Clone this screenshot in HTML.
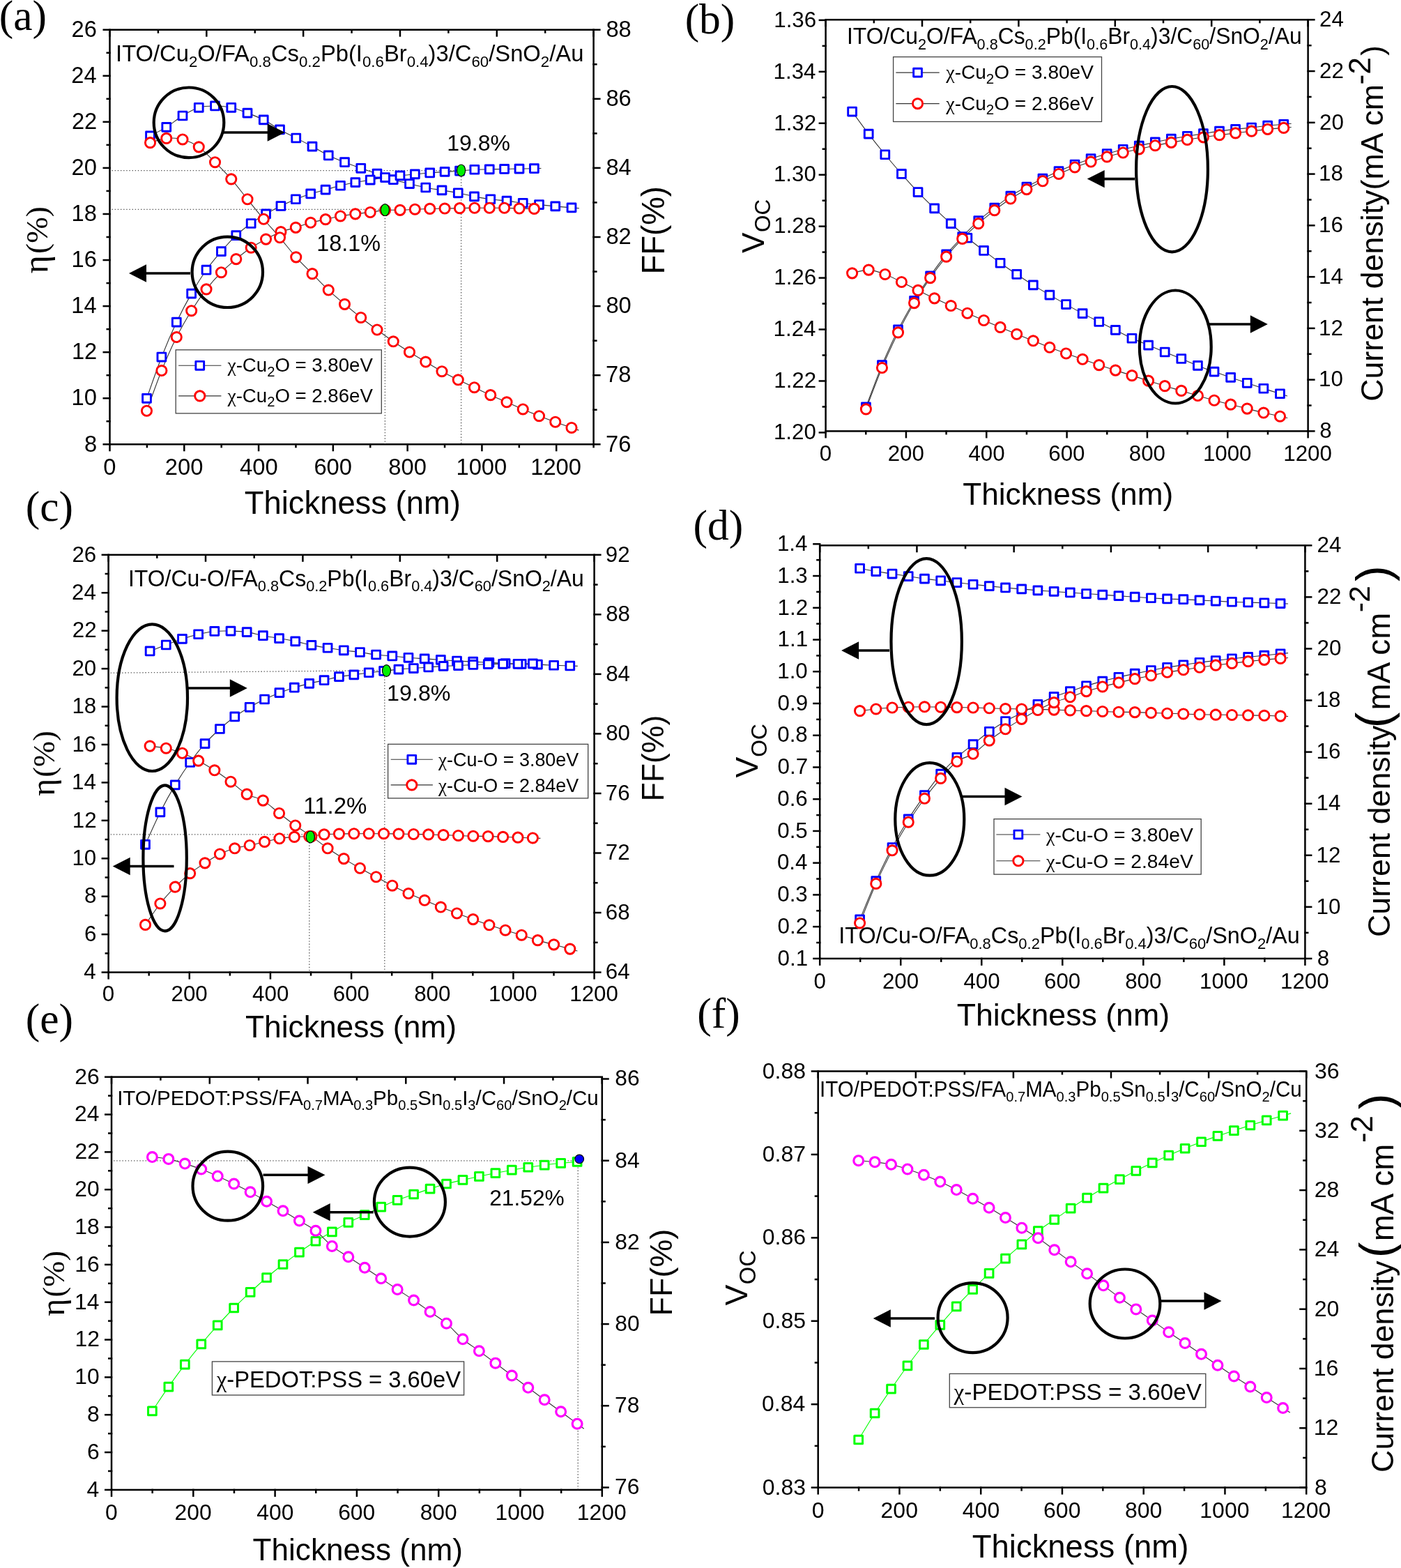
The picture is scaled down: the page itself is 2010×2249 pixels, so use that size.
<!DOCTYPE html>
<html><head><meta charset="utf-8"><title>Figure</title>
<style>html,body{margin:0;padding:0;background:#fff;overflow:hidden;}svg{display:block;}</style>
</head><body>
<svg width="2010" height="2249" viewBox="0 0 2010 2249">
<rect width="2010" height="2249" fill="#fff"/>
<rect x="157.5" y="42.7" width="694.1" height="594.6" fill="none" stroke="#000" stroke-width="2.5"/>
<line x1="157.5" y1="636.05" x2="157.5" y2="647.3" stroke="#000" stroke-width="2.5" />
<g transform="translate(148.34,680.7)"><text x="0" y="0" font-size="32.7" font-family="'Liberation Sans', Arial, sans-serif" >0</text></g>
<line x1="210.89" y1="636.05" x2="210.89" y2="642.3" stroke="#000" stroke-width="2.5" />
<line x1="264.28" y1="636.05" x2="264.28" y2="647.3" stroke="#000" stroke-width="2.5" />
<g transform="translate(236.82,680.7)"><text x="0" y="0" font-size="32.7" font-family="'Liberation Sans', Arial, sans-serif" >200</text></g>
<line x1="317.68" y1="636.05" x2="317.68" y2="642.3" stroke="#000" stroke-width="2.5" />
<line x1="371.07" y1="636.05" x2="371.07" y2="647.3" stroke="#000" stroke-width="2.5" />
<g transform="translate(344.09,680.7)"><text x="0" y="0" font-size="32.7" font-family="'Liberation Sans', Arial, sans-serif" >400</text></g>
<line x1="424.46" y1="636.05" x2="424.46" y2="642.3" stroke="#000" stroke-width="2.5" />
<line x1="477.85" y1="636.05" x2="477.85" y2="647.3" stroke="#000" stroke-width="2.5" />
<g transform="translate(450.39,680.7)"><text x="0" y="0" font-size="32.7" font-family="'Liberation Sans', Arial, sans-serif" >600</text></g>
<line x1="531.25" y1="636.05" x2="531.25" y2="642.3" stroke="#000" stroke-width="2.5" />
<line x1="584.64" y1="636.05" x2="584.64" y2="647.3" stroke="#000" stroke-width="2.5" />
<g transform="translate(557.33,680.7)"><text x="0" y="0" font-size="32.7" font-family="'Liberation Sans', Arial, sans-serif" >800</text></g>
<line x1="638.03" y1="636.05" x2="638.03" y2="642.3" stroke="#000" stroke-width="2.5" />
<line x1="691.42" y1="636.05" x2="691.42" y2="647.3" stroke="#000" stroke-width="2.5" />
<g transform="translate(654.47,680.7)"><text x="0" y="0" font-size="32.7" font-family="'Liberation Sans', Arial, sans-serif" >1000</text></g>
<line x1="744.82" y1="636.05" x2="744.82" y2="642.3" stroke="#000" stroke-width="2.5" />
<line x1="798.21" y1="636.05" x2="798.21" y2="647.3" stroke="#000" stroke-width="2.5" />
<g transform="translate(761.26,680.7)"><text x="0" y="0" font-size="32.7" font-family="'Liberation Sans', Arial, sans-serif" >1200</text></g>
<line x1="851.6" y1="636.05" x2="851.6" y2="642.3" stroke="#000" stroke-width="2.5" />
<line x1="157.5" y1="42.7" x2="157.5" y2="52.7" stroke="#000" stroke-width="2.5" />
<line x1="226.91" y1="42.7" x2="226.91" y2="47.7" stroke="#000" stroke-width="2.5" />
<line x1="296.32" y1="42.7" x2="296.32" y2="52.7" stroke="#000" stroke-width="2.5" />
<line x1="365.73" y1="42.7" x2="365.73" y2="47.7" stroke="#000" stroke-width="2.5" />
<line x1="435.14" y1="42.7" x2="435.14" y2="52.7" stroke="#000" stroke-width="2.5" />
<line x1="504.55" y1="42.7" x2="504.55" y2="47.7" stroke="#000" stroke-width="2.5" />
<line x1="573.96" y1="42.7" x2="573.96" y2="52.7" stroke="#000" stroke-width="2.5" />
<line x1="643.37" y1="42.7" x2="643.37" y2="47.7" stroke="#000" stroke-width="2.5" />
<line x1="712.78" y1="42.7" x2="712.78" y2="52.7" stroke="#000" stroke-width="2.5" />
<line x1="782.19" y1="42.7" x2="782.19" y2="47.7" stroke="#000" stroke-width="2.5" />
<line x1="851.6" y1="42.7" x2="851.6" y2="52.7" stroke="#000" stroke-width="2.5" />
<line x1="147.5" y1="637.3" x2="158.75" y2="637.3" stroke="#000" stroke-width="2.5" />
<g transform="translate(120.92,647.54)"><text x="0" y="0" font-size="32.7" font-family="'Liberation Sans', Arial, sans-serif" >8</text></g>
<line x1="152.5" y1="604.27" x2="158.75" y2="604.27" stroke="#000" stroke-width="2.5" />
<line x1="147.5" y1="571.23" x2="158.75" y2="571.23" stroke="#000" stroke-width="2.5" />
<g transform="translate(102.61,581.48)"><text x="0" y="0" font-size="32.7" font-family="'Liberation Sans', Arial, sans-serif" >10</text></g>
<line x1="152.5" y1="538.2" x2="158.75" y2="538.2" stroke="#000" stroke-width="2.5" />
<line x1="147.5" y1="505.17" x2="158.75" y2="505.17" stroke="#000" stroke-width="2.5" />
<g transform="translate(102.94,515.41)"><text x="0" y="0" font-size="32.7" font-family="'Liberation Sans', Arial, sans-serif" >12</text></g>
<line x1="152.5" y1="472.13" x2="158.75" y2="472.13" stroke="#000" stroke-width="2.5" />
<line x1="147.5" y1="439.1" x2="158.75" y2="439.1" stroke="#000" stroke-width="2.5" />
<g transform="translate(102.28,449.35)"><text x="0" y="0" font-size="32.7" font-family="'Liberation Sans', Arial, sans-serif" >14</text></g>
<line x1="152.5" y1="406.07" x2="158.75" y2="406.07" stroke="#000" stroke-width="2.5" />
<line x1="147.5" y1="373.03" x2="158.75" y2="373.03" stroke="#000" stroke-width="2.5" />
<g transform="translate(102.61,383.28)"><text x="0" y="0" font-size="32.7" font-family="'Liberation Sans', Arial, sans-serif" >16</text></g>
<line x1="152.5" y1="340" x2="158.75" y2="340" stroke="#000" stroke-width="2.5" />
<line x1="147.5" y1="306.97" x2="158.75" y2="306.97" stroke="#000" stroke-width="2.5" />
<g transform="translate(102.61,317.21)"><text x="0" y="0" font-size="32.7" font-family="'Liberation Sans', Arial, sans-serif" >18</text></g>
<line x1="152.5" y1="273.93" x2="158.75" y2="273.93" stroke="#000" stroke-width="2.5" />
<line x1="147.5" y1="240.9" x2="158.75" y2="240.9" stroke="#000" stroke-width="2.5" />
<g transform="translate(102.61,251.15)"><text x="0" y="0" font-size="32.7" font-family="'Liberation Sans', Arial, sans-serif" >20</text></g>
<line x1="152.5" y1="207.87" x2="158.75" y2="207.87" stroke="#000" stroke-width="2.5" />
<line x1="147.5" y1="174.83" x2="158.75" y2="174.83" stroke="#000" stroke-width="2.5" />
<g transform="translate(102.94,185.08)"><text x="0" y="0" font-size="32.7" font-family="'Liberation Sans', Arial, sans-serif" >22</text></g>
<line x1="152.5" y1="141.8" x2="158.75" y2="141.8" stroke="#000" stroke-width="2.5" />
<line x1="147.5" y1="108.77" x2="158.75" y2="108.77" stroke="#000" stroke-width="2.5" />
<g transform="translate(102.28,119.01)"><text x="0" y="0" font-size="32.7" font-family="'Liberation Sans', Arial, sans-serif" >24</text></g>
<line x1="152.5" y1="75.73" x2="158.75" y2="75.73" stroke="#000" stroke-width="2.5" />
<line x1="147.5" y1="42.7" x2="158.75" y2="42.7" stroke="#000" stroke-width="2.5" />
<g transform="translate(102.61,52.95)"><text x="0" y="0" font-size="32.7" font-family="'Liberation Sans', Arial, sans-serif" >26</text></g>
<line x1="850.35" y1="637.3" x2="861.6" y2="637.3" stroke="#000" stroke-width="2.5" />
<g transform="translate(869.07,647.54)"><text x="0" y="0" font-size="32.7" font-family="'Liberation Sans', Arial, sans-serif" >76</text></g>
<line x1="850.35" y1="587.75" x2="856.6" y2="587.75" stroke="#000" stroke-width="2.5" />
<line x1="850.35" y1="538.2" x2="861.6" y2="538.2" stroke="#000" stroke-width="2.5" />
<g transform="translate(869.07,548.44)"><text x="0" y="0" font-size="32.7" font-family="'Liberation Sans', Arial, sans-serif" >78</text></g>
<line x1="850.35" y1="488.65" x2="856.6" y2="488.65" stroke="#000" stroke-width="2.5" />
<line x1="850.35" y1="439.1" x2="861.6" y2="439.1" stroke="#000" stroke-width="2.5" />
<g transform="translate(869.39,449.35)"><text x="0" y="0" font-size="32.7" font-family="'Liberation Sans', Arial, sans-serif" >80</text></g>
<line x1="850.35" y1="389.55" x2="856.6" y2="389.55" stroke="#000" stroke-width="2.5" />
<line x1="850.35" y1="340" x2="861.6" y2="340" stroke="#000" stroke-width="2.5" />
<g transform="translate(869.39,350.25)"><text x="0" y="0" font-size="32.7" font-family="'Liberation Sans', Arial, sans-serif" >82</text></g>
<line x1="850.35" y1="290.45" x2="856.6" y2="290.45" stroke="#000" stroke-width="2.5" />
<line x1="850.35" y1="240.9" x2="861.6" y2="240.9" stroke="#000" stroke-width="2.5" />
<g transform="translate(869.39,251.15)"><text x="0" y="0" font-size="32.7" font-family="'Liberation Sans', Arial, sans-serif" >84</text></g>
<line x1="850.35" y1="191.35" x2="856.6" y2="191.35" stroke="#000" stroke-width="2.5" />
<line x1="850.35" y1="141.8" x2="861.6" y2="141.8" stroke="#000" stroke-width="2.5" />
<g transform="translate(869.39,152.05)"><text x="0" y="0" font-size="32.7" font-family="'Liberation Sans', Arial, sans-serif" >86</text></g>
<line x1="850.35" y1="92.25" x2="856.6" y2="92.25" stroke="#000" stroke-width="2.5" />
<line x1="850.35" y1="42.7" x2="861.6" y2="42.7" stroke="#000" stroke-width="2.5" />
<g transform="translate(869.39,52.95)"><text x="0" y="0" font-size="32.7" font-family="'Liberation Sans', Arial, sans-serif" >88</text></g>
<g transform="translate(-1.16,42.72)"><text x="0" y="0" font-size="61.5" font-family="'Liberation Serif', 'Times New Roman', serif" >(a)</text></g>
<g transform="translate(350.79,737.1)"><text x="0" y="0" font-size="45.36" font-family="'Liberation Sans', Arial, sans-serif" >Thickness (nm)</text></g>
<g transform="translate(67.9,392.2) rotate(-90)"><text x="0" y="0" font-size="49.78" font-family="'Liberation Serif', 'Times New Roman', serif" >η</text></g>
<g transform="translate(67.9,363.91) rotate(-90)"><text x="0" y="0" font-size="45.18" font-family="'Liberation Serif', 'Times New Roman', serif" >(%)</text></g>
<g transform="translate(952.8,393.55) rotate(-90)"><text x="0" y="0" font-size="45.57" font-family="'Liberation Sans', Arial, sans-serif" >FF(%)</text></g>
<g transform="translate(166.05,88.3)"><g transform="scale(1,1.03)"><text x="0" y="0" font-size="32.75" font-family="'Liberation Sans', Arial, sans-serif" >ITO/Cu<tspan font-size="22.27" dy="7.7">2</tspan><tspan dy="-7.7">​</tspan>O/FA<tspan font-size="22.27" dy="7.7">0.8</tspan><tspan dy="-7.7">​</tspan>Cs<tspan font-size="22.27" dy="7.7">0.2</tspan><tspan dy="-7.7">​</tspan>Pb(I<tspan font-size="22.27" dy="7.7">0.6</tspan><tspan dy="-7.7">​</tspan>Br<tspan font-size="22.27" dy="7.7">0.4</tspan><tspan dy="-7.7">​</tspan>)3/C<tspan font-size="22.27" dy="7.7">60</tspan><tspan dy="-7.7">​</tspan>/SnO<tspan font-size="22.27" dy="7.7">2</tspan><tspan dy="-7.7">​</tspan>/Au</text></g></g>
<line x1="160.5" y1="244.7" x2="661.6" y2="244.7" stroke="#555" stroke-width="1.3" stroke-dasharray="1.4 2.75"/>
<line x1="160.5" y1="300.4" x2="552.4" y2="300.4" stroke="#555" stroke-width="1.3" stroke-dasharray="1.4 2.75"/>
<line x1="661.6" y1="244.7" x2="661.6" y2="637.3" stroke="#555" stroke-width="1.3" stroke-dasharray="1.4 2.75"/>
<line x1="552.4" y1="300.4" x2="552.4" y2="637.3" stroke="#555" stroke-width="1.3" stroke-dasharray="1.4 2.75"/>
<path d="M215.5,194.87 C219.38,192.79 231,187.2 238.75,182.39 C246.5,177.58 254.25,170.69 262,166 C269.75,161.32 277.5,156.64 285.25,154.3 C293,151.96 300.75,151.96 308.5,151.96 C316.25,151.96 324,152.61 331.75,154.3 C339.5,155.99 347.25,159.18 355,162.1 C362.75,165.03 370.5,167.89 378.25,171.86 C386,175.82 393.75,181.54 401.5,185.9 C409.25,190.26 417,193.96 424.75,197.99 C432.5,202.02 440.25,205.93 448,210.09 C455.75,214.25 463.5,219.19 471.25,222.96 C479,226.73 486.75,229.66 494.5,232.71 C502.25,235.77 510,238.56 517.75,241.3 C525.5,244.03 533.25,246.37 541,249.1 C548.75,251.83 556.5,255.27 564.25,257.68 C572,260.09 579.75,261.65 587.5,263.53 C595.25,265.42 603,267.43 610.75,268.99 C618.5,270.55 626.25,271.59 634,272.89 C641.75,274.19 649.5,275.3 657.25,276.79 C665,278.29 672.75,280.37 680.5,281.87 C688.25,283.36 696,284.73 703.75,285.77 C711.5,286.81 719.25,287.2 727,288.11 C734.75,289.02 742.5,290.32 750.25,291.23 C758,292.14 765.75,292.79 773.5,293.57 C781.25,294.35 789,295.19 796.75,295.91 C804.5,296.63 814.3,297.38 820,297.86 C825.7,298.34 829.13,298.63 830.96,298.78" fill="none" stroke="#333" stroke-width="1.1" stroke-linejoin="round"/>
<path d="M210.5,571.33 C214.06,561.44 224.75,530.23 231.88,512.03 C239.01,493.82 246.13,477.24 253.26,462.1 C260.39,446.95 267.51,433.62 274.64,421.13 C281.77,408.65 288.89,397.27 296.02,387.2 C303.15,377.12 310.27,368.93 317.4,360.67 C324.53,352.41 331.65,344.35 338.78,337.65 C345.91,330.95 353.03,325.62 360.16,320.49 C367.29,315.35 374.41,310.99 381.54,306.83 C388.67,302.67 395.79,299.03 402.92,295.52 C410.05,292.01 417.17,288.69 424.3,285.77 C431.43,282.84 438.55,280.24 445.68,277.97 C452.81,275.69 459.93,274.06 467.06,272.11 C474.19,270.16 481.31,268.02 488.44,266.26 C495.57,264.51 502.69,262.95 509.82,261.58 C516.95,260.22 524.07,259.24 531.2,258.07 C538.33,256.9 545.45,255.6 552.58,254.56 C559.71,253.52 566.83,252.61 573.96,251.83 C581.09,251.05 588.21,250.53 595.34,249.88 C602.47,249.23 609.59,248.51 616.72,247.93 C623.85,247.34 630.97,246.82 638.1,246.37 C645.23,245.91 652.35,245.72 659.48,245.2 C666.61,244.68 673.73,243.64 680.86,243.25 C687.99,242.86 695.11,242.99 702.24,242.86 C709.37,242.73 716.49,242.6 723.62,242.47 C730.75,242.34 737.87,242.21 745,242.08 C752.13,241.95 761.15,241.78 766.38,241.69 C771.61,241.59 774.71,241.53 776.38,241.5" fill="none" stroke="#333" stroke-width="1.1" stroke-linejoin="round"/>
<path d="M210.5,589.27 C214.06,579.65 224.75,549.15 231.88,531.53 C239.01,513.91 246.13,497.86 253.26,483.55 C260.39,469.25 267.51,457.15 274.64,445.71 C281.77,434.27 288.89,424.06 296.02,414.89 C303.15,405.73 310.27,397.92 317.4,390.71 C324.53,383.49 331.65,377.51 338.78,371.59 C345.91,365.67 353.03,359.95 360.16,355.21 C367.29,350.46 374.41,346.88 381.54,343.11 C388.67,339.34 395.79,335.38 402.92,332.58 C410.05,329.78 417.17,328.55 424.3,326.34 C431.43,324.13 438.55,321.27 445.68,319.32 C452.81,317.37 459.93,316.2 467.06,314.64 C474.19,313.07 481.31,311.25 488.44,309.95 C495.57,308.65 502.69,307.74 509.82,306.83 C516.95,305.92 524.07,305.4 531.2,304.49 C538.33,303.58 545.45,301.89 552.58,301.37 C559.71,300.85 566.83,301.57 573.96,301.37 C581.09,301.18 588.21,300.53 595.34,300.2 C602.47,299.88 609.59,299.62 616.72,299.42 C623.85,299.23 630.97,299.16 638.1,299.03 C645.23,298.9 652.35,298.77 659.48,298.64 C666.61,298.51 673.73,298.32 680.86,298.25 C687.99,298.19 695.11,298.25 702.24,298.25 C709.37,298.25 716.49,298.12 723.62,298.25 C730.75,298.38 737.87,298.84 745,299.03 C752.13,299.23 761.15,299.33 766.38,299.42 C771.61,299.52 774.71,299.57 776.38,299.6" fill="none" stroke="#333" stroke-width="1.1" stroke-linejoin="round"/>
<path d="M215.5,204.63 C219.38,203.58 231,199.16 238.75,198.38 C246.5,197.6 254.25,197.86 262,199.94 C269.75,202.02 277.5,205.41 285.25,210.87 C293,216.33 300.75,225.04 308.5,232.71 C316.25,240.38 324,248.06 331.75,256.9 C339.5,265.74 347.25,276.21 355,285.77 C362.75,295.32 370.5,305.08 378.25,314.25 C386,323.41 393.75,331.67 401.5,340.77 C409.25,349.87 417,360.21 424.75,368.86 C432.5,377.51 440.25,384.79 448,392.66 C455.75,400.52 463.5,408.78 471.25,416.06 C479,423.35 486.75,429.78 494.5,436.35 C502.25,442.92 510,449.35 517.75,455.46 C525.5,461.58 533.25,467.3 541,473.02 C548.75,478.74 556.5,484.46 564.25,489.79 C572,495.12 579.75,500.13 587.5,505.01 C595.25,509.88 603,514.43 610.75,519.05 C618.5,523.67 626.25,528.41 634,532.71 C641.75,537 649.5,540.96 657.25,544.8 C665,548.63 672.75,552.08 680.5,555.72 C688.25,559.36 696,563.13 703.75,566.64 C711.5,570.16 719.25,573.41 727,576.79 C734.75,580.17 742.5,583.61 750.25,586.93 C758,590.25 765.75,593.63 773.5,596.68 C781.25,599.74 789,602.47 796.75,605.26 C804.5,608.06 814.4,611.48 820,613.46 C825.6,615.43 828.65,616.5 830.37,617.11" fill="none" stroke="#333" stroke-width="1.1" stroke-linejoin="round"/>
<rect x="209.6" y="188.97" width="11.8" height="11.8" fill="#fff" stroke="#0000ff" stroke-width="2.9" stroke-linejoin="round"/>
<rect x="232.85" y="176.49" width="11.8" height="11.8" fill="#fff" stroke="#0000ff" stroke-width="2.9" stroke-linejoin="round"/>
<rect x="256.1" y="160.1" width="11.8" height="11.8" fill="#fff" stroke="#0000ff" stroke-width="2.9" stroke-linejoin="round"/>
<rect x="279.35" y="148.4" width="11.8" height="11.8" fill="#fff" stroke="#0000ff" stroke-width="2.9" stroke-linejoin="round"/>
<rect x="302.6" y="146.06" width="11.8" height="11.8" fill="#fff" stroke="#0000ff" stroke-width="2.9" stroke-linejoin="round"/>
<rect x="325.85" y="148.4" width="11.8" height="11.8" fill="#fff" stroke="#0000ff" stroke-width="2.9" stroke-linejoin="round"/>
<rect x="349.1" y="156.2" width="11.8" height="11.8" fill="#fff" stroke="#0000ff" stroke-width="2.9" stroke-linejoin="round"/>
<rect x="372.35" y="165.96" width="11.8" height="11.8" fill="#fff" stroke="#0000ff" stroke-width="2.9" stroke-linejoin="round"/>
<rect x="395.6" y="180" width="11.8" height="11.8" fill="#fff" stroke="#0000ff" stroke-width="2.9" stroke-linejoin="round"/>
<rect x="418.85" y="192.09" width="11.8" height="11.8" fill="#fff" stroke="#0000ff" stroke-width="2.9" stroke-linejoin="round"/>
<rect x="442.1" y="204.19" width="11.8" height="11.8" fill="#fff" stroke="#0000ff" stroke-width="2.9" stroke-linejoin="round"/>
<rect x="465.35" y="217.06" width="11.8" height="11.8" fill="#fff" stroke="#0000ff" stroke-width="2.9" stroke-linejoin="round"/>
<rect x="488.6" y="226.81" width="11.8" height="11.8" fill="#fff" stroke="#0000ff" stroke-width="2.9" stroke-linejoin="round"/>
<rect x="511.85" y="235.4" width="11.8" height="11.8" fill="#fff" stroke="#0000ff" stroke-width="2.9" stroke-linejoin="round"/>
<rect x="535.1" y="243.2" width="11.8" height="11.8" fill="#fff" stroke="#0000ff" stroke-width="2.9" stroke-linejoin="round"/>
<rect x="558.35" y="251.78" width="11.8" height="11.8" fill="#fff" stroke="#0000ff" stroke-width="2.9" stroke-linejoin="round"/>
<rect x="581.6" y="257.63" width="11.8" height="11.8" fill="#fff" stroke="#0000ff" stroke-width="2.9" stroke-linejoin="round"/>
<rect x="604.85" y="263.09" width="11.8" height="11.8" fill="#fff" stroke="#0000ff" stroke-width="2.9" stroke-linejoin="round"/>
<rect x="628.1" y="266.99" width="11.8" height="11.8" fill="#fff" stroke="#0000ff" stroke-width="2.9" stroke-linejoin="round"/>
<rect x="651.35" y="270.89" width="11.8" height="11.8" fill="#fff" stroke="#0000ff" stroke-width="2.9" stroke-linejoin="round"/>
<rect x="674.6" y="275.97" width="11.8" height="11.8" fill="#fff" stroke="#0000ff" stroke-width="2.9" stroke-linejoin="round"/>
<rect x="697.85" y="279.87" width="11.8" height="11.8" fill="#fff" stroke="#0000ff" stroke-width="2.9" stroke-linejoin="round"/>
<rect x="721.1" y="282.21" width="11.8" height="11.8" fill="#fff" stroke="#0000ff" stroke-width="2.9" stroke-linejoin="round"/>
<rect x="744.35" y="285.33" width="11.8" height="11.8" fill="#fff" stroke="#0000ff" stroke-width="2.9" stroke-linejoin="round"/>
<rect x="767.6" y="287.67" width="11.8" height="11.8" fill="#fff" stroke="#0000ff" stroke-width="2.9" stroke-linejoin="round"/>
<rect x="790.85" y="290.01" width="11.8" height="11.8" fill="#fff" stroke="#0000ff" stroke-width="2.9" stroke-linejoin="round"/>
<rect x="814.1" y="291.96" width="11.8" height="11.8" fill="#fff" stroke="#0000ff" stroke-width="2.9" stroke-linejoin="round"/>
<rect x="204.6" y="565.43" width="11.8" height="11.8" fill="#fff" stroke="#0000ff" stroke-width="2.9" stroke-linejoin="round"/>
<rect x="225.98" y="506.13" width="11.8" height="11.8" fill="#fff" stroke="#0000ff" stroke-width="2.9" stroke-linejoin="round"/>
<rect x="247.36" y="456.2" width="11.8" height="11.8" fill="#fff" stroke="#0000ff" stroke-width="2.9" stroke-linejoin="round"/>
<rect x="268.74" y="415.23" width="11.8" height="11.8" fill="#fff" stroke="#0000ff" stroke-width="2.9" stroke-linejoin="round"/>
<rect x="290.12" y="381.3" width="11.8" height="11.8" fill="#fff" stroke="#0000ff" stroke-width="2.9" stroke-linejoin="round"/>
<rect x="311.5" y="354.77" width="11.8" height="11.8" fill="#fff" stroke="#0000ff" stroke-width="2.9" stroke-linejoin="round"/>
<rect x="332.88" y="331.75" width="11.8" height="11.8" fill="#fff" stroke="#0000ff" stroke-width="2.9" stroke-linejoin="round"/>
<rect x="354.26" y="314.59" width="11.8" height="11.8" fill="#fff" stroke="#0000ff" stroke-width="2.9" stroke-linejoin="round"/>
<rect x="375.64" y="300.93" width="11.8" height="11.8" fill="#fff" stroke="#0000ff" stroke-width="2.9" stroke-linejoin="round"/>
<rect x="397.02" y="289.62" width="11.8" height="11.8" fill="#fff" stroke="#0000ff" stroke-width="2.9" stroke-linejoin="round"/>
<rect x="418.4" y="279.87" width="11.8" height="11.8" fill="#fff" stroke="#0000ff" stroke-width="2.9" stroke-linejoin="round"/>
<rect x="439.78" y="272.07" width="11.8" height="11.8" fill="#fff" stroke="#0000ff" stroke-width="2.9" stroke-linejoin="round"/>
<rect x="461.16" y="266.21" width="11.8" height="11.8" fill="#fff" stroke="#0000ff" stroke-width="2.9" stroke-linejoin="round"/>
<rect x="482.54" y="260.36" width="11.8" height="11.8" fill="#fff" stroke="#0000ff" stroke-width="2.9" stroke-linejoin="round"/>
<rect x="503.92" y="255.68" width="11.8" height="11.8" fill="#fff" stroke="#0000ff" stroke-width="2.9" stroke-linejoin="round"/>
<rect x="525.3" y="252.17" width="11.8" height="11.8" fill="#fff" stroke="#0000ff" stroke-width="2.9" stroke-linejoin="round"/>
<rect x="546.68" y="248.66" width="11.8" height="11.8" fill="#fff" stroke="#0000ff" stroke-width="2.9" stroke-linejoin="round"/>
<rect x="568.06" y="245.93" width="11.8" height="11.8" fill="#fff" stroke="#0000ff" stroke-width="2.9" stroke-linejoin="round"/>
<rect x="589.44" y="243.98" width="11.8" height="11.8" fill="#fff" stroke="#0000ff" stroke-width="2.9" stroke-linejoin="round"/>
<rect x="610.82" y="242.03" width="11.8" height="11.8" fill="#fff" stroke="#0000ff" stroke-width="2.9" stroke-linejoin="round"/>
<rect x="632.2" y="240.47" width="11.8" height="11.8" fill="#fff" stroke="#0000ff" stroke-width="2.9" stroke-linejoin="round"/>
<rect x="653.58" y="239.3" width="11.8" height="11.8" fill="#fff" stroke="#0000ff" stroke-width="2.9" stroke-linejoin="round"/>
<rect x="674.96" y="237.35" width="11.8" height="11.8" fill="#fff" stroke="#0000ff" stroke-width="2.9" stroke-linejoin="round"/>
<rect x="696.34" y="236.96" width="11.8" height="11.8" fill="#fff" stroke="#0000ff" stroke-width="2.9" stroke-linejoin="round"/>
<rect x="717.72" y="236.57" width="11.8" height="11.8" fill="#fff" stroke="#0000ff" stroke-width="2.9" stroke-linejoin="round"/>
<rect x="739.1" y="236.18" width="11.8" height="11.8" fill="#fff" stroke="#0000ff" stroke-width="2.9" stroke-linejoin="round"/>
<rect x="760.48" y="235.79" width="11.8" height="11.8" fill="#fff" stroke="#0000ff" stroke-width="2.9" stroke-linejoin="round"/>
<circle cx="210.5" cy="589.27" r="7.1" fill="#fff" stroke="#ff0000" stroke-width="2.9"/>
<circle cx="231.88" cy="531.53" r="7.1" fill="#fff" stroke="#ff0000" stroke-width="2.9"/>
<circle cx="253.26" cy="483.55" r="7.1" fill="#fff" stroke="#ff0000" stroke-width="2.9"/>
<circle cx="274.64" cy="445.71" r="7.1" fill="#fff" stroke="#ff0000" stroke-width="2.9"/>
<circle cx="296.02" cy="414.89" r="7.1" fill="#fff" stroke="#ff0000" stroke-width="2.9"/>
<circle cx="317.4" cy="390.71" r="7.1" fill="#fff" stroke="#ff0000" stroke-width="2.9"/>
<circle cx="338.78" cy="371.59" r="7.1" fill="#fff" stroke="#ff0000" stroke-width="2.9"/>
<circle cx="360.16" cy="355.21" r="7.1" fill="#fff" stroke="#ff0000" stroke-width="2.9"/>
<circle cx="381.54" cy="343.11" r="7.1" fill="#fff" stroke="#ff0000" stroke-width="2.9"/>
<circle cx="402.92" cy="332.58" r="7.1" fill="#fff" stroke="#ff0000" stroke-width="2.9"/>
<circle cx="424.3" cy="326.34" r="7.1" fill="#fff" stroke="#ff0000" stroke-width="2.9"/>
<circle cx="445.68" cy="319.32" r="7.1" fill="#fff" stroke="#ff0000" stroke-width="2.9"/>
<circle cx="467.06" cy="314.64" r="7.1" fill="#fff" stroke="#ff0000" stroke-width="2.9"/>
<circle cx="488.44" cy="309.95" r="7.1" fill="#fff" stroke="#ff0000" stroke-width="2.9"/>
<circle cx="509.82" cy="306.83" r="7.1" fill="#fff" stroke="#ff0000" stroke-width="2.9"/>
<circle cx="531.2" cy="304.49" r="7.1" fill="#fff" stroke="#ff0000" stroke-width="2.9"/>
<circle cx="552.58" cy="301.37" r="7.1" fill="#fff" stroke="#ff0000" stroke-width="2.9"/>
<circle cx="573.96" cy="301.37" r="7.1" fill="#fff" stroke="#ff0000" stroke-width="2.9"/>
<circle cx="595.34" cy="300.2" r="7.1" fill="#fff" stroke="#ff0000" stroke-width="2.9"/>
<circle cx="616.72" cy="299.42" r="7.1" fill="#fff" stroke="#ff0000" stroke-width="2.9"/>
<circle cx="638.1" cy="299.03" r="7.1" fill="#fff" stroke="#ff0000" stroke-width="2.9"/>
<circle cx="659.48" cy="298.64" r="7.1" fill="#fff" stroke="#ff0000" stroke-width="2.9"/>
<circle cx="680.86" cy="298.25" r="7.1" fill="#fff" stroke="#ff0000" stroke-width="2.9"/>
<circle cx="702.24" cy="298.25" r="7.1" fill="#fff" stroke="#ff0000" stroke-width="2.9"/>
<circle cx="723.62" cy="298.25" r="7.1" fill="#fff" stroke="#ff0000" stroke-width="2.9"/>
<circle cx="745" cy="299.03" r="7.1" fill="#fff" stroke="#ff0000" stroke-width="2.9"/>
<circle cx="766.38" cy="299.42" r="7.1" fill="#fff" stroke="#ff0000" stroke-width="2.9"/>
<circle cx="215.5" cy="204.63" r="7.1" fill="#fff" stroke="#ff0000" stroke-width="2.9"/>
<circle cx="238.75" cy="198.38" r="7.1" fill="#fff" stroke="#ff0000" stroke-width="2.9"/>
<circle cx="262" cy="199.94" r="7.1" fill="#fff" stroke="#ff0000" stroke-width="2.9"/>
<circle cx="285.25" cy="210.87" r="7.1" fill="#fff" stroke="#ff0000" stroke-width="2.9"/>
<circle cx="308.5" cy="232.71" r="7.1" fill="#fff" stroke="#ff0000" stroke-width="2.9"/>
<circle cx="331.75" cy="256.9" r="7.1" fill="#fff" stroke="#ff0000" stroke-width="2.9"/>
<circle cx="355" cy="285.77" r="7.1" fill="#fff" stroke="#ff0000" stroke-width="2.9"/>
<circle cx="378.25" cy="314.25" r="7.1" fill="#fff" stroke="#ff0000" stroke-width="2.9"/>
<circle cx="401.5" cy="340.77" r="7.1" fill="#fff" stroke="#ff0000" stroke-width="2.9"/>
<circle cx="424.75" cy="368.86" r="7.1" fill="#fff" stroke="#ff0000" stroke-width="2.9"/>
<circle cx="448" cy="392.66" r="7.1" fill="#fff" stroke="#ff0000" stroke-width="2.9"/>
<circle cx="471.25" cy="416.06" r="7.1" fill="#fff" stroke="#ff0000" stroke-width="2.9"/>
<circle cx="494.5" cy="436.35" r="7.1" fill="#fff" stroke="#ff0000" stroke-width="2.9"/>
<circle cx="517.75" cy="455.46" r="7.1" fill="#fff" stroke="#ff0000" stroke-width="2.9"/>
<circle cx="541" cy="473.02" r="7.1" fill="#fff" stroke="#ff0000" stroke-width="2.9"/>
<circle cx="564.25" cy="489.79" r="7.1" fill="#fff" stroke="#ff0000" stroke-width="2.9"/>
<circle cx="587.5" cy="505.01" r="7.1" fill="#fff" stroke="#ff0000" stroke-width="2.9"/>
<circle cx="610.75" cy="519.05" r="7.1" fill="#fff" stroke="#ff0000" stroke-width="2.9"/>
<circle cx="634" cy="532.71" r="7.1" fill="#fff" stroke="#ff0000" stroke-width="2.9"/>
<circle cx="657.25" cy="544.8" r="7.1" fill="#fff" stroke="#ff0000" stroke-width="2.9"/>
<circle cx="680.5" cy="555.72" r="7.1" fill="#fff" stroke="#ff0000" stroke-width="2.9"/>
<circle cx="703.75" cy="566.64" r="7.1" fill="#fff" stroke="#ff0000" stroke-width="2.9"/>
<circle cx="727" cy="576.79" r="7.1" fill="#fff" stroke="#ff0000" stroke-width="2.9"/>
<circle cx="750.25" cy="586.93" r="7.1" fill="#fff" stroke="#ff0000" stroke-width="2.9"/>
<circle cx="773.5" cy="596.68" r="7.1" fill="#fff" stroke="#ff0000" stroke-width="2.9"/>
<circle cx="796.75" cy="605.26" r="7.1" fill="#fff" stroke="#ff0000" stroke-width="2.9"/>
<circle cx="820" cy="613.46" r="7.1" fill="#fff" stroke="#ff0000" stroke-width="2.9"/>
<ellipse cx="661.6" cy="244.4" rx="6" ry="8.4" fill="#00f000" stroke="#000" stroke-width="1.2"/>
<ellipse cx="552.4" cy="301.1" rx="6" ry="8.4" fill="#00f000" stroke="#000" stroke-width="1.2"/>
<g transform="translate(641.24,215.9)"><text x="0" y="0" font-size="32.02" font-family="'Liberation Sans', Arial, sans-serif" >19.8%</text></g>
<g transform="translate(454.21,359.9)"><text x="0" y="0" font-size="32.35" font-family="'Liberation Sans', Arial, sans-serif" >18.1%</text></g>
<ellipse cx="271" cy="175.8" rx="50.3" ry="50.3" fill="none" stroke="#000" stroke-width="4.2"/>
<ellipse cx="326.3" cy="390.3" rx="50.7" ry="50.7" fill="none" stroke="#000" stroke-width="4.2"/>
<line x1="320" y1="190" x2="384.7" y2="190" stroke="#000" stroke-width="3.6" stroke-linecap="butt"/>
<polygon points="408.7,190 383.7,177.35 383.7,202.65" fill="#000"/>
<line x1="273" y1="392" x2="209" y2="392" stroke="#000" stroke-width="3.6" stroke-linecap="butt"/>
<polygon points="185,392 210,379.35 210,404.65" fill="#000"/>
<rect x="252.2" y="501.8" width="295.1" height="91.1" fill="#fff" stroke="#444" stroke-width="1.3"/>
<line x1="256.1" y1="524.3" x2="317.4" y2="524.3" stroke="#333" stroke-width="1.1" />
<rect x="280.85" y="518.4" width="11.8" height="11.8" fill="#fff" stroke="#0000ff" stroke-width="2.9" stroke-linejoin="round"/>
<g transform="translate(326.4,533.3)"><text x="0" y="0" font-size="27.61" font-family="'Liberation Sans', Arial, sans-serif" ><tspan font-family="'Liberation Serif', 'Times New Roman', serif">χ</tspan>-Cu<tspan font-size="20.16" dy="6.49">2</tspan><tspan dy="-6.49">​</tspan>O = 3.80eV</text></g>
<line x1="256.1" y1="567.9" x2="317.4" y2="567.9" stroke="#333" stroke-width="1.1" />
<circle cx="286.75" cy="567.9" r="7.1" fill="#fff" stroke="#ff0000" stroke-width="2.9"/>
<g transform="translate(326.4,576.8)"><text x="0" y="0" font-size="27.61" font-family="'Liberation Sans', Arial, sans-serif" ><tspan font-family="'Liberation Serif', 'Times New Roman', serif">χ</tspan>-Cu<tspan font-size="20.16" dy="6.49">2</tspan><tspan dy="-6.49">​</tspan>O = 2.86eV</text></g>
<rect x="1184.6" y="28.3" width="692" height="590.1" fill="none" stroke="#000" stroke-width="2.5"/>
<line x1="1184.6" y1="617.15" x2="1184.6" y2="628.4" stroke="#000" stroke-width="2.5" />
<g transform="translate(1175.84,660.6)"><text x="0" y="0" font-size="31.3" font-family="'Liberation Sans', Arial, sans-serif" >0</text></g>
<line x1="1242.27" y1="617.15" x2="1242.27" y2="623.4" stroke="#000" stroke-width="2.5" />
<line x1="1299.93" y1="617.15" x2="1299.93" y2="628.4" stroke="#000" stroke-width="2.5" />
<g transform="translate(1273.64,660.6)"><text x="0" y="0" font-size="31.3" font-family="'Liberation Sans', Arial, sans-serif" >200</text></g>
<line x1="1357.6" y1="617.15" x2="1357.6" y2="623.4" stroke="#000" stroke-width="2.5" />
<line x1="1415.27" y1="617.15" x2="1415.27" y2="628.4" stroke="#000" stroke-width="2.5" />
<g transform="translate(1389.44,660.6)"><text x="0" y="0" font-size="31.3" font-family="'Liberation Sans', Arial, sans-serif" >400</text></g>
<line x1="1472.93" y1="617.15" x2="1472.93" y2="623.4" stroke="#000" stroke-width="2.5" />
<line x1="1530.6" y1="617.15" x2="1530.6" y2="628.4" stroke="#000" stroke-width="2.5" />
<g transform="translate(1504.31,660.6)"><text x="0" y="0" font-size="31.3" font-family="'Liberation Sans', Arial, sans-serif" >600</text></g>
<line x1="1588.27" y1="617.15" x2="1588.27" y2="623.4" stroke="#000" stroke-width="2.5" />
<line x1="1645.93" y1="617.15" x2="1645.93" y2="628.4" stroke="#000" stroke-width="2.5" />
<g transform="translate(1619.8,660.6)"><text x="0" y="0" font-size="31.3" font-family="'Liberation Sans', Arial, sans-serif" >800</text></g>
<line x1="1703.6" y1="617.15" x2="1703.6" y2="623.4" stroke="#000" stroke-width="2.5" />
<line x1="1761.27" y1="617.15" x2="1761.27" y2="628.4" stroke="#000" stroke-width="2.5" />
<g transform="translate(1725.9,660.6)"><text x="0" y="0" font-size="31.3" font-family="'Liberation Sans', Arial, sans-serif" >1000</text></g>
<line x1="1818.93" y1="617.15" x2="1818.93" y2="623.4" stroke="#000" stroke-width="2.5" />
<line x1="1876.6" y1="617.15" x2="1876.6" y2="628.4" stroke="#000" stroke-width="2.5" />
<g transform="translate(1841.23,660.6)"><text x="0" y="0" font-size="31.3" font-family="'Liberation Sans', Arial, sans-serif" >1200</text></g>
<line x1="1184.6" y1="28.3" x2="1184.6" y2="38.3" stroke="#000" stroke-width="2.5" />
<line x1="1253.8" y1="28.3" x2="1253.8" y2="33.3" stroke="#000" stroke-width="2.5" />
<line x1="1323" y1="28.3" x2="1323" y2="38.3" stroke="#000" stroke-width="2.5" />
<line x1="1392.2" y1="28.3" x2="1392.2" y2="33.3" stroke="#000" stroke-width="2.5" />
<line x1="1461.4" y1="28.3" x2="1461.4" y2="38.3" stroke="#000" stroke-width="2.5" />
<line x1="1530.6" y1="28.3" x2="1530.6" y2="33.3" stroke="#000" stroke-width="2.5" />
<line x1="1599.8" y1="28.3" x2="1599.8" y2="38.3" stroke="#000" stroke-width="2.5" />
<line x1="1669" y1="28.3" x2="1669" y2="33.3" stroke="#000" stroke-width="2.5" />
<line x1="1738.2" y1="28.3" x2="1738.2" y2="38.3" stroke="#000" stroke-width="2.5" />
<line x1="1807.4" y1="28.3" x2="1807.4" y2="33.3" stroke="#000" stroke-width="2.5" />
<line x1="1876.6" y1="28.3" x2="1876.6" y2="38.3" stroke="#000" stroke-width="2.5" />
<line x1="1174.6" y1="620.4" x2="1185.85" y2="620.4" stroke="#000" stroke-width="2.5" />
<g transform="translate(1109.92,630.15)"><text x="0" y="0" font-size="31.3" font-family="'Liberation Sans', Arial, sans-serif" >1.20</text></g>
<line x1="1179.6" y1="583.43" x2="1185.85" y2="583.43" stroke="#000" stroke-width="2.5" />
<line x1="1174.6" y1="546.46" x2="1185.85" y2="546.46" stroke="#000" stroke-width="2.5" />
<g transform="translate(1110.23,556.22)"><text x="0" y="0" font-size="31.3" font-family="'Liberation Sans', Arial, sans-serif" >1.22</text></g>
<line x1="1179.6" y1="509.49" x2="1185.85" y2="509.49" stroke="#000" stroke-width="2.5" />
<line x1="1174.6" y1="472.52" x2="1185.85" y2="472.52" stroke="#000" stroke-width="2.5" />
<g transform="translate(1109.6,482.28)"><text x="0" y="0" font-size="31.3" font-family="'Liberation Sans', Arial, sans-serif" >1.24</text></g>
<line x1="1179.6" y1="435.56" x2="1185.85" y2="435.56" stroke="#000" stroke-width="2.5" />
<line x1="1174.6" y1="398.59" x2="1185.85" y2="398.59" stroke="#000" stroke-width="2.5" />
<g transform="translate(1110.23,408.34)"><text x="0" y="0" font-size="31.3" font-family="'Liberation Sans', Arial, sans-serif" >1.26</text></g>
<line x1="1179.6" y1="361.62" x2="1185.85" y2="361.62" stroke="#000" stroke-width="2.5" />
<line x1="1174.6" y1="324.65" x2="1185.85" y2="324.65" stroke="#000" stroke-width="2.5" />
<g transform="translate(1110.23,334.4)"><text x="0" y="0" font-size="31.3" font-family="'Liberation Sans', Arial, sans-serif" >1.28</text></g>
<line x1="1179.6" y1="287.68" x2="1185.85" y2="287.68" stroke="#000" stroke-width="2.5" />
<line x1="1174.6" y1="250.71" x2="1185.85" y2="250.71" stroke="#000" stroke-width="2.5" />
<g transform="translate(1109.92,260.47)"><text x="0" y="0" font-size="31.3" font-family="'Liberation Sans', Arial, sans-serif" >1.30</text></g>
<line x1="1179.6" y1="213.74" x2="1185.85" y2="213.74" stroke="#000" stroke-width="2.5" />
<line x1="1174.6" y1="176.78" x2="1185.85" y2="176.78" stroke="#000" stroke-width="2.5" />
<g transform="translate(1110.23,186.53)"><text x="0" y="0" font-size="31.3" font-family="'Liberation Sans', Arial, sans-serif" >1.32</text></g>
<line x1="1179.6" y1="139.81" x2="1185.85" y2="139.81" stroke="#000" stroke-width="2.5" />
<line x1="1174.6" y1="102.84" x2="1185.85" y2="102.84" stroke="#000" stroke-width="2.5" />
<g transform="translate(1109.6,112.59)"><text x="0" y="0" font-size="31.3" font-family="'Liberation Sans', Arial, sans-serif" >1.34</text></g>
<line x1="1179.6" y1="65.87" x2="1185.85" y2="65.87" stroke="#000" stroke-width="2.5" />
<line x1="1174.6" y1="28.9" x2="1185.85" y2="28.9" stroke="#000" stroke-width="2.5" />
<g transform="translate(1110.23,38.66)"><text x="0" y="0" font-size="31.3" font-family="'Liberation Sans', Arial, sans-serif" >1.36</text></g>
<line x1="1875.35" y1="618.4" x2="1886.6" y2="618.4" stroke="#000" stroke-width="2.5" />
<g transform="translate(1893.35,628.15)"><text x="0" y="0" font-size="31.3" font-family="'Liberation Sans', Arial, sans-serif" >8</text></g>
<line x1="1875.35" y1="581.52" x2="1881.6" y2="581.52" stroke="#000" stroke-width="2.5" />
<line x1="1875.35" y1="544.64" x2="1886.6" y2="544.64" stroke="#000" stroke-width="2.5" />
<g transform="translate(1892.1,554.39)"><text x="0" y="0" font-size="31.3" font-family="'Liberation Sans', Arial, sans-serif" >10</text></g>
<line x1="1875.35" y1="507.76" x2="1881.6" y2="507.76" stroke="#000" stroke-width="2.5" />
<line x1="1875.35" y1="470.88" x2="1886.6" y2="470.88" stroke="#000" stroke-width="2.5" />
<g transform="translate(1892.1,480.63)"><text x="0" y="0" font-size="31.3" font-family="'Liberation Sans', Arial, sans-serif" >12</text></g>
<line x1="1875.35" y1="433.99" x2="1881.6" y2="433.99" stroke="#000" stroke-width="2.5" />
<line x1="1875.35" y1="397.11" x2="1886.6" y2="397.11" stroke="#000" stroke-width="2.5" />
<g transform="translate(1892.1,406.87)"><text x="0" y="0" font-size="31.3" font-family="'Liberation Sans', Arial, sans-serif" >14</text></g>
<line x1="1875.35" y1="360.23" x2="1881.6" y2="360.23" stroke="#000" stroke-width="2.5" />
<line x1="1875.35" y1="323.35" x2="1886.6" y2="323.35" stroke="#000" stroke-width="2.5" />
<g transform="translate(1892.1,333.1)"><text x="0" y="0" font-size="31.3" font-family="'Liberation Sans', Arial, sans-serif" >16</text></g>
<line x1="1875.35" y1="286.47" x2="1881.6" y2="286.47" stroke="#000" stroke-width="2.5" />
<line x1="1875.35" y1="249.59" x2="1886.6" y2="249.59" stroke="#000" stroke-width="2.5" />
<g transform="translate(1892.1,259.34)"><text x="0" y="0" font-size="31.3" font-family="'Liberation Sans', Arial, sans-serif" >18</text></g>
<line x1="1875.35" y1="212.71" x2="1881.6" y2="212.71" stroke="#000" stroke-width="2.5" />
<line x1="1875.35" y1="175.82" x2="1886.6" y2="175.82" stroke="#000" stroke-width="2.5" />
<g transform="translate(1893.03,185.58)"><text x="0" y="0" font-size="31.3" font-family="'Liberation Sans', Arial, sans-serif" >20</text></g>
<line x1="1875.35" y1="138.94" x2="1881.6" y2="138.94" stroke="#000" stroke-width="2.5" />
<line x1="1875.35" y1="102.06" x2="1886.6" y2="102.06" stroke="#000" stroke-width="2.5" />
<g transform="translate(1893.03,111.82)"><text x="0" y="0" font-size="31.3" font-family="'Liberation Sans', Arial, sans-serif" >22</text></g>
<line x1="1875.35" y1="65.18" x2="1881.6" y2="65.18" stroke="#000" stroke-width="2.5" />
<line x1="1875.35" y1="28.3" x2="1886.6" y2="28.3" stroke="#000" stroke-width="2.5" />
<g transform="translate(1893.03,38.05)"><text x="0" y="0" font-size="31.3" font-family="'Liberation Sans', Arial, sans-serif" >24</text></g>
<g transform="translate(982.64,47.62)"><text x="0" y="0" font-size="61.5" font-family="'Liberation Serif', 'Times New Roman', serif" >(b)</text></g>
<g transform="translate(1381.22,723.7)"><text x="0" y="0" font-size="44.19" font-family="'Liberation Sans', Arial, sans-serif" >Thickness (nm)</text></g>
<g transform="translate(1096.2,363.04) rotate(-90)"><text x="0" y="0" font-size="44.15" font-family="'Liberation Sans', Arial, sans-serif" >V</text></g>
<g transform="translate(1105.2,333.07) rotate(-90)"><text x="0" y="0" font-size="31.49" font-family="'Liberation Sans', Arial, sans-serif" >OC</text></g>
<g transform="translate(1984.3,575.84) rotate(-90)"><text x="0" y="0" font-size="44.74" font-family="'Liberation Sans', Arial, sans-serif" >Current density(mA cm</text></g>
<g transform="translate(1965.8,121.58) rotate(-90)"><text x="0" y="0" font-size="44.5" font-family="'Liberation Sans', Arial, sans-serif" >-2</text></g>
<g transform="translate(1984.3,79.64) rotate(-90)"><text x="0" y="0" font-size="43.85" font-family="'Liberation Sans', Arial, sans-serif" >)</text></g>
<g transform="translate(1215.03,63.3)"><g transform="scale(1,1.03)"><text x="0" y="0" font-size="31.84" font-family="'Liberation Sans', Arial, sans-serif" >ITO/Cu<tspan font-size="21.65" dy="7.48">2</tspan><tspan dy="-7.48">​</tspan>O/FA<tspan font-size="21.65" dy="7.48">0.8</tspan><tspan dy="-7.48">​</tspan>Cs<tspan font-size="21.65" dy="7.48">0.2</tspan><tspan dy="-7.48">​</tspan>Pb(I<tspan font-size="21.65" dy="7.48">0.6</tspan><tspan dy="-7.48">​</tspan>Br<tspan font-size="21.65" dy="7.48">0.4</tspan><tspan dy="-7.48">​</tspan>)3/C<tspan font-size="21.65" dy="7.48">60</tspan><tspan dy="-7.48">​</tspan>/SnO<tspan font-size="21.65" dy="7.48">2</tspan><tspan dy="-7.48">​</tspan>/Au</text></g></g>
<path d="M1222.6,160.04 C1226.53,165.38 1238.34,181.8 1246.21,192.09 C1254.08,202.37 1261.95,212.2 1269.82,221.76 C1277.69,231.32 1285.56,240.48 1293.43,249.45 C1301.3,258.42 1309.17,267.32 1317.04,275.56 C1324.91,283.8 1332.78,291.38 1340.65,298.9 C1348.52,306.42 1356.39,313.6 1364.26,320.66 C1372.13,327.71 1380,334.77 1387.87,341.23 C1395.74,347.69 1403.61,353.43 1411.48,359.43 C1419.35,365.43 1427.22,371.56 1435.09,377.23 C1442.96,382.9 1450.83,388.17 1458.7,393.45 C1466.57,398.72 1474.44,403.93 1482.31,408.88 C1490.18,413.82 1498.05,418.5 1505.92,423.12 C1513.79,427.73 1521.66,432.15 1529.53,436.57 C1537.4,440.99 1545.27,445.47 1553.14,449.62 C1561.01,453.78 1568.88,457.53 1576.75,461.49 C1584.62,465.45 1592.49,469.4 1600.36,473.36 C1608.23,477.31 1616.1,481.6 1623.97,485.23 C1631.84,488.85 1639.71,491.82 1647.58,495.12 C1655.45,498.41 1663.32,501.78 1671.19,505.01 C1679.06,508.24 1686.93,511.27 1694.8,514.5 C1702.67,517.73 1710.54,521.29 1718.41,524.39 C1726.28,527.49 1734.15,530.26 1742.02,533.09 C1749.89,535.93 1757.76,538.7 1765.63,541.4 C1773.5,544.11 1781.37,546.68 1789.24,549.31 C1797.11,551.95 1804.98,554.65 1812.85,557.23 C1820.72,559.8 1830.78,562.93 1836.46,564.74 C1842.14,566.55 1845.19,567.52 1846.94,568.08" fill="none" stroke="#333" stroke-width="1.1" stroke-linejoin="round"/>
<path d="M1242.4,583.73 C1246.24,573.71 1257.77,542.06 1265.45,523.6 C1273.13,505.14 1280.82,488.33 1288.5,472.96 C1296.18,457.6 1303.87,444.28 1311.55,431.42 C1319.23,418.57 1326.92,406.9 1334.6,395.82 C1342.28,384.74 1349.97,374.33 1357.65,364.96 C1365.33,355.6 1373.02,347.69 1380.7,339.65 C1388.38,331.6 1396.07,323.62 1403.75,316.7 C1411.43,309.78 1419.12,304.04 1426.8,298.11 C1434.48,292.17 1442.17,286.11 1449.85,281.1 C1457.53,276.09 1465.22,272.2 1472.9,268.04 C1480.58,263.89 1488.27,259.93 1495.95,256.17 C1503.63,252.42 1511.32,248.86 1519,245.49 C1526.68,242.13 1534.37,238.97 1542.05,236 C1549.73,233.03 1557.42,230.26 1565.1,227.69 C1572.78,225.12 1580.47,222.81 1588.15,220.57 C1595.83,218.33 1603.52,216.15 1611.2,214.24 C1618.88,212.33 1626.57,210.81 1634.25,209.1 C1641.93,207.38 1649.62,205.6 1657.3,203.95 C1664.98,202.31 1672.67,200.66 1680.35,199.21 C1688.03,197.76 1695.72,196.5 1703.4,195.25 C1711.08,194 1718.77,192.88 1726.45,191.69 C1734.13,190.5 1741.82,189.19 1749.5,188.13 C1757.18,187.08 1764.87,186.22 1772.55,185.36 C1780.23,184.5 1787.92,183.84 1795.6,182.99 C1803.28,182.13 1810.97,181.01 1818.65,180.22 C1826.33,179.43 1836.03,178.73 1841.7,178.24 C1847.37,177.75 1850.83,177.46 1852.66,177.3" fill="none" stroke="#333" stroke-width="1.1" stroke-linejoin="round"/>
<path d="M1222.6,391.86 C1226.53,391.07 1238.34,386.85 1246.21,387.12 C1254.08,387.38 1261.95,390.55 1269.82,393.45 C1277.69,396.35 1285.56,400.7 1293.43,404.52 C1301.3,408.35 1309.17,412.5 1317.04,416.39 C1324.91,420.28 1332.78,424.17 1340.65,427.86 C1348.52,431.56 1356.39,434.99 1364.26,438.55 C1372.13,442.11 1380,445.73 1387.87,449.23 C1395.74,452.72 1403.61,456.15 1411.48,459.51 C1419.35,462.88 1427.22,466.11 1435.09,469.4 C1442.96,472.7 1450.83,476.06 1458.7,479.29 C1466.57,482.52 1474.44,485.62 1482.31,488.79 C1490.18,491.95 1498.05,495.25 1505.92,498.28 C1513.79,501.31 1521.66,504.15 1529.53,506.98 C1537.4,509.82 1545.27,512.52 1553.14,515.29 C1561.01,518.06 1568.88,520.96 1576.75,523.6 C1584.62,526.24 1592.49,528.61 1600.36,531.12 C1608.23,533.62 1616.1,536.13 1623.97,538.63 C1631.84,541.14 1639.71,543.64 1647.58,546.15 C1655.45,548.65 1663.32,551.29 1671.19,553.67 C1679.06,556.04 1686.93,558.08 1694.8,560.39 C1702.67,562.7 1710.54,565.2 1718.41,567.51 C1726.28,569.82 1734.15,572.13 1742.02,574.24 C1749.89,576.35 1757.76,578.19 1765.63,580.17 C1773.5,582.15 1781.37,584.13 1789.24,586.1 C1797.11,588.08 1804.98,590.19 1812.85,592.04 C1820.72,593.89 1830.73,595.93 1836.46,597.18 C1842.19,598.43 1845.42,599.13 1847.21,599.52" fill="none" stroke="#333" stroke-width="1.1" stroke-linejoin="round"/>
<path d="M1242.4,586.9 C1246.24,577.01 1257.77,545.89 1265.45,527.56 C1273.13,509.23 1280.82,492.41 1288.5,476.92 C1296.18,461.42 1303.87,447.64 1311.55,434.59 C1319.23,421.53 1326.92,409.67 1334.6,398.59 C1342.28,387.51 1349.97,377.49 1357.65,368.13 C1365.33,358.77 1373.02,350.33 1380.7,342.41 C1388.38,334.5 1396.07,327.45 1403.75,320.66 C1411.43,313.87 1419.12,307.6 1426.8,301.67 C1434.48,295.73 1442.17,290.06 1449.85,285.05 C1457.53,280.04 1465.22,275.82 1472.9,271.6 C1480.58,267.38 1488.27,263.43 1495.95,259.73 C1503.63,256.04 1511.32,252.75 1519,249.45 C1526.68,246.15 1534.37,242.86 1542.05,239.95 C1549.73,237.05 1557.42,234.55 1565.1,232.04 C1572.78,229.54 1580.47,227.1 1588.15,224.92 C1595.83,222.75 1603.52,220.83 1611.2,218.99 C1618.88,217.14 1626.57,215.56 1634.25,213.84 C1641.93,212.13 1649.62,210.28 1657.3,208.7 C1664.98,207.12 1672.67,205.73 1680.35,204.35 C1688.03,202.97 1695.72,201.65 1703.4,200.39 C1711.08,199.14 1718.77,197.95 1726.45,196.83 C1734.13,195.71 1741.82,194.66 1749.5,193.67 C1757.18,192.68 1764.87,191.82 1772.55,190.9 C1780.23,189.98 1787.92,189.05 1795.6,188.13 C1803.28,187.21 1810.97,186.15 1818.65,185.36 C1826.33,184.57 1836.03,183.87 1841.7,183.38 C1847.37,182.9 1850.83,182.6 1852.66,182.44" fill="none" stroke="#333" stroke-width="1.1" stroke-linejoin="round"/>
<rect x="1216.7" y="154.14" width="11.8" height="11.8" fill="#fff" stroke="#0000ff" stroke-width="2.9" stroke-linejoin="round"/>
<rect x="1240.31" y="186.19" width="11.8" height="11.8" fill="#fff" stroke="#0000ff" stroke-width="2.9" stroke-linejoin="round"/>
<rect x="1263.92" y="215.86" width="11.8" height="11.8" fill="#fff" stroke="#0000ff" stroke-width="2.9" stroke-linejoin="round"/>
<rect x="1287.53" y="243.55" width="11.8" height="11.8" fill="#fff" stroke="#0000ff" stroke-width="2.9" stroke-linejoin="round"/>
<rect x="1311.14" y="269.66" width="11.8" height="11.8" fill="#fff" stroke="#0000ff" stroke-width="2.9" stroke-linejoin="round"/>
<rect x="1334.75" y="293" width="11.8" height="11.8" fill="#fff" stroke="#0000ff" stroke-width="2.9" stroke-linejoin="round"/>
<rect x="1358.36" y="314.76" width="11.8" height="11.8" fill="#fff" stroke="#0000ff" stroke-width="2.9" stroke-linejoin="round"/>
<rect x="1381.97" y="335.33" width="11.8" height="11.8" fill="#fff" stroke="#0000ff" stroke-width="2.9" stroke-linejoin="round"/>
<rect x="1405.58" y="353.53" width="11.8" height="11.8" fill="#fff" stroke="#0000ff" stroke-width="2.9" stroke-linejoin="round"/>
<rect x="1429.19" y="371.33" width="11.8" height="11.8" fill="#fff" stroke="#0000ff" stroke-width="2.9" stroke-linejoin="round"/>
<rect x="1452.8" y="387.55" width="11.8" height="11.8" fill="#fff" stroke="#0000ff" stroke-width="2.9" stroke-linejoin="round"/>
<rect x="1476.41" y="402.98" width="11.8" height="11.8" fill="#fff" stroke="#0000ff" stroke-width="2.9" stroke-linejoin="round"/>
<rect x="1500.02" y="417.22" width="11.8" height="11.8" fill="#fff" stroke="#0000ff" stroke-width="2.9" stroke-linejoin="round"/>
<rect x="1523.63" y="430.67" width="11.8" height="11.8" fill="#fff" stroke="#0000ff" stroke-width="2.9" stroke-linejoin="round"/>
<rect x="1547.24" y="443.72" width="11.8" height="11.8" fill="#fff" stroke="#0000ff" stroke-width="2.9" stroke-linejoin="round"/>
<rect x="1570.85" y="455.59" width="11.8" height="11.8" fill="#fff" stroke="#0000ff" stroke-width="2.9" stroke-linejoin="round"/>
<rect x="1594.46" y="467.46" width="11.8" height="11.8" fill="#fff" stroke="#0000ff" stroke-width="2.9" stroke-linejoin="round"/>
<rect x="1618.07" y="479.33" width="11.8" height="11.8" fill="#fff" stroke="#0000ff" stroke-width="2.9" stroke-linejoin="round"/>
<rect x="1641.68" y="489.22" width="11.8" height="11.8" fill="#fff" stroke="#0000ff" stroke-width="2.9" stroke-linejoin="round"/>
<rect x="1665.29" y="499.11" width="11.8" height="11.8" fill="#fff" stroke="#0000ff" stroke-width="2.9" stroke-linejoin="round"/>
<rect x="1688.9" y="508.6" width="11.8" height="11.8" fill="#fff" stroke="#0000ff" stroke-width="2.9" stroke-linejoin="round"/>
<rect x="1712.51" y="518.49" width="11.8" height="11.8" fill="#fff" stroke="#0000ff" stroke-width="2.9" stroke-linejoin="round"/>
<rect x="1736.12" y="527.19" width="11.8" height="11.8" fill="#fff" stroke="#0000ff" stroke-width="2.9" stroke-linejoin="round"/>
<rect x="1759.73" y="535.5" width="11.8" height="11.8" fill="#fff" stroke="#0000ff" stroke-width="2.9" stroke-linejoin="round"/>
<rect x="1783.34" y="543.41" width="11.8" height="11.8" fill="#fff" stroke="#0000ff" stroke-width="2.9" stroke-linejoin="round"/>
<rect x="1806.95" y="551.33" width="11.8" height="11.8" fill="#fff" stroke="#0000ff" stroke-width="2.9" stroke-linejoin="round"/>
<rect x="1830.56" y="558.84" width="11.8" height="11.8" fill="#fff" stroke="#0000ff" stroke-width="2.9" stroke-linejoin="round"/>
<rect x="1236.5" y="577.83" width="11.8" height="11.8" fill="#fff" stroke="#0000ff" stroke-width="2.9" stroke-linejoin="round"/>
<rect x="1259.55" y="517.7" width="11.8" height="11.8" fill="#fff" stroke="#0000ff" stroke-width="2.9" stroke-linejoin="round"/>
<rect x="1282.6" y="467.06" width="11.8" height="11.8" fill="#fff" stroke="#0000ff" stroke-width="2.9" stroke-linejoin="round"/>
<rect x="1305.65" y="425.52" width="11.8" height="11.8" fill="#fff" stroke="#0000ff" stroke-width="2.9" stroke-linejoin="round"/>
<rect x="1328.7" y="389.92" width="11.8" height="11.8" fill="#fff" stroke="#0000ff" stroke-width="2.9" stroke-linejoin="round"/>
<rect x="1351.75" y="359.06" width="11.8" height="11.8" fill="#fff" stroke="#0000ff" stroke-width="2.9" stroke-linejoin="round"/>
<rect x="1374.8" y="333.75" width="11.8" height="11.8" fill="#fff" stroke="#0000ff" stroke-width="2.9" stroke-linejoin="round"/>
<rect x="1397.85" y="310.8" width="11.8" height="11.8" fill="#fff" stroke="#0000ff" stroke-width="2.9" stroke-linejoin="round"/>
<rect x="1420.9" y="292.21" width="11.8" height="11.8" fill="#fff" stroke="#0000ff" stroke-width="2.9" stroke-linejoin="round"/>
<rect x="1443.95" y="275.2" width="11.8" height="11.8" fill="#fff" stroke="#0000ff" stroke-width="2.9" stroke-linejoin="round"/>
<rect x="1467" y="262.14" width="11.8" height="11.8" fill="#fff" stroke="#0000ff" stroke-width="2.9" stroke-linejoin="round"/>
<rect x="1490.05" y="250.27" width="11.8" height="11.8" fill="#fff" stroke="#0000ff" stroke-width="2.9" stroke-linejoin="round"/>
<rect x="1513.1" y="239.59" width="11.8" height="11.8" fill="#fff" stroke="#0000ff" stroke-width="2.9" stroke-linejoin="round"/>
<rect x="1536.15" y="230.1" width="11.8" height="11.8" fill="#fff" stroke="#0000ff" stroke-width="2.9" stroke-linejoin="round"/>
<rect x="1559.2" y="221.79" width="11.8" height="11.8" fill="#fff" stroke="#0000ff" stroke-width="2.9" stroke-linejoin="round"/>
<rect x="1582.25" y="214.67" width="11.8" height="11.8" fill="#fff" stroke="#0000ff" stroke-width="2.9" stroke-linejoin="round"/>
<rect x="1605.3" y="208.34" width="11.8" height="11.8" fill="#fff" stroke="#0000ff" stroke-width="2.9" stroke-linejoin="round"/>
<rect x="1628.35" y="203.2" width="11.8" height="11.8" fill="#fff" stroke="#0000ff" stroke-width="2.9" stroke-linejoin="round"/>
<rect x="1651.4" y="198.05" width="11.8" height="11.8" fill="#fff" stroke="#0000ff" stroke-width="2.9" stroke-linejoin="round"/>
<rect x="1674.45" y="193.31" width="11.8" height="11.8" fill="#fff" stroke="#0000ff" stroke-width="2.9" stroke-linejoin="round"/>
<rect x="1697.5" y="189.35" width="11.8" height="11.8" fill="#fff" stroke="#0000ff" stroke-width="2.9" stroke-linejoin="round"/>
<rect x="1720.55" y="185.79" width="11.8" height="11.8" fill="#fff" stroke="#0000ff" stroke-width="2.9" stroke-linejoin="round"/>
<rect x="1743.6" y="182.23" width="11.8" height="11.8" fill="#fff" stroke="#0000ff" stroke-width="2.9" stroke-linejoin="round"/>
<rect x="1766.65" y="179.46" width="11.8" height="11.8" fill="#fff" stroke="#0000ff" stroke-width="2.9" stroke-linejoin="round"/>
<rect x="1789.7" y="177.09" width="11.8" height="11.8" fill="#fff" stroke="#0000ff" stroke-width="2.9" stroke-linejoin="round"/>
<rect x="1812.75" y="174.32" width="11.8" height="11.8" fill="#fff" stroke="#0000ff" stroke-width="2.9" stroke-linejoin="round"/>
<rect x="1835.8" y="172.34" width="11.8" height="11.8" fill="#fff" stroke="#0000ff" stroke-width="2.9" stroke-linejoin="round"/>
<circle cx="1222.6" cy="391.86" r="7.1" fill="#fff" stroke="#ff0000" stroke-width="2.9"/>
<circle cx="1246.21" cy="387.12" r="7.1" fill="#fff" stroke="#ff0000" stroke-width="2.9"/>
<circle cx="1269.82" cy="393.45" r="7.1" fill="#fff" stroke="#ff0000" stroke-width="2.9"/>
<circle cx="1293.43" cy="404.52" r="7.1" fill="#fff" stroke="#ff0000" stroke-width="2.9"/>
<circle cx="1317.04" cy="416.39" r="7.1" fill="#fff" stroke="#ff0000" stroke-width="2.9"/>
<circle cx="1340.65" cy="427.86" r="7.1" fill="#fff" stroke="#ff0000" stroke-width="2.9"/>
<circle cx="1364.26" cy="438.55" r="7.1" fill="#fff" stroke="#ff0000" stroke-width="2.9"/>
<circle cx="1387.87" cy="449.23" r="7.1" fill="#fff" stroke="#ff0000" stroke-width="2.9"/>
<circle cx="1411.48" cy="459.51" r="7.1" fill="#fff" stroke="#ff0000" stroke-width="2.9"/>
<circle cx="1435.09" cy="469.4" r="7.1" fill="#fff" stroke="#ff0000" stroke-width="2.9"/>
<circle cx="1458.7" cy="479.29" r="7.1" fill="#fff" stroke="#ff0000" stroke-width="2.9"/>
<circle cx="1482.31" cy="488.79" r="7.1" fill="#fff" stroke="#ff0000" stroke-width="2.9"/>
<circle cx="1505.92" cy="498.28" r="7.1" fill="#fff" stroke="#ff0000" stroke-width="2.9"/>
<circle cx="1529.53" cy="506.98" r="7.1" fill="#fff" stroke="#ff0000" stroke-width="2.9"/>
<circle cx="1553.14" cy="515.29" r="7.1" fill="#fff" stroke="#ff0000" stroke-width="2.9"/>
<circle cx="1576.75" cy="523.6" r="7.1" fill="#fff" stroke="#ff0000" stroke-width="2.9"/>
<circle cx="1600.36" cy="531.12" r="7.1" fill="#fff" stroke="#ff0000" stroke-width="2.9"/>
<circle cx="1623.97" cy="538.63" r="7.1" fill="#fff" stroke="#ff0000" stroke-width="2.9"/>
<circle cx="1647.58" cy="546.15" r="7.1" fill="#fff" stroke="#ff0000" stroke-width="2.9"/>
<circle cx="1671.19" cy="553.67" r="7.1" fill="#fff" stroke="#ff0000" stroke-width="2.9"/>
<circle cx="1694.8" cy="560.39" r="7.1" fill="#fff" stroke="#ff0000" stroke-width="2.9"/>
<circle cx="1718.41" cy="567.51" r="7.1" fill="#fff" stroke="#ff0000" stroke-width="2.9"/>
<circle cx="1742.02" cy="574.24" r="7.1" fill="#fff" stroke="#ff0000" stroke-width="2.9"/>
<circle cx="1765.63" cy="580.17" r="7.1" fill="#fff" stroke="#ff0000" stroke-width="2.9"/>
<circle cx="1789.24" cy="586.1" r="7.1" fill="#fff" stroke="#ff0000" stroke-width="2.9"/>
<circle cx="1812.85" cy="592.04" r="7.1" fill="#fff" stroke="#ff0000" stroke-width="2.9"/>
<circle cx="1836.46" cy="597.18" r="7.1" fill="#fff" stroke="#ff0000" stroke-width="2.9"/>
<circle cx="1242.4" cy="586.9" r="7.1" fill="#fff" stroke="#ff0000" stroke-width="2.9"/>
<circle cx="1265.45" cy="527.56" r="7.1" fill="#fff" stroke="#ff0000" stroke-width="2.9"/>
<circle cx="1288.5" cy="476.92" r="7.1" fill="#fff" stroke="#ff0000" stroke-width="2.9"/>
<circle cx="1311.55" cy="434.59" r="7.1" fill="#fff" stroke="#ff0000" stroke-width="2.9"/>
<circle cx="1334.6" cy="398.59" r="7.1" fill="#fff" stroke="#ff0000" stroke-width="2.9"/>
<circle cx="1357.65" cy="368.13" r="7.1" fill="#fff" stroke="#ff0000" stroke-width="2.9"/>
<circle cx="1380.7" cy="342.41" r="7.1" fill="#fff" stroke="#ff0000" stroke-width="2.9"/>
<circle cx="1403.75" cy="320.66" r="7.1" fill="#fff" stroke="#ff0000" stroke-width="2.9"/>
<circle cx="1426.8" cy="301.67" r="7.1" fill="#fff" stroke="#ff0000" stroke-width="2.9"/>
<circle cx="1449.85" cy="285.05" r="7.1" fill="#fff" stroke="#ff0000" stroke-width="2.9"/>
<circle cx="1472.9" cy="271.6" r="7.1" fill="#fff" stroke="#ff0000" stroke-width="2.9"/>
<circle cx="1495.95" cy="259.73" r="7.1" fill="#fff" stroke="#ff0000" stroke-width="2.9"/>
<circle cx="1519" cy="249.45" r="7.1" fill="#fff" stroke="#ff0000" stroke-width="2.9"/>
<circle cx="1542.05" cy="239.95" r="7.1" fill="#fff" stroke="#ff0000" stroke-width="2.9"/>
<circle cx="1565.1" cy="232.04" r="7.1" fill="#fff" stroke="#ff0000" stroke-width="2.9"/>
<circle cx="1588.15" cy="224.92" r="7.1" fill="#fff" stroke="#ff0000" stroke-width="2.9"/>
<circle cx="1611.2" cy="218.99" r="7.1" fill="#fff" stroke="#ff0000" stroke-width="2.9"/>
<circle cx="1634.25" cy="213.84" r="7.1" fill="#fff" stroke="#ff0000" stroke-width="2.9"/>
<circle cx="1657.3" cy="208.7" r="7.1" fill="#fff" stroke="#ff0000" stroke-width="2.9"/>
<circle cx="1680.35" cy="204.35" r="7.1" fill="#fff" stroke="#ff0000" stroke-width="2.9"/>
<circle cx="1703.4" cy="200.39" r="7.1" fill="#fff" stroke="#ff0000" stroke-width="2.9"/>
<circle cx="1726.45" cy="196.83" r="7.1" fill="#fff" stroke="#ff0000" stroke-width="2.9"/>
<circle cx="1749.5" cy="193.67" r="7.1" fill="#fff" stroke="#ff0000" stroke-width="2.9"/>
<circle cx="1772.55" cy="190.9" r="7.1" fill="#fff" stroke="#ff0000" stroke-width="2.9"/>
<circle cx="1795.6" cy="188.13" r="7.1" fill="#fff" stroke="#ff0000" stroke-width="2.9"/>
<circle cx="1818.65" cy="185.36" r="7.1" fill="#fff" stroke="#ff0000" stroke-width="2.9"/>
<circle cx="1841.7" cy="183.38" r="7.1" fill="#fff" stroke="#ff0000" stroke-width="2.9"/>
<ellipse cx="1681.5" cy="242.7" rx="51.4" ry="118.7" fill="none" stroke="#000" stroke-width="4.2"/>
<ellipse cx="1686.3" cy="497.5" rx="51.4" ry="81" fill="none" stroke="#000" stroke-width="4.2"/>
<line x1="1628" y1="256.6" x2="1583.7" y2="256.6" stroke="#000" stroke-width="3.6" stroke-linecap="butt"/>
<polygon points="1559.7,256.6 1584.7,243.95 1584.7,269.25" fill="#000"/>
<line x1="1731.8" y1="465" x2="1794.8" y2="465" stroke="#000" stroke-width="3.6" stroke-linecap="butt"/>
<polygon points="1818.8,465 1793.8,452.35 1793.8,477.65" fill="#000"/>
<rect x="1281.6" y="81.6" width="298.9" height="92.9" fill="#fff" stroke="#444" stroke-width="1.3"/>
<line x1="1285.4" y1="104.1" x2="1347.7" y2="104.1" stroke="#333" stroke-width="1.1" />
<rect x="1310.65" y="98.2" width="11.8" height="11.8" fill="#fff" stroke="#0000ff" stroke-width="2.9" stroke-linejoin="round"/>
<g transform="translate(1357.2,113.4)"><text x="0" y="0" font-size="28.05" font-family="'Liberation Sans', Arial, sans-serif" ><tspan font-family="'Liberation Serif', 'Times New Roman', serif">χ</tspan>-Cu<tspan font-size="20.48" dy="6.59">2</tspan><tspan dy="-6.59">​</tspan>O = 3.80eV</text></g>
<line x1="1285.4" y1="148.6" x2="1347.7" y2="148.6" stroke="#333" stroke-width="1.1" />
<circle cx="1316.55" cy="148.6" r="7.1" fill="#fff" stroke="#ff0000" stroke-width="2.9"/>
<g transform="translate(1357.2,157.7)"><text x="0" y="0" font-size="28.05" font-family="'Liberation Sans', Arial, sans-serif" ><tspan font-family="'Liberation Serif', 'Times New Roman', serif">χ</tspan>-Cu<tspan font-size="20.48" dy="6.59">2</tspan><tspan dy="-6.59">​</tspan>O = 2.86eV</text></g>
<rect x="155.6" y="795.8" width="697" height="598.8" fill="none" stroke="#000" stroke-width="2.5"/>
<line x1="155.6" y1="1393.35" x2="155.6" y2="1404.6" stroke="#000" stroke-width="2.5" />
<g transform="translate(146.84,1436.3)"><text x="0" y="0" font-size="31.3" font-family="'Liberation Sans', Arial, sans-serif" >0</text></g>
<line x1="213.68" y1="1393.35" x2="213.68" y2="1399.6" stroke="#000" stroke-width="2.5" />
<line x1="271.77" y1="1393.35" x2="271.77" y2="1404.6" stroke="#000" stroke-width="2.5" />
<g transform="translate(245.47,1436.3)"><text x="0" y="0" font-size="31.3" font-family="'Liberation Sans', Arial, sans-serif" >200</text></g>
<line x1="329.85" y1="1393.35" x2="329.85" y2="1399.6" stroke="#000" stroke-width="2.5" />
<line x1="387.93" y1="1393.35" x2="387.93" y2="1404.6" stroke="#000" stroke-width="2.5" />
<g transform="translate(362.11,1436.3)"><text x="0" y="0" font-size="31.3" font-family="'Liberation Sans', Arial, sans-serif" >400</text></g>
<line x1="446.02" y1="1393.35" x2="446.02" y2="1399.6" stroke="#000" stroke-width="2.5" />
<line x1="504.1" y1="1393.35" x2="504.1" y2="1404.6" stroke="#000" stroke-width="2.5" />
<g transform="translate(477.81,1436.3)"><text x="0" y="0" font-size="31.3" font-family="'Liberation Sans', Arial, sans-serif" >600</text></g>
<line x1="562.18" y1="1393.35" x2="562.18" y2="1399.6" stroke="#000" stroke-width="2.5" />
<line x1="620.27" y1="1393.35" x2="620.27" y2="1404.6" stroke="#000" stroke-width="2.5" />
<g transform="translate(594.13,1436.3)"><text x="0" y="0" font-size="31.3" font-family="'Liberation Sans', Arial, sans-serif" >800</text></g>
<line x1="678.35" y1="1393.35" x2="678.35" y2="1399.6" stroke="#000" stroke-width="2.5" />
<line x1="736.43" y1="1393.35" x2="736.43" y2="1404.6" stroke="#000" stroke-width="2.5" />
<g transform="translate(701.06,1436.3)"><text x="0" y="0" font-size="31.3" font-family="'Liberation Sans', Arial, sans-serif" >1000</text></g>
<line x1="794.52" y1="1393.35" x2="794.52" y2="1399.6" stroke="#000" stroke-width="2.5" />
<line x1="852.6" y1="1393.35" x2="852.6" y2="1404.6" stroke="#000" stroke-width="2.5" />
<g transform="translate(817.23,1436.3)"><text x="0" y="0" font-size="31.3" font-family="'Liberation Sans', Arial, sans-serif" >1200</text></g>
<line x1="155.6" y1="795.8" x2="155.6" y2="805.8" stroke="#000" stroke-width="2.5" />
<line x1="225.3" y1="795.8" x2="225.3" y2="800.8" stroke="#000" stroke-width="2.5" />
<line x1="295" y1="795.8" x2="295" y2="805.8" stroke="#000" stroke-width="2.5" />
<line x1="364.7" y1="795.8" x2="364.7" y2="800.8" stroke="#000" stroke-width="2.5" />
<line x1="434.4" y1="795.8" x2="434.4" y2="805.8" stroke="#000" stroke-width="2.5" />
<line x1="504.1" y1="795.8" x2="504.1" y2="800.8" stroke="#000" stroke-width="2.5" />
<line x1="573.8" y1="795.8" x2="573.8" y2="805.8" stroke="#000" stroke-width="2.5" />
<line x1="643.5" y1="795.8" x2="643.5" y2="800.8" stroke="#000" stroke-width="2.5" />
<line x1="713.2" y1="795.8" x2="713.2" y2="805.8" stroke="#000" stroke-width="2.5" />
<line x1="782.9" y1="795.8" x2="782.9" y2="800.8" stroke="#000" stroke-width="2.5" />
<line x1="852.6" y1="795.8" x2="852.6" y2="805.8" stroke="#000" stroke-width="2.5" />
<line x1="145.6" y1="1394.6" x2="156.85" y2="1394.6" stroke="#000" stroke-width="2.5" />
<g transform="translate(120.31,1404.35)"><text x="0" y="0" font-size="31.3" font-family="'Liberation Sans', Arial, sans-serif" >4</text></g>
<line x1="150.6" y1="1367.38" x2="156.85" y2="1367.38" stroke="#000" stroke-width="2.5" />
<line x1="145.6" y1="1340.16" x2="156.85" y2="1340.16" stroke="#000" stroke-width="2.5" />
<g transform="translate(120.94,1349.92)"><text x="0" y="0" font-size="31.3" font-family="'Liberation Sans', Arial, sans-serif" >6</text></g>
<line x1="150.6" y1="1312.95" x2="156.85" y2="1312.95" stroke="#000" stroke-width="2.5" />
<line x1="145.6" y1="1285.73" x2="156.85" y2="1285.73" stroke="#000" stroke-width="2.5" />
<g transform="translate(120.94,1295.48)"><text x="0" y="0" font-size="31.3" font-family="'Liberation Sans', Arial, sans-serif" >8</text></g>
<line x1="150.6" y1="1258.51" x2="156.85" y2="1258.51" stroke="#000" stroke-width="2.5" />
<line x1="145.6" y1="1231.29" x2="156.85" y2="1231.29" stroke="#000" stroke-width="2.5" />
<g transform="translate(103.41,1241.05)"><text x="0" y="0" font-size="31.3" font-family="'Liberation Sans', Arial, sans-serif" >10</text></g>
<line x1="150.6" y1="1204.07" x2="156.85" y2="1204.07" stroke="#000" stroke-width="2.5" />
<line x1="145.6" y1="1176.85" x2="156.85" y2="1176.85" stroke="#000" stroke-width="2.5" />
<g transform="translate(103.72,1186.61)"><text x="0" y="0" font-size="31.3" font-family="'Liberation Sans', Arial, sans-serif" >12</text></g>
<line x1="150.6" y1="1149.64" x2="156.85" y2="1149.64" stroke="#000" stroke-width="2.5" />
<line x1="145.6" y1="1122.42" x2="156.85" y2="1122.42" stroke="#000" stroke-width="2.5" />
<g transform="translate(103.1,1132.17)"><text x="0" y="0" font-size="31.3" font-family="'Liberation Sans', Arial, sans-serif" >14</text></g>
<line x1="150.6" y1="1095.2" x2="156.85" y2="1095.2" stroke="#000" stroke-width="2.5" />
<line x1="145.6" y1="1067.98" x2="156.85" y2="1067.98" stroke="#000" stroke-width="2.5" />
<g transform="translate(103.41,1077.74)"><text x="0" y="0" font-size="31.3" font-family="'Liberation Sans', Arial, sans-serif" >16</text></g>
<line x1="150.6" y1="1040.76" x2="156.85" y2="1040.76" stroke="#000" stroke-width="2.5" />
<line x1="145.6" y1="1013.55" x2="156.85" y2="1013.55" stroke="#000" stroke-width="2.5" />
<g transform="translate(103.41,1023.3)"><text x="0" y="0" font-size="31.3" font-family="'Liberation Sans', Arial, sans-serif" >18</text></g>
<line x1="150.6" y1="986.33" x2="156.85" y2="986.33" stroke="#000" stroke-width="2.5" />
<line x1="145.6" y1="959.11" x2="156.85" y2="959.11" stroke="#000" stroke-width="2.5" />
<g transform="translate(103.41,968.86)"><text x="0" y="0" font-size="31.3" font-family="'Liberation Sans', Arial, sans-serif" >20</text></g>
<line x1="150.6" y1="931.89" x2="156.85" y2="931.89" stroke="#000" stroke-width="2.5" />
<line x1="145.6" y1="904.67" x2="156.85" y2="904.67" stroke="#000" stroke-width="2.5" />
<g transform="translate(103.72,914.43)"><text x="0" y="0" font-size="31.3" font-family="'Liberation Sans', Arial, sans-serif" >22</text></g>
<line x1="150.6" y1="877.45" x2="156.85" y2="877.45" stroke="#000" stroke-width="2.5" />
<line x1="145.6" y1="850.24" x2="156.85" y2="850.24" stroke="#000" stroke-width="2.5" />
<g transform="translate(103.1,859.99)"><text x="0" y="0" font-size="31.3" font-family="'Liberation Sans', Arial, sans-serif" >24</text></g>
<line x1="150.6" y1="823.02" x2="156.85" y2="823.02" stroke="#000" stroke-width="2.5" />
<line x1="145.6" y1="795.8" x2="156.85" y2="795.8" stroke="#000" stroke-width="2.5" />
<g transform="translate(103.41,805.55)"><text x="0" y="0" font-size="31.3" font-family="'Liberation Sans', Arial, sans-serif" >26</text></g>
<line x1="851.35" y1="1394.6" x2="862.6" y2="1394.6" stroke="#000" stroke-width="2.5" />
<g transform="translate(868.83,1404.35)"><text x="0" y="0" font-size="31.3" font-family="'Liberation Sans', Arial, sans-serif" >64</text></g>
<line x1="851.35" y1="1351.83" x2="857.6" y2="1351.83" stroke="#000" stroke-width="2.5" />
<line x1="851.35" y1="1309.06" x2="862.6" y2="1309.06" stroke="#000" stroke-width="2.5" />
<g transform="translate(868.83,1318.81)"><text x="0" y="0" font-size="31.3" font-family="'Liberation Sans', Arial, sans-serif" >68</text></g>
<line x1="851.35" y1="1266.29" x2="857.6" y2="1266.29" stroke="#000" stroke-width="2.5" />
<line x1="851.35" y1="1223.51" x2="862.6" y2="1223.51" stroke="#000" stroke-width="2.5" />
<g transform="translate(868.83,1233.27)"><text x="0" y="0" font-size="31.3" font-family="'Liberation Sans', Arial, sans-serif" >72</text></g>
<line x1="851.35" y1="1180.74" x2="857.6" y2="1180.74" stroke="#000" stroke-width="2.5" />
<line x1="851.35" y1="1137.97" x2="862.6" y2="1137.97" stroke="#000" stroke-width="2.5" />
<g transform="translate(868.83,1147.73)"><text x="0" y="0" font-size="31.3" font-family="'Liberation Sans', Arial, sans-serif" >76</text></g>
<line x1="851.35" y1="1095.2" x2="857.6" y2="1095.2" stroke="#000" stroke-width="2.5" />
<line x1="851.35" y1="1052.43" x2="862.6" y2="1052.43" stroke="#000" stroke-width="2.5" />
<g transform="translate(869.15,1062.18)"><text x="0" y="0" font-size="31.3" font-family="'Liberation Sans', Arial, sans-serif" >80</text></g>
<line x1="851.35" y1="1009.66" x2="857.6" y2="1009.66" stroke="#000" stroke-width="2.5" />
<line x1="851.35" y1="966.89" x2="862.6" y2="966.89" stroke="#000" stroke-width="2.5" />
<g transform="translate(869.15,976.64)"><text x="0" y="0" font-size="31.3" font-family="'Liberation Sans', Arial, sans-serif" >84</text></g>
<line x1="851.35" y1="924.11" x2="857.6" y2="924.11" stroke="#000" stroke-width="2.5" />
<line x1="851.35" y1="881.34" x2="862.6" y2="881.34" stroke="#000" stroke-width="2.5" />
<g transform="translate(869.15,891.1)"><text x="0" y="0" font-size="31.3" font-family="'Liberation Sans', Arial, sans-serif" >88</text></g>
<line x1="851.35" y1="838.57" x2="857.6" y2="838.57" stroke="#000" stroke-width="2.5" />
<line x1="851.35" y1="795.8" x2="862.6" y2="795.8" stroke="#000" stroke-width="2.5" />
<g transform="translate(868.83,805.55)"><text x="0" y="0" font-size="31.3" font-family="'Liberation Sans', Arial, sans-serif" >92</text></g>
<g transform="translate(36.74,746.62)"><text x="0" y="0" font-size="61.5" font-family="'Liberation Serif', 'Times New Roman', serif" >(c)</text></g>
<g transform="translate(352.01,1488.2)"><text x="0" y="0" font-size="44.33" font-family="'Liberation Sans', Arial, sans-serif" >Thickness (nm)</text></g>
<g transform="translate(78.3,1141.75) rotate(-90)"><text x="0" y="0" font-size="47.56" font-family="'Liberation Serif', 'Times New Roman', serif" >η</text></g>
<g transform="translate(78.3,1114.78) rotate(-90)"><text x="0" y="0" font-size="44.4" font-family="'Liberation Serif', 'Times New Roman', serif" >(%)</text></g>
<g transform="translate(951.6,1149.46) rotate(-90)"><text x="0" y="0" font-size="44.55" font-family="'Liberation Sans', Arial, sans-serif" >FF(%)</text></g>
<g transform="translate(183.92,840.6)"><g transform="scale(1,1.03)"><text x="0" y="0" font-size="31.98" font-family="'Liberation Sans', Arial, sans-serif" >ITO/Cu-O/FA<tspan font-size="21.74" dy="7.51">0.8</tspan><tspan dy="-7.51">​</tspan>Cs<tspan font-size="21.74" dy="7.51">0.2</tspan><tspan dy="-7.51">​</tspan>Pb(I<tspan font-size="21.74" dy="7.51">0.6</tspan><tspan dy="-7.51">​</tspan>Br<tspan font-size="21.74" dy="7.51">0.4</tspan><tspan dy="-7.51">​</tspan>)3/C<tspan font-size="21.74" dy="7.51">60</tspan><tspan dy="-7.51">​</tspan>/SnO<tspan font-size="21.74" dy="7.51">2</tspan><tspan dy="-7.51">​</tspan>/Au</text></g></g>
<line x1="158.6" y1="965.2" x2="554.5" y2="961.6" stroke="#555" stroke-width="1.3" stroke-dasharray="1.4 2.75"/>
<line x1="158.6" y1="1196.9" x2="445.3" y2="1196.9" stroke="#555" stroke-width="1.3" stroke-dasharray="1.4 2.75"/>
<line x1="443.8" y1="1200" x2="443.8" y2="1394.6" stroke="#555" stroke-width="1.3" stroke-dasharray="1.4 2.75"/>
<line x1="551.8" y1="962" x2="551.8" y2="1394.6" stroke="#555" stroke-width="1.3" stroke-dasharray="1.4 2.75"/>
<path d="M215.1,933.95 C218.96,932.45 230.55,927.9 238.28,924.98 C246.01,922.05 253.73,918.93 261.46,916.39 C269.19,913.86 276.91,911.58 284.64,909.76 C292.37,907.94 300.09,906.25 307.82,905.47 C315.55,904.69 323.27,904.89 331,905.08 C338.73,905.28 346.45,905.54 354.18,906.64 C361.91,907.75 369.63,910.22 377.36,911.71 C385.09,913.21 392.81,914.25 400.54,915.61 C408.27,916.98 415.99,918.28 423.72,919.91 C431.45,921.53 439.17,923.81 446.9,925.37 C454.63,926.93 462.35,928.03 470.08,929.27 C477.81,930.5 485.53,931.74 493.26,932.78 C500.99,933.82 508.71,934.47 516.44,935.51 C524.17,936.55 531.89,938.11 539.62,939.02 C547.35,939.93 555.07,940.26 562.8,940.97 C570.53,941.69 578.25,942.66 585.98,943.31 C593.71,943.96 601.43,944.35 609.16,944.87 C616.89,945.39 624.61,945.91 632.34,946.43 C640.07,946.95 647.79,947.54 655.52,947.99 C663.25,948.45 670.97,948.77 678.7,949.16 C686.43,949.55 694.15,949.94 701.88,950.33 C709.61,950.72 717.33,951.18 725.06,951.5 C732.79,951.83 740.51,952.02 748.24,952.28 C755.97,952.54 763.69,952.74 771.42,953.06 C779.15,953.39 786.87,953.91 794.6,954.24 C802.33,954.56 812.08,954.82 817.78,955.02 C823.48,955.21 826.94,955.32 828.77,955.39" fill="none" stroke="#333" stroke-width="1.1" stroke-linejoin="round"/>
<path d="M208.5,1211.32 C212.06,1203.58 222.75,1179.13 229.88,1164.89 C237.01,1150.65 244.13,1137.78 251.26,1125.88 C258.39,1113.98 265.51,1103.39 272.64,1093.5 C279.77,1083.62 286.89,1074.58 294.02,1066.59 C301.15,1058.59 308.27,1051.96 315.4,1045.52 C322.53,1039.08 329.65,1033.17 336.78,1027.97 C343.91,1022.76 351.03,1018.47 358.16,1014.31 C365.29,1010.15 372.41,1006.44 379.54,1003 C386.67,999.55 393.79,996.43 400.92,993.64 C408.05,990.84 415.17,988.43 422.3,986.22 C429.43,984.01 436.55,982.13 443.68,980.37 C450.81,978.62 457.93,977.32 465.06,975.69 C472.19,974.07 479.31,971.92 486.44,970.62 C493.57,969.32 500.69,968.86 507.82,967.89 C514.95,966.91 522.07,965.68 529.2,964.77 C536.33,963.86 543.45,963.21 550.58,962.43 C557.71,961.65 564.83,960.74 571.96,960.09 C579.09,959.44 586.21,959.05 593.34,958.53 C600.47,958.01 607.59,957.49 614.72,956.97 C621.85,956.45 628.97,955.8 636.1,955.41 C643.23,955.02 650.35,954.95 657.48,954.63 C664.61,954.3 671.73,953.78 678.86,953.45 C685.99,953.13 693.11,952.87 700.24,952.67 C707.37,952.48 714.49,952.35 721.62,952.28 C728.75,952.22 735.87,952.35 743,952.28 C750.13,952.22 758.98,951.99 764.38,951.89 C769.78,951.8 773.55,951.73 775.38,951.69" fill="none" stroke="#333" stroke-width="1.1" stroke-linejoin="round"/>
<path d="M215.1,1070.1 C218.96,1070.62 230.55,1071.53 238.28,1073.22 C246.01,1074.91 253.73,1077.25 261.46,1080.24 C269.19,1083.23 276.91,1087.07 284.64,1091.16 C292.37,1095.26 300.09,1099.81 307.82,1104.82 C315.55,1109.82 323.27,1115.48 331,1121.2 C338.73,1126.92 346.45,1134.66 354.18,1139.15 C361.91,1143.63 369.63,1143.57 377.36,1148.12 C385.09,1152.67 392.81,1160.47 400.54,1166.45 C408.27,1172.43 415.99,1178.48 423.72,1184.01 C431.45,1189.53 439.17,1194.15 446.9,1199.61 C454.63,1205.07 462.35,1211.45 470.08,1216.78 C477.81,1222.11 485.53,1226.85 493.26,1231.6 C500.99,1236.35 508.71,1240.9 516.44,1245.25 C524.17,1249.61 531.89,1253.58 539.62,1257.74 C547.35,1261.9 555.07,1266.26 562.8,1270.22 C570.53,1274.19 578.25,1278.02 585.98,1281.53 C593.71,1285.05 601.43,1288.04 609.16,1291.29 C616.89,1294.54 624.61,1297.92 632.34,1301.04 C640.07,1304.16 647.79,1307.09 655.52,1310.01 C663.25,1312.94 670.97,1315.8 678.7,1318.59 C686.43,1321.39 694.15,1324.19 701.88,1326.79 C709.61,1329.39 717.33,1331.79 725.06,1334.2 C732.79,1336.6 740.51,1338.82 748.24,1341.22 C755.97,1343.63 763.69,1346.36 771.42,1348.63 C779.15,1350.91 786.87,1352.79 794.6,1354.87 C802.33,1356.96 812.15,1359.6 817.78,1361.12 C823.41,1362.63 826.63,1363.5 828.4,1363.98" fill="none" stroke="#333" stroke-width="1.1" stroke-linejoin="round"/>
<path d="M208.5,1326.4 C212.06,1321.33 222.75,1305.01 229.88,1295.97 C237.01,1286.93 244.13,1279.39 251.26,1272.17 C258.39,1264.96 265.51,1258.39 272.64,1252.67 C279.77,1246.95 286.89,1242.46 294.02,1237.84 C301.15,1233.23 308.27,1228.48 315.4,1224.97 C322.53,1221.46 329.65,1218.86 336.78,1216.78 C343.91,1214.7 351.03,1214.05 358.16,1212.49 C365.29,1210.93 372.41,1209.04 379.54,1207.41 C386.67,1205.79 393.79,1203.9 400.92,1202.73 C408.05,1201.56 415.17,1200.91 422.3,1200.39 C429.43,1199.87 436.55,1200.2 443.68,1199.61 C450.81,1199.03 457.93,1197.47 465.06,1196.88 C472.19,1196.3 479.31,1196.3 486.44,1196.1 C493.57,1195.91 500.69,1195.78 507.82,1195.71 C514.95,1195.65 522.07,1195.71 529.2,1195.71 C536.33,1195.71 543.45,1195.65 550.58,1195.71 C557.71,1195.78 564.83,1195.97 571.96,1196.1 C579.09,1196.23 586.21,1196.36 593.34,1196.49 C600.47,1196.62 607.59,1196.69 614.72,1196.88 C621.85,1197.08 628.97,1197.4 636.1,1197.66 C643.23,1197.92 650.35,1198.18 657.48,1198.44 C664.61,1198.7 671.73,1199.03 678.86,1199.22 C685.99,1199.42 693.11,1199.42 700.24,1199.61 C707.37,1199.81 714.49,1200.13 721.62,1200.39 C728.75,1200.65 735.87,1200.91 743,1201.17 C750.13,1201.43 758.98,1201.76 764.38,1201.95 C769.78,1202.15 773.54,1202.29 775.37,1202.35" fill="none" stroke="#333" stroke-width="1.1" stroke-linejoin="round"/>
<rect x="209.2" y="928.05" width="11.8" height="11.8" fill="#fff" stroke="#0000ff" stroke-width="2.9" stroke-linejoin="round"/>
<rect x="232.38" y="919.08" width="11.8" height="11.8" fill="#fff" stroke="#0000ff" stroke-width="2.9" stroke-linejoin="round"/>
<rect x="255.56" y="910.49" width="11.8" height="11.8" fill="#fff" stroke="#0000ff" stroke-width="2.9" stroke-linejoin="round"/>
<rect x="278.74" y="903.86" width="11.8" height="11.8" fill="#fff" stroke="#0000ff" stroke-width="2.9" stroke-linejoin="round"/>
<rect x="301.92" y="899.57" width="11.8" height="11.8" fill="#fff" stroke="#0000ff" stroke-width="2.9" stroke-linejoin="round"/>
<rect x="325.1" y="899.18" width="11.8" height="11.8" fill="#fff" stroke="#0000ff" stroke-width="2.9" stroke-linejoin="round"/>
<rect x="348.28" y="900.74" width="11.8" height="11.8" fill="#fff" stroke="#0000ff" stroke-width="2.9" stroke-linejoin="round"/>
<rect x="371.46" y="905.81" width="11.8" height="11.8" fill="#fff" stroke="#0000ff" stroke-width="2.9" stroke-linejoin="round"/>
<rect x="394.64" y="909.71" width="11.8" height="11.8" fill="#fff" stroke="#0000ff" stroke-width="2.9" stroke-linejoin="round"/>
<rect x="417.82" y="914.01" width="11.8" height="11.8" fill="#fff" stroke="#0000ff" stroke-width="2.9" stroke-linejoin="round"/>
<rect x="441" y="919.47" width="11.8" height="11.8" fill="#fff" stroke="#0000ff" stroke-width="2.9" stroke-linejoin="round"/>
<rect x="464.18" y="923.37" width="11.8" height="11.8" fill="#fff" stroke="#0000ff" stroke-width="2.9" stroke-linejoin="round"/>
<rect x="487.36" y="926.88" width="11.8" height="11.8" fill="#fff" stroke="#0000ff" stroke-width="2.9" stroke-linejoin="round"/>
<rect x="510.54" y="929.61" width="11.8" height="11.8" fill="#fff" stroke="#0000ff" stroke-width="2.9" stroke-linejoin="round"/>
<rect x="533.72" y="933.12" width="11.8" height="11.8" fill="#fff" stroke="#0000ff" stroke-width="2.9" stroke-linejoin="round"/>
<rect x="556.9" y="935.07" width="11.8" height="11.8" fill="#fff" stroke="#0000ff" stroke-width="2.9" stroke-linejoin="round"/>
<rect x="580.08" y="937.41" width="11.8" height="11.8" fill="#fff" stroke="#0000ff" stroke-width="2.9" stroke-linejoin="round"/>
<rect x="603.26" y="938.97" width="11.8" height="11.8" fill="#fff" stroke="#0000ff" stroke-width="2.9" stroke-linejoin="round"/>
<rect x="626.44" y="940.53" width="11.8" height="11.8" fill="#fff" stroke="#0000ff" stroke-width="2.9" stroke-linejoin="round"/>
<rect x="649.62" y="942.09" width="11.8" height="11.8" fill="#fff" stroke="#0000ff" stroke-width="2.9" stroke-linejoin="round"/>
<rect x="672.8" y="943.26" width="11.8" height="11.8" fill="#fff" stroke="#0000ff" stroke-width="2.9" stroke-linejoin="round"/>
<rect x="695.98" y="944.43" width="11.8" height="11.8" fill="#fff" stroke="#0000ff" stroke-width="2.9" stroke-linejoin="round"/>
<rect x="719.16" y="945.6" width="11.8" height="11.8" fill="#fff" stroke="#0000ff" stroke-width="2.9" stroke-linejoin="round"/>
<rect x="742.34" y="946.38" width="11.8" height="11.8" fill="#fff" stroke="#0000ff" stroke-width="2.9" stroke-linejoin="round"/>
<rect x="765.52" y="947.16" width="11.8" height="11.8" fill="#fff" stroke="#0000ff" stroke-width="2.9" stroke-linejoin="round"/>
<rect x="788.7" y="948.34" width="11.8" height="11.8" fill="#fff" stroke="#0000ff" stroke-width="2.9" stroke-linejoin="round"/>
<rect x="811.88" y="949.12" width="11.8" height="11.8" fill="#fff" stroke="#0000ff" stroke-width="2.9" stroke-linejoin="round"/>
<rect x="202.6" y="1205.42" width="11.8" height="11.8" fill="#fff" stroke="#0000ff" stroke-width="2.9" stroke-linejoin="round"/>
<rect x="223.98" y="1158.99" width="11.8" height="11.8" fill="#fff" stroke="#0000ff" stroke-width="2.9" stroke-linejoin="round"/>
<rect x="245.36" y="1119.98" width="11.8" height="11.8" fill="#fff" stroke="#0000ff" stroke-width="2.9" stroke-linejoin="round"/>
<rect x="266.74" y="1087.6" width="11.8" height="11.8" fill="#fff" stroke="#0000ff" stroke-width="2.9" stroke-linejoin="round"/>
<rect x="288.12" y="1060.69" width="11.8" height="11.8" fill="#fff" stroke="#0000ff" stroke-width="2.9" stroke-linejoin="round"/>
<rect x="309.5" y="1039.62" width="11.8" height="11.8" fill="#fff" stroke="#0000ff" stroke-width="2.9" stroke-linejoin="round"/>
<rect x="330.88" y="1022.07" width="11.8" height="11.8" fill="#fff" stroke="#0000ff" stroke-width="2.9" stroke-linejoin="round"/>
<rect x="352.26" y="1008.41" width="11.8" height="11.8" fill="#fff" stroke="#0000ff" stroke-width="2.9" stroke-linejoin="round"/>
<rect x="373.64" y="997.1" width="11.8" height="11.8" fill="#fff" stroke="#0000ff" stroke-width="2.9" stroke-linejoin="round"/>
<rect x="395.02" y="987.74" width="11.8" height="11.8" fill="#fff" stroke="#0000ff" stroke-width="2.9" stroke-linejoin="round"/>
<rect x="416.4" y="980.32" width="11.8" height="11.8" fill="#fff" stroke="#0000ff" stroke-width="2.9" stroke-linejoin="round"/>
<rect x="437.78" y="974.47" width="11.8" height="11.8" fill="#fff" stroke="#0000ff" stroke-width="2.9" stroke-linejoin="round"/>
<rect x="459.16" y="969.79" width="11.8" height="11.8" fill="#fff" stroke="#0000ff" stroke-width="2.9" stroke-linejoin="round"/>
<rect x="480.54" y="964.72" width="11.8" height="11.8" fill="#fff" stroke="#0000ff" stroke-width="2.9" stroke-linejoin="round"/>
<rect x="501.92" y="961.99" width="11.8" height="11.8" fill="#fff" stroke="#0000ff" stroke-width="2.9" stroke-linejoin="round"/>
<rect x="523.3" y="958.87" width="11.8" height="11.8" fill="#fff" stroke="#0000ff" stroke-width="2.9" stroke-linejoin="round"/>
<rect x="544.68" y="956.53" width="11.8" height="11.8" fill="#fff" stroke="#0000ff" stroke-width="2.9" stroke-linejoin="round"/>
<rect x="566.06" y="954.19" width="11.8" height="11.8" fill="#fff" stroke="#0000ff" stroke-width="2.9" stroke-linejoin="round"/>
<rect x="587.44" y="952.63" width="11.8" height="11.8" fill="#fff" stroke="#0000ff" stroke-width="2.9" stroke-linejoin="round"/>
<rect x="608.82" y="951.07" width="11.8" height="11.8" fill="#fff" stroke="#0000ff" stroke-width="2.9" stroke-linejoin="round"/>
<rect x="630.2" y="949.51" width="11.8" height="11.8" fill="#fff" stroke="#0000ff" stroke-width="2.9" stroke-linejoin="round"/>
<rect x="651.58" y="948.73" width="11.8" height="11.8" fill="#fff" stroke="#0000ff" stroke-width="2.9" stroke-linejoin="round"/>
<rect x="672.96" y="947.55" width="11.8" height="11.8" fill="#fff" stroke="#0000ff" stroke-width="2.9" stroke-linejoin="round"/>
<rect x="694.34" y="946.77" width="11.8" height="11.8" fill="#fff" stroke="#0000ff" stroke-width="2.9" stroke-linejoin="round"/>
<rect x="715.72" y="946.38" width="11.8" height="11.8" fill="#fff" stroke="#0000ff" stroke-width="2.9" stroke-linejoin="round"/>
<rect x="737.1" y="946.38" width="11.8" height="11.8" fill="#fff" stroke="#0000ff" stroke-width="2.9" stroke-linejoin="round"/>
<rect x="758.48" y="945.99" width="11.8" height="11.8" fill="#fff" stroke="#0000ff" stroke-width="2.9" stroke-linejoin="round"/>
<circle cx="215.1" cy="1070.1" r="7.1" fill="#fff" stroke="#ff0000" stroke-width="2.9"/>
<circle cx="238.28" cy="1073.22" r="7.1" fill="#fff" stroke="#ff0000" stroke-width="2.9"/>
<circle cx="261.46" cy="1080.24" r="7.1" fill="#fff" stroke="#ff0000" stroke-width="2.9"/>
<circle cx="284.64" cy="1091.16" r="7.1" fill="#fff" stroke="#ff0000" stroke-width="2.9"/>
<circle cx="307.82" cy="1104.82" r="7.1" fill="#fff" stroke="#ff0000" stroke-width="2.9"/>
<circle cx="331" cy="1121.2" r="7.1" fill="#fff" stroke="#ff0000" stroke-width="2.9"/>
<circle cx="354.18" cy="1139.15" r="7.1" fill="#fff" stroke="#ff0000" stroke-width="2.9"/>
<circle cx="377.36" cy="1148.12" r="7.1" fill="#fff" stroke="#ff0000" stroke-width="2.9"/>
<circle cx="400.54" cy="1166.45" r="7.1" fill="#fff" stroke="#ff0000" stroke-width="2.9"/>
<circle cx="423.72" cy="1184.01" r="7.1" fill="#fff" stroke="#ff0000" stroke-width="2.9"/>
<circle cx="446.9" cy="1199.61" r="7.1" fill="#fff" stroke="#ff0000" stroke-width="2.9"/>
<circle cx="470.08" cy="1216.78" r="7.1" fill="#fff" stroke="#ff0000" stroke-width="2.9"/>
<circle cx="493.26" cy="1231.6" r="7.1" fill="#fff" stroke="#ff0000" stroke-width="2.9"/>
<circle cx="516.44" cy="1245.25" r="7.1" fill="#fff" stroke="#ff0000" stroke-width="2.9"/>
<circle cx="539.62" cy="1257.74" r="7.1" fill="#fff" stroke="#ff0000" stroke-width="2.9"/>
<circle cx="562.8" cy="1270.22" r="7.1" fill="#fff" stroke="#ff0000" stroke-width="2.9"/>
<circle cx="585.98" cy="1281.53" r="7.1" fill="#fff" stroke="#ff0000" stroke-width="2.9"/>
<circle cx="609.16" cy="1291.29" r="7.1" fill="#fff" stroke="#ff0000" stroke-width="2.9"/>
<circle cx="632.34" cy="1301.04" r="7.1" fill="#fff" stroke="#ff0000" stroke-width="2.9"/>
<circle cx="655.52" cy="1310.01" r="7.1" fill="#fff" stroke="#ff0000" stroke-width="2.9"/>
<circle cx="678.7" cy="1318.59" r="7.1" fill="#fff" stroke="#ff0000" stroke-width="2.9"/>
<circle cx="701.88" cy="1326.79" r="7.1" fill="#fff" stroke="#ff0000" stroke-width="2.9"/>
<circle cx="725.06" cy="1334.2" r="7.1" fill="#fff" stroke="#ff0000" stroke-width="2.9"/>
<circle cx="748.24" cy="1341.22" r="7.1" fill="#fff" stroke="#ff0000" stroke-width="2.9"/>
<circle cx="771.42" cy="1348.63" r="7.1" fill="#fff" stroke="#ff0000" stroke-width="2.9"/>
<circle cx="794.6" cy="1354.87" r="7.1" fill="#fff" stroke="#ff0000" stroke-width="2.9"/>
<circle cx="817.78" cy="1361.12" r="7.1" fill="#fff" stroke="#ff0000" stroke-width="2.9"/>
<circle cx="208.5" cy="1326.4" r="7.1" fill="#fff" stroke="#ff0000" stroke-width="2.9"/>
<circle cx="229.88" cy="1295.97" r="7.1" fill="#fff" stroke="#ff0000" stroke-width="2.9"/>
<circle cx="251.26" cy="1272.17" r="7.1" fill="#fff" stroke="#ff0000" stroke-width="2.9"/>
<circle cx="272.64" cy="1252.67" r="7.1" fill="#fff" stroke="#ff0000" stroke-width="2.9"/>
<circle cx="294.02" cy="1237.84" r="7.1" fill="#fff" stroke="#ff0000" stroke-width="2.9"/>
<circle cx="315.4" cy="1224.97" r="7.1" fill="#fff" stroke="#ff0000" stroke-width="2.9"/>
<circle cx="336.78" cy="1216.78" r="7.1" fill="#fff" stroke="#ff0000" stroke-width="2.9"/>
<circle cx="358.16" cy="1212.49" r="7.1" fill="#fff" stroke="#ff0000" stroke-width="2.9"/>
<circle cx="379.54" cy="1207.41" r="7.1" fill="#fff" stroke="#ff0000" stroke-width="2.9"/>
<circle cx="400.92" cy="1202.73" r="7.1" fill="#fff" stroke="#ff0000" stroke-width="2.9"/>
<circle cx="422.3" cy="1200.39" r="7.1" fill="#fff" stroke="#ff0000" stroke-width="2.9"/>
<circle cx="443.68" cy="1199.61" r="7.1" fill="#fff" stroke="#ff0000" stroke-width="2.9"/>
<circle cx="465.06" cy="1196.88" r="7.1" fill="#fff" stroke="#ff0000" stroke-width="2.9"/>
<circle cx="486.44" cy="1196.1" r="7.1" fill="#fff" stroke="#ff0000" stroke-width="2.9"/>
<circle cx="507.82" cy="1195.71" r="7.1" fill="#fff" stroke="#ff0000" stroke-width="2.9"/>
<circle cx="529.2" cy="1195.71" r="7.1" fill="#fff" stroke="#ff0000" stroke-width="2.9"/>
<circle cx="550.58" cy="1195.71" r="7.1" fill="#fff" stroke="#ff0000" stroke-width="2.9"/>
<circle cx="571.96" cy="1196.1" r="7.1" fill="#fff" stroke="#ff0000" stroke-width="2.9"/>
<circle cx="593.34" cy="1196.49" r="7.1" fill="#fff" stroke="#ff0000" stroke-width="2.9"/>
<circle cx="614.72" cy="1196.88" r="7.1" fill="#fff" stroke="#ff0000" stroke-width="2.9"/>
<circle cx="636.1" cy="1197.66" r="7.1" fill="#fff" stroke="#ff0000" stroke-width="2.9"/>
<circle cx="657.48" cy="1198.44" r="7.1" fill="#fff" stroke="#ff0000" stroke-width="2.9"/>
<circle cx="678.86" cy="1199.22" r="7.1" fill="#fff" stroke="#ff0000" stroke-width="2.9"/>
<circle cx="700.24" cy="1199.61" r="7.1" fill="#fff" stroke="#ff0000" stroke-width="2.9"/>
<circle cx="721.62" cy="1200.39" r="7.1" fill="#fff" stroke="#ff0000" stroke-width="2.9"/>
<circle cx="743" cy="1201.17" r="7.1" fill="#fff" stroke="#ff0000" stroke-width="2.9"/>
<circle cx="764.38" cy="1201.95" r="7.1" fill="#fff" stroke="#ff0000" stroke-width="2.9"/>
<ellipse cx="554.5" cy="962" rx="6" ry="8.4" fill="#00f000" stroke="#000" stroke-width="1.2"/>
<ellipse cx="445.3" cy="1200.4" rx="6" ry="8.4" fill="#00f000" stroke="#000" stroke-width="1.2"/>
<g transform="translate(555.12,1004.6)"><text x="0" y="0" font-size="32.24" font-family="'Liberation Sans', Arial, sans-serif" >19.8%</text></g>
<g transform="translate(435.26,1166.5)"><text x="0" y="0" font-size="32.98" font-family="'Liberation Sans', Arial, sans-serif" >11.2%</text></g>
<ellipse cx="218.3" cy="1000.7" rx="50.7" ry="105.3" fill="none" stroke="#000" stroke-width="4.2"/>
<ellipse cx="236.6" cy="1230.8" rx="31.2" ry="104.5" fill="none" stroke="#000" stroke-width="4.2"/>
<line x1="269" y1="987" x2="330.8" y2="987" stroke="#000" stroke-width="3.6" stroke-linecap="butt"/>
<polygon points="354.8,987 329.8,974.35 329.8,999.65" fill="#000"/>
<line x1="249.5" y1="1242.5" x2="185.7" y2="1242.5" stroke="#000" stroke-width="3.6" stroke-linecap="butt"/>
<polygon points="161.7,1242.5 186.7,1229.85 186.7,1255.15" fill="#000"/>
<rect x="556.6" y="1067.4" width="287.1" height="77.5" fill="#fff" stroke="#444" stroke-width="1.3"/>
<line x1="560.7" y1="1089.3" x2="620.9" y2="1089.3" stroke="#333" stroke-width="1.1" />
<rect x="584.9" y="1083.4" width="11.8" height="11.8" fill="#fff" stroke="#0000ff" stroke-width="2.9" stroke-linejoin="round"/>
<g transform="translate(629.1,1098.7)"><text x="0" y="0" font-size="26.92" font-family="'Liberation Sans', Arial, sans-serif" ><tspan font-family="'Liberation Serif', 'Times New Roman', serif">χ</tspan>-Cu-O = 3.80eV</text></g>
<line x1="560.7" y1="1125.9" x2="620.9" y2="1125.9" stroke="#333" stroke-width="1.1" />
<circle cx="590.8" cy="1125.9" r="7.1" fill="#fff" stroke="#ff0000" stroke-width="2.9"/>
<g transform="translate(629.1,1135.5)"><text x="0" y="0" font-size="26.92" font-family="'Liberation Sans', Arial, sans-serif" ><tspan font-family="'Liberation Serif', 'Times New Roman', serif">χ</tspan>-Cu-O = 2.84eV</text></g>
<rect x="1176.2" y="782.3" width="696.2" height="592.6" fill="none" stroke="#000" stroke-width="2.5"/>
<line x1="1176.2" y1="1373.65" x2="1176.2" y2="1384.9" stroke="#000" stroke-width="2.5" />
<g transform="translate(1167.44,1417.8)"><text x="0" y="0" font-size="31.3" font-family="'Liberation Sans', Arial, sans-serif" >0</text></g>
<line x1="1234.22" y1="1373.65" x2="1234.22" y2="1379.9" stroke="#000" stroke-width="2.5" />
<line x1="1292.23" y1="1373.65" x2="1292.23" y2="1384.9" stroke="#000" stroke-width="2.5" />
<g transform="translate(1265.94,1417.8)"><text x="0" y="0" font-size="31.3" font-family="'Liberation Sans', Arial, sans-serif" >200</text></g>
<line x1="1350.25" y1="1373.65" x2="1350.25" y2="1379.9" stroke="#000" stroke-width="2.5" />
<line x1="1408.27" y1="1373.65" x2="1408.27" y2="1384.9" stroke="#000" stroke-width="2.5" />
<g transform="translate(1382.44,1417.8)"><text x="0" y="0" font-size="31.3" font-family="'Liberation Sans', Arial, sans-serif" >400</text></g>
<line x1="1466.28" y1="1373.65" x2="1466.28" y2="1379.9" stroke="#000" stroke-width="2.5" />
<line x1="1524.3" y1="1373.65" x2="1524.3" y2="1384.9" stroke="#000" stroke-width="2.5" />
<g transform="translate(1498.01,1417.8)"><text x="0" y="0" font-size="31.3" font-family="'Liberation Sans', Arial, sans-serif" >600</text></g>
<line x1="1582.32" y1="1373.65" x2="1582.32" y2="1379.9" stroke="#000" stroke-width="2.5" />
<line x1="1640.33" y1="1373.65" x2="1640.33" y2="1384.9" stroke="#000" stroke-width="2.5" />
<g transform="translate(1614.2,1417.8)"><text x="0" y="0" font-size="31.3" font-family="'Liberation Sans', Arial, sans-serif" >800</text></g>
<line x1="1698.35" y1="1373.65" x2="1698.35" y2="1379.9" stroke="#000" stroke-width="2.5" />
<line x1="1756.37" y1="1373.65" x2="1756.37" y2="1384.9" stroke="#000" stroke-width="2.5" />
<g transform="translate(1721,1417.8)"><text x="0" y="0" font-size="31.3" font-family="'Liberation Sans', Arial, sans-serif" >1000</text></g>
<line x1="1814.38" y1="1373.65" x2="1814.38" y2="1379.9" stroke="#000" stroke-width="2.5" />
<line x1="1872.4" y1="1373.65" x2="1872.4" y2="1384.9" stroke="#000" stroke-width="2.5" />
<g transform="translate(1837.03,1417.8)"><text x="0" y="0" font-size="31.3" font-family="'Liberation Sans', Arial, sans-serif" >1200</text></g>
<line x1="1176.2" y1="782.3" x2="1176.2" y2="792.3" stroke="#000" stroke-width="2.5" />
<line x1="1245.82" y1="782.3" x2="1245.82" y2="787.3" stroke="#000" stroke-width="2.5" />
<line x1="1315.44" y1="782.3" x2="1315.44" y2="792.3" stroke="#000" stroke-width="2.5" />
<line x1="1385.06" y1="782.3" x2="1385.06" y2="787.3" stroke="#000" stroke-width="2.5" />
<line x1="1454.68" y1="782.3" x2="1454.68" y2="792.3" stroke="#000" stroke-width="2.5" />
<line x1="1524.3" y1="782.3" x2="1524.3" y2="787.3" stroke="#000" stroke-width="2.5" />
<line x1="1593.92" y1="782.3" x2="1593.92" y2="792.3" stroke="#000" stroke-width="2.5" />
<line x1="1663.54" y1="782.3" x2="1663.54" y2="787.3" stroke="#000" stroke-width="2.5" />
<line x1="1733.16" y1="782.3" x2="1733.16" y2="792.3" stroke="#000" stroke-width="2.5" />
<line x1="1802.78" y1="782.3" x2="1802.78" y2="787.3" stroke="#000" stroke-width="2.5" />
<line x1="1872.4" y1="782.3" x2="1872.4" y2="792.3" stroke="#000" stroke-width="2.5" />
<line x1="1166.2" y1="1374.9" x2="1177.45" y2="1374.9" stroke="#000" stroke-width="2.5" />
<g transform="translate(1115.56,1384.65)"><text x="0" y="0" font-size="31.3" font-family="'Liberation Sans', Arial, sans-serif" >0.1</text></g>
<line x1="1171.2" y1="1352.03" x2="1177.45" y2="1352.03" stroke="#000" stroke-width="2.5" />
<line x1="1166.2" y1="1329.16" x2="1177.45" y2="1329.16" stroke="#000" stroke-width="2.5" />
<g transform="translate(1115.56,1338.92)"><text x="0" y="0" font-size="31.3" font-family="'Liberation Sans', Arial, sans-serif" >0.2</text></g>
<line x1="1171.2" y1="1306.29" x2="1177.45" y2="1306.29" stroke="#000" stroke-width="2.5" />
<line x1="1166.2" y1="1283.42" x2="1177.45" y2="1283.42" stroke="#000" stroke-width="2.5" />
<g transform="translate(1115.24,1293.18)"><text x="0" y="0" font-size="31.3" font-family="'Liberation Sans', Arial, sans-serif" >0.3</text></g>
<line x1="1171.2" y1="1260.55" x2="1177.45" y2="1260.55" stroke="#000" stroke-width="2.5" />
<line x1="1166.2" y1="1237.68" x2="1177.45" y2="1237.68" stroke="#000" stroke-width="2.5" />
<g transform="translate(1114.93,1247.44)"><text x="0" y="0" font-size="31.3" font-family="'Liberation Sans', Arial, sans-serif" >0.4</text></g>
<line x1="1171.2" y1="1214.82" x2="1177.45" y2="1214.82" stroke="#000" stroke-width="2.5" />
<line x1="1166.2" y1="1191.95" x2="1177.45" y2="1191.95" stroke="#000" stroke-width="2.5" />
<g transform="translate(1115.24,1201.7)"><text x="0" y="0" font-size="31.3" font-family="'Liberation Sans', Arial, sans-serif" >0.5</text></g>
<line x1="1171.2" y1="1169.08" x2="1177.45" y2="1169.08" stroke="#000" stroke-width="2.5" />
<line x1="1166.2" y1="1146.21" x2="1177.45" y2="1146.21" stroke="#000" stroke-width="2.5" />
<g transform="translate(1115.24,1155.96)"><text x="0" y="0" font-size="31.3" font-family="'Liberation Sans', Arial, sans-serif" >0.6</text></g>
<line x1="1171.2" y1="1123.34" x2="1177.45" y2="1123.34" stroke="#000" stroke-width="2.5" />
<line x1="1166.2" y1="1100.47" x2="1177.45" y2="1100.47" stroke="#000" stroke-width="2.5" />
<g transform="translate(1115.56,1110.22)"><text x="0" y="0" font-size="31.3" font-family="'Liberation Sans', Arial, sans-serif" >0.7</text></g>
<line x1="1171.2" y1="1077.6" x2="1177.45" y2="1077.6" stroke="#000" stroke-width="2.5" />
<line x1="1166.2" y1="1054.73" x2="1177.45" y2="1054.73" stroke="#000" stroke-width="2.5" />
<g transform="translate(1115.24,1064.49)"><text x="0" y="0" font-size="31.3" font-family="'Liberation Sans', Arial, sans-serif" >0.8</text></g>
<line x1="1171.2" y1="1031.86" x2="1177.45" y2="1031.86" stroke="#000" stroke-width="2.5" />
<line x1="1166.2" y1="1008.99" x2="1177.45" y2="1008.99" stroke="#000" stroke-width="2.5" />
<g transform="translate(1115.56,1018.75)"><text x="0" y="0" font-size="31.3" font-family="'Liberation Sans', Arial, sans-serif" >0.9</text></g>
<line x1="1171.2" y1="986.12" x2="1177.45" y2="986.12" stroke="#000" stroke-width="2.5" />
<line x1="1166.2" y1="963.25" x2="1177.45" y2="963.25" stroke="#000" stroke-width="2.5" />
<g transform="translate(1115.24,973.01)"><text x="0" y="0" font-size="31.3" font-family="'Liberation Sans', Arial, sans-serif" >1.0</text></g>
<line x1="1171.2" y1="940.38" x2="1177.45" y2="940.38" stroke="#000" stroke-width="2.5" />
<line x1="1166.2" y1="917.52" x2="1177.45" y2="917.52" stroke="#000" stroke-width="2.5" />
<g transform="translate(1115.56,927.27)"><text x="0" y="0" font-size="31.3" font-family="'Liberation Sans', Arial, sans-serif" >1.1</text></g>
<line x1="1171.2" y1="894.65" x2="1177.45" y2="894.65" stroke="#000" stroke-width="2.5" />
<line x1="1166.2" y1="871.78" x2="1177.45" y2="871.78" stroke="#000" stroke-width="2.5" />
<g transform="translate(1115.56,881.53)"><text x="0" y="0" font-size="31.3" font-family="'Liberation Sans', Arial, sans-serif" >1.2</text></g>
<line x1="1171.2" y1="848.91" x2="1177.45" y2="848.91" stroke="#000" stroke-width="2.5" />
<line x1="1166.2" y1="826.04" x2="1177.45" y2="826.04" stroke="#000" stroke-width="2.5" />
<g transform="translate(1115.24,835.79)"><text x="0" y="0" font-size="31.3" font-family="'Liberation Sans', Arial, sans-serif" >1.3</text></g>
<line x1="1171.2" y1="803.17" x2="1177.45" y2="803.17" stroke="#000" stroke-width="2.5" />
<line x1="1166.2" y1="780.3" x2="1177.45" y2="780.3" stroke="#000" stroke-width="2.5" />
<g transform="translate(1114.93,790.05)"><text x="0" y="0" font-size="31.3" font-family="'Liberation Sans', Arial, sans-serif" >1.4</text></g>
<line x1="1871.15" y1="1374.9" x2="1882.4" y2="1374.9" stroke="#000" stroke-width="2.5" />
<g transform="translate(1889.85,1384.65)"><text x="0" y="0" font-size="31.3" font-family="'Liberation Sans', Arial, sans-serif" >8</text></g>
<line x1="1871.15" y1="1337.86" x2="1877.4" y2="1337.86" stroke="#000" stroke-width="2.5" />
<line x1="1871.15" y1="1300.83" x2="1882.4" y2="1300.83" stroke="#000" stroke-width="2.5" />
<g transform="translate(1888.6,1310.58)"><text x="0" y="0" font-size="31.3" font-family="'Liberation Sans', Arial, sans-serif" >10</text></g>
<line x1="1871.15" y1="1263.79" x2="1877.4" y2="1263.79" stroke="#000" stroke-width="2.5" />
<line x1="1871.15" y1="1226.75" x2="1882.4" y2="1226.75" stroke="#000" stroke-width="2.5" />
<g transform="translate(1888.6,1236.5)"><text x="0" y="0" font-size="31.3" font-family="'Liberation Sans', Arial, sans-serif" >12</text></g>
<line x1="1871.15" y1="1189.71" x2="1877.4" y2="1189.71" stroke="#000" stroke-width="2.5" />
<line x1="1871.15" y1="1152.67" x2="1882.4" y2="1152.67" stroke="#000" stroke-width="2.5" />
<g transform="translate(1888.6,1162.43)"><text x="0" y="0" font-size="31.3" font-family="'Liberation Sans', Arial, sans-serif" >14</text></g>
<line x1="1871.15" y1="1115.64" x2="1877.4" y2="1115.64" stroke="#000" stroke-width="2.5" />
<line x1="1871.15" y1="1078.6" x2="1882.4" y2="1078.6" stroke="#000" stroke-width="2.5" />
<g transform="translate(1888.6,1088.35)"><text x="0" y="0" font-size="31.3" font-family="'Liberation Sans', Arial, sans-serif" >16</text></g>
<line x1="1871.15" y1="1041.56" x2="1877.4" y2="1041.56" stroke="#000" stroke-width="2.5" />
<line x1="1871.15" y1="1004.52" x2="1882.4" y2="1004.52" stroke="#000" stroke-width="2.5" />
<g transform="translate(1888.6,1014.28)"><text x="0" y="0" font-size="31.3" font-family="'Liberation Sans', Arial, sans-serif" >18</text></g>
<line x1="1871.15" y1="967.49" x2="1877.4" y2="967.49" stroke="#000" stroke-width="2.5" />
<line x1="1871.15" y1="930.45" x2="1882.4" y2="930.45" stroke="#000" stroke-width="2.5" />
<g transform="translate(1889.54,940.21)"><text x="0" y="0" font-size="31.3" font-family="'Liberation Sans', Arial, sans-serif" >20</text></g>
<line x1="1871.15" y1="893.41" x2="1877.4" y2="893.41" stroke="#000" stroke-width="2.5" />
<line x1="1871.15" y1="856.38" x2="1882.4" y2="856.38" stroke="#000" stroke-width="2.5" />
<g transform="translate(1889.54,866.13)"><text x="0" y="0" font-size="31.3" font-family="'Liberation Sans', Arial, sans-serif" >22</text></g>
<line x1="1871.15" y1="819.34" x2="1877.4" y2="819.34" stroke="#000" stroke-width="2.5" />
<line x1="1871.15" y1="782.3" x2="1882.4" y2="782.3" stroke="#000" stroke-width="2.5" />
<g transform="translate(1889.54,792.05)"><text x="0" y="0" font-size="31.3" font-family="'Liberation Sans', Arial, sans-serif" >24</text></g>
<g transform="translate(994.54,774.02)"><text x="0" y="0" font-size="61.5" font-family="'Liberation Serif', 'Times New Roman', serif" >(d)</text></g>
<g transform="translate(1372.71,1470.7)"><text x="0" y="0" font-size="44.68" font-family="'Liberation Sans', Arial, sans-serif" >Thickness (nm)</text></g>
<g transform="translate(1087.4,1115.55) rotate(-90)"><text x="0" y="0" font-size="44.77" font-family="'Liberation Sans', Arial, sans-serif" >V</text></g>
<g transform="translate(1099.5,1085.69) rotate(-90)"><text x="0" y="0" font-size="31.77" font-family="'Liberation Sans', Arial, sans-serif" >OC</text></g>
<g transform="translate(1994,1344.04) rotate(-90)"><text x="0" y="0" font-size="44.78" font-family="'Liberation Sans', Arial, sans-serif" >Current density</text></g>
<g transform="translate(1994,1044.18) rotate(-90)"><text x="0" y="0" font-size="68" font-family="'Liberation Sans', Arial, sans-serif" >(</text></g>
<g transform="translate(1994,1018.4) rotate(-90)"><text x="0" y="0" font-size="45.72" font-family="'Liberation Sans', Arial, sans-serif" >mA cm</text></g>
<g transform="translate(1964.6,878.33) rotate(-90)"><text x="0" y="0" font-size="43.12" font-family="'Liberation Sans', Arial, sans-serif" >-2</text></g>
<g transform="translate(1994,833.88) rotate(-90)"><text x="0" y="0" font-size="68" font-family="'Liberation Sans', Arial, sans-serif" >)</text></g>
<g transform="translate(1203.29,1352.9)"><g transform="scale(1,1.03)"><text x="0" y="0" font-size="32.34" font-family="'Liberation Sans', Arial, sans-serif" >ITO/Cu-O/FA<tspan font-size="21.99" dy="7.6">0.8</tspan><tspan dy="-7.6">​</tspan>Cs<tspan font-size="21.99" dy="7.6">0.2</tspan><tspan dy="-7.6">​</tspan>Pb(I<tspan font-size="21.99" dy="7.6">0.6</tspan><tspan dy="-7.6">​</tspan>Br<tspan font-size="21.99" dy="7.6">0.4</tspan><tspan dy="-7.6">​</tspan>)3/C<tspan font-size="21.99" dy="7.6">60</tspan><tspan dy="-7.6">​</tspan>/SnO<tspan font-size="21.99" dy="7.6">2</tspan><tspan dy="-7.6">​</tspan>/Au</text></g></g>
<path d="M1233.6,815.25 C1237.47,815.97 1249.07,818.24 1256.81,819.54 C1264.55,820.84 1272.28,821.88 1280.02,823.05 C1287.76,824.22 1295.49,825.4 1303.23,826.57 C1310.97,827.74 1318.7,829.04 1326.44,830.08 C1334.18,831.12 1341.91,831.9 1349.65,832.81 C1357.39,833.72 1365.12,834.63 1372.86,835.54 C1380.6,836.45 1388.33,837.42 1396.07,838.27 C1403.81,839.11 1411.54,839.83 1419.28,840.61 C1427.02,841.39 1434.75,842.23 1442.49,842.95 C1450.23,843.67 1457.96,844.25 1465.7,844.9 C1473.44,845.55 1481.17,846.27 1488.91,846.85 C1496.65,847.44 1504.38,847.89 1512.12,848.41 C1519.86,848.93 1527.59,849.45 1535.33,849.97 C1543.07,850.49 1550.8,851.01 1558.54,851.53 C1566.28,852.05 1574.01,852.57 1581.75,853.09 C1589.49,853.61 1597.22,854.13 1604.96,854.65 C1612.7,855.17 1620.43,855.69 1628.17,856.21 C1635.91,856.73 1643.64,857.32 1651.38,857.77 C1659.12,858.23 1666.85,858.62 1674.59,858.94 C1682.33,859.27 1690.06,859.4 1697.8,859.72 C1705.54,860.05 1713.27,860.5 1721.01,860.89 C1728.75,861.29 1736.48,861.68 1744.22,862.07 C1751.96,862.46 1759.69,862.91 1767.43,863.24 C1775.17,863.56 1782.9,863.76 1790.64,864.02 C1798.38,864.28 1806.11,864.54 1813.85,864.8 C1821.59,865.06 1831.36,865.38 1837.06,865.58 C1842.76,865.77 1846.22,865.88 1848.05,865.95" fill="none" stroke="#333" stroke-width="1.1" stroke-linejoin="round"/>
<path d="M1233.6,1318.88 C1237.47,1309.65 1249.07,1280.71 1256.81,1263.49 C1264.55,1246.26 1272.28,1230.26 1280.02,1215.5 C1287.76,1200.74 1295.49,1187.41 1303.23,1174.93 C1310.97,1162.45 1318.7,1151.39 1326.44,1140.6 C1334.18,1129.81 1341.91,1119.21 1349.65,1110.17 C1357.39,1101.14 1365.12,1093.46 1372.86,1086.38 C1380.6,1079.29 1388.33,1073.83 1396.07,1067.65 C1403.81,1061.47 1411.54,1054.84 1419.28,1049.32 C1427.02,1043.79 1434.75,1038.91 1442.49,1034.49 C1450.23,1030.07 1457.96,1026.82 1465.7,1022.79 C1473.44,1018.76 1481.17,1014.21 1488.91,1010.31 C1496.65,1006.4 1504.38,1002.5 1512.12,999.38 C1519.86,996.26 1527.59,994.18 1535.33,991.58 C1543.07,988.98 1550.8,986.18 1558.54,983.78 C1566.28,981.37 1574.01,979.23 1581.75,977.15 C1589.49,975.07 1597.22,973.12 1604.96,971.3 C1612.7,969.47 1620.43,967.85 1628.17,966.22 C1635.91,964.6 1643.64,963.04 1651.38,961.54 C1659.12,960.05 1666.85,958.55 1674.59,957.25 C1682.33,955.95 1690.06,954.91 1697.8,953.74 C1705.54,952.57 1713.27,951.27 1721.01,950.23 C1728.75,949.19 1736.48,948.41 1744.22,947.5 C1751.96,946.59 1759.69,945.61 1767.43,944.77 C1775.17,943.92 1782.9,943.21 1790.64,942.43 C1798.38,941.65 1806.11,940.87 1813.85,940.09 C1821.59,939.31 1831.37,938.32 1837.06,937.75 C1842.75,937.17 1846.18,936.83 1848,936.64" fill="none" stroke="#333" stroke-width="1.1" stroke-linejoin="round"/>
<path d="M1233.6,1019.67 C1237.47,1019.21 1249.07,1017.72 1256.81,1016.94 C1264.55,1016.16 1272.28,1015.44 1280.02,1014.99 C1287.76,1014.53 1295.49,1014.4 1303.23,1014.21 C1310.97,1014.01 1318.7,1013.82 1326.44,1013.82 C1334.18,1013.82 1341.91,1014.08 1349.65,1014.21 C1357.39,1014.34 1365.12,1014.47 1372.86,1014.6 C1380.6,1014.73 1388.33,1014.79 1396.07,1014.99 C1403.81,1015.18 1411.54,1015.51 1419.28,1015.77 C1427.02,1016.03 1434.75,1016.35 1442.49,1016.55 C1450.23,1016.74 1457.96,1016.81 1465.7,1016.94 C1473.44,1017.07 1481.17,1017.13 1488.91,1017.33 C1496.65,1017.52 1504.38,1017.85 1512.12,1018.11 C1519.86,1018.37 1527.59,1018.63 1535.33,1018.89 C1543.07,1019.15 1550.8,1019.41 1558.54,1019.67 C1566.28,1019.93 1574.01,1020.19 1581.75,1020.45 C1589.49,1020.71 1597.22,1021.03 1604.96,1021.23 C1612.7,1021.42 1620.43,1021.42 1628.17,1021.62 C1635.91,1021.81 1643.64,1022.14 1651.38,1022.4 C1659.12,1022.66 1666.85,1022.92 1674.59,1023.18 C1682.33,1023.44 1690.06,1023.7 1697.8,1023.96 C1705.54,1024.22 1713.27,1024.54 1721.01,1024.74 C1728.75,1024.93 1736.48,1025 1744.22,1025.13 C1751.96,1025.26 1759.69,1025.39 1767.43,1025.52 C1775.17,1025.65 1782.9,1025.78 1790.64,1025.91 C1798.38,1026.04 1806.11,1026.11 1813.85,1026.3 C1821.59,1026.5 1831.36,1026.89 1837.06,1027.08 C1842.76,1027.27 1846.22,1027.39 1848.05,1027.45" fill="none" stroke="#333" stroke-width="1.1" stroke-linejoin="round"/>
<path d="M1233.6,1323.95 C1237.47,1314.52 1249.07,1284.75 1256.81,1267.39 C1264.55,1250.03 1272.28,1234.49 1280.02,1219.79 C1287.76,1205.1 1295.49,1191.64 1303.23,1179.22 C1310.97,1166.8 1318.7,1155.75 1326.44,1145.28 C1334.18,1134.81 1341.91,1125.26 1349.65,1116.41 C1357.39,1107.57 1365.12,1098.08 1372.86,1092.23 C1380.6,1086.38 1388.33,1086.31 1396.07,1081.31 C1403.81,1076.3 1411.54,1068.11 1419.28,1062.19 C1427.02,1056.27 1434.75,1050.94 1442.49,1045.81 C1450.23,1040.67 1457.96,1035.92 1465.7,1031.37 C1473.44,1026.82 1481.17,1022.46 1488.91,1018.5 C1496.65,1014.53 1504.38,1010.7 1512.12,1007.58 C1519.86,1004.45 1527.59,1002.44 1535.33,999.77 C1543.07,997.11 1550.8,994.05 1558.54,991.58 C1566.28,989.11 1574.01,987.03 1581.75,984.95 C1589.49,982.87 1597.22,980.98 1604.96,979.1 C1612.7,977.21 1620.43,975.33 1628.17,973.64 C1635.91,971.95 1643.64,970.51 1651.38,968.95 C1659.12,967.39 1666.85,965.64 1674.59,964.27 C1682.33,962.91 1690.06,961.93 1697.8,960.76 C1705.54,959.59 1713.27,958.36 1721.01,957.25 C1728.75,956.15 1736.48,955.11 1744.22,954.13 C1751.96,953.16 1759.69,952.31 1767.43,951.4 C1775.17,950.49 1782.9,949.51 1790.64,948.67 C1798.38,947.82 1806.11,947.04 1813.85,946.33 C1821.59,945.61 1831.36,944.86 1837.06,944.38 C1842.76,943.9 1846.19,943.61 1848.02,943.46" fill="none" stroke="#333" stroke-width="1.1" stroke-linejoin="round"/>
<rect x="1227.7" y="809.35" width="11.8" height="11.8" fill="#fff" stroke="#0000ff" stroke-width="2.9" stroke-linejoin="round"/>
<rect x="1250.91" y="813.64" width="11.8" height="11.8" fill="#fff" stroke="#0000ff" stroke-width="2.9" stroke-linejoin="round"/>
<rect x="1274.12" y="817.15" width="11.8" height="11.8" fill="#fff" stroke="#0000ff" stroke-width="2.9" stroke-linejoin="round"/>
<rect x="1297.33" y="820.67" width="11.8" height="11.8" fill="#fff" stroke="#0000ff" stroke-width="2.9" stroke-linejoin="round"/>
<rect x="1320.54" y="824.18" width="11.8" height="11.8" fill="#fff" stroke="#0000ff" stroke-width="2.9" stroke-linejoin="round"/>
<rect x="1343.75" y="826.91" width="11.8" height="11.8" fill="#fff" stroke="#0000ff" stroke-width="2.9" stroke-linejoin="round"/>
<rect x="1366.96" y="829.64" width="11.8" height="11.8" fill="#fff" stroke="#0000ff" stroke-width="2.9" stroke-linejoin="round"/>
<rect x="1390.17" y="832.37" width="11.8" height="11.8" fill="#fff" stroke="#0000ff" stroke-width="2.9" stroke-linejoin="round"/>
<rect x="1413.38" y="834.71" width="11.8" height="11.8" fill="#fff" stroke="#0000ff" stroke-width="2.9" stroke-linejoin="round"/>
<rect x="1436.59" y="837.05" width="11.8" height="11.8" fill="#fff" stroke="#0000ff" stroke-width="2.9" stroke-linejoin="round"/>
<rect x="1459.8" y="839" width="11.8" height="11.8" fill="#fff" stroke="#0000ff" stroke-width="2.9" stroke-linejoin="round"/>
<rect x="1483.01" y="840.95" width="11.8" height="11.8" fill="#fff" stroke="#0000ff" stroke-width="2.9" stroke-linejoin="round"/>
<rect x="1506.22" y="842.51" width="11.8" height="11.8" fill="#fff" stroke="#0000ff" stroke-width="2.9" stroke-linejoin="round"/>
<rect x="1529.43" y="844.07" width="11.8" height="11.8" fill="#fff" stroke="#0000ff" stroke-width="2.9" stroke-linejoin="round"/>
<rect x="1552.64" y="845.63" width="11.8" height="11.8" fill="#fff" stroke="#0000ff" stroke-width="2.9" stroke-linejoin="round"/>
<rect x="1575.85" y="847.19" width="11.8" height="11.8" fill="#fff" stroke="#0000ff" stroke-width="2.9" stroke-linejoin="round"/>
<rect x="1599.06" y="848.75" width="11.8" height="11.8" fill="#fff" stroke="#0000ff" stroke-width="2.9" stroke-linejoin="round"/>
<rect x="1622.27" y="850.31" width="11.8" height="11.8" fill="#fff" stroke="#0000ff" stroke-width="2.9" stroke-linejoin="round"/>
<rect x="1645.48" y="851.87" width="11.8" height="11.8" fill="#fff" stroke="#0000ff" stroke-width="2.9" stroke-linejoin="round"/>
<rect x="1668.69" y="853.04" width="11.8" height="11.8" fill="#fff" stroke="#0000ff" stroke-width="2.9" stroke-linejoin="round"/>
<rect x="1691.9" y="853.82" width="11.8" height="11.8" fill="#fff" stroke="#0000ff" stroke-width="2.9" stroke-linejoin="round"/>
<rect x="1715.11" y="854.99" width="11.8" height="11.8" fill="#fff" stroke="#0000ff" stroke-width="2.9" stroke-linejoin="round"/>
<rect x="1738.32" y="856.17" width="11.8" height="11.8" fill="#fff" stroke="#0000ff" stroke-width="2.9" stroke-linejoin="round"/>
<rect x="1761.53" y="857.34" width="11.8" height="11.8" fill="#fff" stroke="#0000ff" stroke-width="2.9" stroke-linejoin="round"/>
<rect x="1784.74" y="858.12" width="11.8" height="11.8" fill="#fff" stroke="#0000ff" stroke-width="2.9" stroke-linejoin="round"/>
<rect x="1807.95" y="858.9" width="11.8" height="11.8" fill="#fff" stroke="#0000ff" stroke-width="2.9" stroke-linejoin="round"/>
<rect x="1831.16" y="859.68" width="11.8" height="11.8" fill="#fff" stroke="#0000ff" stroke-width="2.9" stroke-linejoin="round"/>
<rect x="1227.7" y="1312.98" width="11.8" height="11.8" fill="#fff" stroke="#0000ff" stroke-width="2.9" stroke-linejoin="round"/>
<rect x="1250.91" y="1257.59" width="11.8" height="11.8" fill="#fff" stroke="#0000ff" stroke-width="2.9" stroke-linejoin="round"/>
<rect x="1274.12" y="1209.6" width="11.8" height="11.8" fill="#fff" stroke="#0000ff" stroke-width="2.9" stroke-linejoin="round"/>
<rect x="1297.33" y="1169.03" width="11.8" height="11.8" fill="#fff" stroke="#0000ff" stroke-width="2.9" stroke-linejoin="round"/>
<rect x="1320.54" y="1134.7" width="11.8" height="11.8" fill="#fff" stroke="#0000ff" stroke-width="2.9" stroke-linejoin="round"/>
<rect x="1343.75" y="1104.27" width="11.8" height="11.8" fill="#fff" stroke="#0000ff" stroke-width="2.9" stroke-linejoin="round"/>
<rect x="1366.96" y="1080.48" width="11.8" height="11.8" fill="#fff" stroke="#0000ff" stroke-width="2.9" stroke-linejoin="round"/>
<rect x="1390.17" y="1061.75" width="11.8" height="11.8" fill="#fff" stroke="#0000ff" stroke-width="2.9" stroke-linejoin="round"/>
<rect x="1413.38" y="1043.42" width="11.8" height="11.8" fill="#fff" stroke="#0000ff" stroke-width="2.9" stroke-linejoin="round"/>
<rect x="1436.59" y="1028.59" width="11.8" height="11.8" fill="#fff" stroke="#0000ff" stroke-width="2.9" stroke-linejoin="round"/>
<rect x="1459.8" y="1016.89" width="11.8" height="11.8" fill="#fff" stroke="#0000ff" stroke-width="2.9" stroke-linejoin="round"/>
<rect x="1483.01" y="1004.41" width="11.8" height="11.8" fill="#fff" stroke="#0000ff" stroke-width="2.9" stroke-linejoin="round"/>
<rect x="1506.22" y="993.48" width="11.8" height="11.8" fill="#fff" stroke="#0000ff" stroke-width="2.9" stroke-linejoin="round"/>
<rect x="1529.43" y="985.68" width="11.8" height="11.8" fill="#fff" stroke="#0000ff" stroke-width="2.9" stroke-linejoin="round"/>
<rect x="1552.64" y="977.88" width="11.8" height="11.8" fill="#fff" stroke="#0000ff" stroke-width="2.9" stroke-linejoin="round"/>
<rect x="1575.85" y="971.25" width="11.8" height="11.8" fill="#fff" stroke="#0000ff" stroke-width="2.9" stroke-linejoin="round"/>
<rect x="1599.06" y="965.4" width="11.8" height="11.8" fill="#fff" stroke="#0000ff" stroke-width="2.9" stroke-linejoin="round"/>
<rect x="1622.27" y="960.32" width="11.8" height="11.8" fill="#fff" stroke="#0000ff" stroke-width="2.9" stroke-linejoin="round"/>
<rect x="1645.48" y="955.64" width="11.8" height="11.8" fill="#fff" stroke="#0000ff" stroke-width="2.9" stroke-linejoin="round"/>
<rect x="1668.69" y="951.35" width="11.8" height="11.8" fill="#fff" stroke="#0000ff" stroke-width="2.9" stroke-linejoin="round"/>
<rect x="1691.9" y="947.84" width="11.8" height="11.8" fill="#fff" stroke="#0000ff" stroke-width="2.9" stroke-linejoin="round"/>
<rect x="1715.11" y="944.33" width="11.8" height="11.8" fill="#fff" stroke="#0000ff" stroke-width="2.9" stroke-linejoin="round"/>
<rect x="1738.32" y="941.6" width="11.8" height="11.8" fill="#fff" stroke="#0000ff" stroke-width="2.9" stroke-linejoin="round"/>
<rect x="1761.53" y="938.87" width="11.8" height="11.8" fill="#fff" stroke="#0000ff" stroke-width="2.9" stroke-linejoin="round"/>
<rect x="1784.74" y="936.53" width="11.8" height="11.8" fill="#fff" stroke="#0000ff" stroke-width="2.9" stroke-linejoin="round"/>
<rect x="1807.95" y="934.19" width="11.8" height="11.8" fill="#fff" stroke="#0000ff" stroke-width="2.9" stroke-linejoin="round"/>
<rect x="1831.16" y="931.85" width="11.8" height="11.8" fill="#fff" stroke="#0000ff" stroke-width="2.9" stroke-linejoin="round"/>
<circle cx="1233.6" cy="1019.67" r="7.1" fill="#fff" stroke="#ff0000" stroke-width="2.9"/>
<circle cx="1256.81" cy="1016.94" r="7.1" fill="#fff" stroke="#ff0000" stroke-width="2.9"/>
<circle cx="1280.02" cy="1014.99" r="7.1" fill="#fff" stroke="#ff0000" stroke-width="2.9"/>
<circle cx="1303.23" cy="1014.21" r="7.1" fill="#fff" stroke="#ff0000" stroke-width="2.9"/>
<circle cx="1326.44" cy="1013.82" r="7.1" fill="#fff" stroke="#ff0000" stroke-width="2.9"/>
<circle cx="1349.65" cy="1014.21" r="7.1" fill="#fff" stroke="#ff0000" stroke-width="2.9"/>
<circle cx="1372.86" cy="1014.6" r="7.1" fill="#fff" stroke="#ff0000" stroke-width="2.9"/>
<circle cx="1396.07" cy="1014.99" r="7.1" fill="#fff" stroke="#ff0000" stroke-width="2.9"/>
<circle cx="1419.28" cy="1015.77" r="7.1" fill="#fff" stroke="#ff0000" stroke-width="2.9"/>
<circle cx="1442.49" cy="1016.55" r="7.1" fill="#fff" stroke="#ff0000" stroke-width="2.9"/>
<circle cx="1465.7" cy="1016.94" r="7.1" fill="#fff" stroke="#ff0000" stroke-width="2.9"/>
<circle cx="1488.91" cy="1017.33" r="7.1" fill="#fff" stroke="#ff0000" stroke-width="2.9"/>
<circle cx="1512.12" cy="1018.11" r="7.1" fill="#fff" stroke="#ff0000" stroke-width="2.9"/>
<circle cx="1535.33" cy="1018.89" r="7.1" fill="#fff" stroke="#ff0000" stroke-width="2.9"/>
<circle cx="1558.54" cy="1019.67" r="7.1" fill="#fff" stroke="#ff0000" stroke-width="2.9"/>
<circle cx="1581.75" cy="1020.45" r="7.1" fill="#fff" stroke="#ff0000" stroke-width="2.9"/>
<circle cx="1604.96" cy="1021.23" r="7.1" fill="#fff" stroke="#ff0000" stroke-width="2.9"/>
<circle cx="1628.17" cy="1021.62" r="7.1" fill="#fff" stroke="#ff0000" stroke-width="2.9"/>
<circle cx="1651.38" cy="1022.4" r="7.1" fill="#fff" stroke="#ff0000" stroke-width="2.9"/>
<circle cx="1674.59" cy="1023.18" r="7.1" fill="#fff" stroke="#ff0000" stroke-width="2.9"/>
<circle cx="1697.8" cy="1023.96" r="7.1" fill="#fff" stroke="#ff0000" stroke-width="2.9"/>
<circle cx="1721.01" cy="1024.74" r="7.1" fill="#fff" stroke="#ff0000" stroke-width="2.9"/>
<circle cx="1744.22" cy="1025.13" r="7.1" fill="#fff" stroke="#ff0000" stroke-width="2.9"/>
<circle cx="1767.43" cy="1025.52" r="7.1" fill="#fff" stroke="#ff0000" stroke-width="2.9"/>
<circle cx="1790.64" cy="1025.91" r="7.1" fill="#fff" stroke="#ff0000" stroke-width="2.9"/>
<circle cx="1813.85" cy="1026.3" r="7.1" fill="#fff" stroke="#ff0000" stroke-width="2.9"/>
<circle cx="1837.06" cy="1027.08" r="7.1" fill="#fff" stroke="#ff0000" stroke-width="2.9"/>
<circle cx="1233.6" cy="1323.95" r="7.1" fill="#fff" stroke="#ff0000" stroke-width="2.9"/>
<circle cx="1256.81" cy="1267.39" r="7.1" fill="#fff" stroke="#ff0000" stroke-width="2.9"/>
<circle cx="1280.02" cy="1219.79" r="7.1" fill="#fff" stroke="#ff0000" stroke-width="2.9"/>
<circle cx="1303.23" cy="1179.22" r="7.1" fill="#fff" stroke="#ff0000" stroke-width="2.9"/>
<circle cx="1326.44" cy="1145.28" r="7.1" fill="#fff" stroke="#ff0000" stroke-width="2.9"/>
<circle cx="1349.65" cy="1116.41" r="7.1" fill="#fff" stroke="#ff0000" stroke-width="2.9"/>
<circle cx="1372.86" cy="1092.23" r="7.1" fill="#fff" stroke="#ff0000" stroke-width="2.9"/>
<circle cx="1396.07" cy="1081.31" r="7.1" fill="#fff" stroke="#ff0000" stroke-width="2.9"/>
<circle cx="1419.28" cy="1062.19" r="7.1" fill="#fff" stroke="#ff0000" stroke-width="2.9"/>
<circle cx="1442.49" cy="1045.81" r="7.1" fill="#fff" stroke="#ff0000" stroke-width="2.9"/>
<circle cx="1465.7" cy="1031.37" r="7.1" fill="#fff" stroke="#ff0000" stroke-width="2.9"/>
<circle cx="1488.91" cy="1018.5" r="7.1" fill="#fff" stroke="#ff0000" stroke-width="2.9"/>
<circle cx="1512.12" cy="1007.58" r="7.1" fill="#fff" stroke="#ff0000" stroke-width="2.9"/>
<circle cx="1535.33" cy="999.77" r="7.1" fill="#fff" stroke="#ff0000" stroke-width="2.9"/>
<circle cx="1558.54" cy="991.58" r="7.1" fill="#fff" stroke="#ff0000" stroke-width="2.9"/>
<circle cx="1581.75" cy="984.95" r="7.1" fill="#fff" stroke="#ff0000" stroke-width="2.9"/>
<circle cx="1604.96" cy="979.1" r="7.1" fill="#fff" stroke="#ff0000" stroke-width="2.9"/>
<circle cx="1628.17" cy="973.64" r="7.1" fill="#fff" stroke="#ff0000" stroke-width="2.9"/>
<circle cx="1651.38" cy="968.95" r="7.1" fill="#fff" stroke="#ff0000" stroke-width="2.9"/>
<circle cx="1674.59" cy="964.27" r="7.1" fill="#fff" stroke="#ff0000" stroke-width="2.9"/>
<circle cx="1697.8" cy="960.76" r="7.1" fill="#fff" stroke="#ff0000" stroke-width="2.9"/>
<circle cx="1721.01" cy="957.25" r="7.1" fill="#fff" stroke="#ff0000" stroke-width="2.9"/>
<circle cx="1744.22" cy="954.13" r="7.1" fill="#fff" stroke="#ff0000" stroke-width="2.9"/>
<circle cx="1767.43" cy="951.4" r="7.1" fill="#fff" stroke="#ff0000" stroke-width="2.9"/>
<circle cx="1790.64" cy="948.67" r="7.1" fill="#fff" stroke="#ff0000" stroke-width="2.9"/>
<circle cx="1813.85" cy="946.33" r="7.1" fill="#fff" stroke="#ff0000" stroke-width="2.9"/>
<circle cx="1837.06" cy="944.38" r="7.1" fill="#fff" stroke="#ff0000" stroke-width="2.9"/>
<ellipse cx="1329.2" cy="920.2" rx="50.7" ry="119" fill="none" stroke="#000" stroke-width="4.2"/>
<ellipse cx="1333.8" cy="1174.9" rx="49.5" ry="80.8" fill="none" stroke="#000" stroke-width="4.2"/>
<line x1="1276.1" y1="933" x2="1231.1" y2="933" stroke="#000" stroke-width="3.6" stroke-linecap="butt"/>
<polygon points="1207.1,933 1232.1,920.35 1232.1,945.65" fill="#000"/>
<line x1="1380.7" y1="1142.5" x2="1442.5" y2="1142.5" stroke="#000" stroke-width="3.6" stroke-linecap="butt"/>
<polygon points="1466.5,1142.5 1441.5,1129.85 1441.5,1155.15" fill="#000"/>
<rect x="1426" y="1174.7" width="297.2" height="79.4" fill="#fff" stroke="#444" stroke-width="1.3"/>
<line x1="1429.4" y1="1197" x2="1492.4" y2="1197" stroke="#333" stroke-width="1.1" />
<rect x="1455" y="1191.1" width="11.8" height="11.8" fill="#fff" stroke="#0000ff" stroke-width="2.9" stroke-linejoin="round"/>
<g transform="translate(1500.9,1206.7)"><text x="0" y="0" font-size="28.21" font-family="'Liberation Sans', Arial, sans-serif" ><tspan font-family="'Liberation Serif', 'Times New Roman', serif">χ</tspan>-Cu-O = 3.80eV</text></g>
<line x1="1429.4" y1="1234.8" x2="1492.4" y2="1234.8" stroke="#333" stroke-width="1.1" />
<circle cx="1460.9" cy="1234.8" r="7.1" fill="#fff" stroke="#ff0000" stroke-width="2.9"/>
<g transform="translate(1500.9,1244.7)"><text x="0" y="0" font-size="28.21" font-family="'Liberation Sans', Arial, sans-serif" ><tspan font-family="'Liberation Serif', 'Times New Roman', serif">χ</tspan>-Cu-O = 2.84eV</text></g>
<rect x="160" y="1544.7" width="703.8" height="592.2" fill="none" stroke="#000" stroke-width="2.5"/>
<line x1="160" y1="2135.65" x2="160" y2="2146.9" stroke="#000" stroke-width="2.5" />
<g transform="translate(151.1,2179.9)"><text x="0" y="0" font-size="31.8" font-family="'Liberation Sans', Arial, sans-serif" >0</text></g>
<line x1="218.65" y1="2135.65" x2="218.65" y2="2141.9" stroke="#000" stroke-width="2.5" />
<line x1="277.3" y1="2135.65" x2="277.3" y2="2146.9" stroke="#000" stroke-width="2.5" />
<g transform="translate(250.59,2179.9)"><text x="0" y="0" font-size="31.8" font-family="'Liberation Sans', Arial, sans-serif" >200</text></g>
<line x1="335.95" y1="2135.65" x2="335.95" y2="2141.9" stroke="#000" stroke-width="2.5" />
<line x1="394.6" y1="2135.65" x2="394.6" y2="2146.9" stroke="#000" stroke-width="2.5" />
<g transform="translate(368.37,2179.9)"><text x="0" y="0" font-size="31.8" font-family="'Liberation Sans', Arial, sans-serif" >400</text></g>
<line x1="453.25" y1="2135.65" x2="453.25" y2="2141.9" stroke="#000" stroke-width="2.5" />
<line x1="511.9" y1="2135.65" x2="511.9" y2="2146.9" stroke="#000" stroke-width="2.5" />
<g transform="translate(485.19,2179.9)"><text x="0" y="0" font-size="31.8" font-family="'Liberation Sans', Arial, sans-serif" >600</text></g>
<line x1="570.55" y1="2135.65" x2="570.55" y2="2141.9" stroke="#000" stroke-width="2.5" />
<line x1="629.2" y1="2135.65" x2="629.2" y2="2146.9" stroke="#000" stroke-width="2.5" />
<g transform="translate(602.65,2179.9)"><text x="0" y="0" font-size="31.8" font-family="'Liberation Sans', Arial, sans-serif" >800</text></g>
<line x1="687.85" y1="2135.65" x2="687.85" y2="2141.9" stroke="#000" stroke-width="2.5" />
<line x1="746.5" y1="2135.65" x2="746.5" y2="2146.9" stroke="#000" stroke-width="2.5" />
<g transform="translate(710.57,2179.9)"><text x="0" y="0" font-size="31.8" font-family="'Liberation Sans', Arial, sans-serif" >1000</text></g>
<line x1="805.15" y1="2135.65" x2="805.15" y2="2141.9" stroke="#000" stroke-width="2.5" />
<line x1="863.8" y1="2135.65" x2="863.8" y2="2146.9" stroke="#000" stroke-width="2.5" />
<g transform="translate(827.87,2179.9)"><text x="0" y="0" font-size="31.8" font-family="'Liberation Sans', Arial, sans-serif" >1200</text></g>
<line x1="160" y1="1544.7" x2="160" y2="1554.7" stroke="#000" stroke-width="2.5" />
<line x1="230.38" y1="1544.7" x2="230.38" y2="1549.7" stroke="#000" stroke-width="2.5" />
<line x1="300.76" y1="1544.7" x2="300.76" y2="1554.7" stroke="#000" stroke-width="2.5" />
<line x1="371.14" y1="1544.7" x2="371.14" y2="1549.7" stroke="#000" stroke-width="2.5" />
<line x1="441.52" y1="1544.7" x2="441.52" y2="1554.7" stroke="#000" stroke-width="2.5" />
<line x1="511.9" y1="1544.7" x2="511.9" y2="1549.7" stroke="#000" stroke-width="2.5" />
<line x1="582.28" y1="1544.7" x2="582.28" y2="1554.7" stroke="#000" stroke-width="2.5" />
<line x1="652.66" y1="1544.7" x2="652.66" y2="1549.7" stroke="#000" stroke-width="2.5" />
<line x1="723.04" y1="1544.7" x2="723.04" y2="1554.7" stroke="#000" stroke-width="2.5" />
<line x1="793.42" y1="1544.7" x2="793.42" y2="1549.7" stroke="#000" stroke-width="2.5" />
<line x1="863.8" y1="1544.7" x2="863.8" y2="1554.7" stroke="#000" stroke-width="2.5" />
<line x1="150" y1="2136.9" x2="161.25" y2="2136.9" stroke="#000" stroke-width="2.5" />
<g transform="translate(124.45,2146.83)"><text x="0" y="0" font-size="31.8" font-family="'Liberation Sans', Arial, sans-serif" >4</text></g>
<line x1="155" y1="2109.98" x2="161.25" y2="2109.98" stroke="#000" stroke-width="2.5" />
<line x1="150" y1="2083.06" x2="161.25" y2="2083.06" stroke="#000" stroke-width="2.5" />
<g transform="translate(125.08,2092.99)"><text x="0" y="0" font-size="31.8" font-family="'Liberation Sans', Arial, sans-serif" >6</text></g>
<line x1="155" y1="2056.15" x2="161.25" y2="2056.15" stroke="#000" stroke-width="2.5" />
<line x1="150" y1="2029.23" x2="161.25" y2="2029.23" stroke="#000" stroke-width="2.5" />
<g transform="translate(125.08,2039.16)"><text x="0" y="0" font-size="31.8" font-family="'Liberation Sans', Arial, sans-serif" >8</text></g>
<line x1="155" y1="2002.31" x2="161.25" y2="2002.31" stroke="#000" stroke-width="2.5" />
<line x1="150" y1="1975.39" x2="161.25" y2="1975.39" stroke="#000" stroke-width="2.5" />
<g transform="translate(107.27,1985.32)"><text x="0" y="0" font-size="31.8" font-family="'Liberation Sans', Arial, sans-serif" >10</text></g>
<line x1="155" y1="1948.47" x2="161.25" y2="1948.47" stroke="#000" stroke-width="2.5" />
<line x1="150" y1="1921.55" x2="161.25" y2="1921.55" stroke="#000" stroke-width="2.5" />
<g transform="translate(107.59,1931.48)"><text x="0" y="0" font-size="31.8" font-family="'Liberation Sans', Arial, sans-serif" >12</text></g>
<line x1="155" y1="1894.64" x2="161.25" y2="1894.64" stroke="#000" stroke-width="2.5" />
<line x1="150" y1="1867.72" x2="161.25" y2="1867.72" stroke="#000" stroke-width="2.5" />
<g transform="translate(106.96,1877.65)"><text x="0" y="0" font-size="31.8" font-family="'Liberation Sans', Arial, sans-serif" >14</text></g>
<line x1="155" y1="1840.8" x2="161.25" y2="1840.8" stroke="#000" stroke-width="2.5" />
<line x1="150" y1="1813.88" x2="161.25" y2="1813.88" stroke="#000" stroke-width="2.5" />
<g transform="translate(107.27,1823.81)"><text x="0" y="0" font-size="31.8" font-family="'Liberation Sans', Arial, sans-serif" >16</text></g>
<line x1="155" y1="1786.96" x2="161.25" y2="1786.96" stroke="#000" stroke-width="2.5" />
<line x1="150" y1="1760.05" x2="161.25" y2="1760.05" stroke="#000" stroke-width="2.5" />
<g transform="translate(107.27,1769.98)"><text x="0" y="0" font-size="31.8" font-family="'Liberation Sans', Arial, sans-serif" >18</text></g>
<line x1="155" y1="1733.13" x2="161.25" y2="1733.13" stroke="#000" stroke-width="2.5" />
<line x1="150" y1="1706.21" x2="161.25" y2="1706.21" stroke="#000" stroke-width="2.5" />
<g transform="translate(107.27,1716.14)"><text x="0" y="0" font-size="31.8" font-family="'Liberation Sans', Arial, sans-serif" >20</text></g>
<line x1="155" y1="1679.29" x2="161.25" y2="1679.29" stroke="#000" stroke-width="2.5" />
<line x1="150" y1="1652.37" x2="161.25" y2="1652.37" stroke="#000" stroke-width="2.5" />
<g transform="translate(107.59,1662.3)"><text x="0" y="0" font-size="31.8" font-family="'Liberation Sans', Arial, sans-serif" >22</text></g>
<line x1="155" y1="1625.45" x2="161.25" y2="1625.45" stroke="#000" stroke-width="2.5" />
<line x1="150" y1="1598.54" x2="161.25" y2="1598.54" stroke="#000" stroke-width="2.5" />
<g transform="translate(106.96,1608.47)"><text x="0" y="0" font-size="31.8" font-family="'Liberation Sans', Arial, sans-serif" >24</text></g>
<line x1="155" y1="1571.62" x2="161.25" y2="1571.62" stroke="#000" stroke-width="2.5" />
<line x1="150" y1="1544.7" x2="161.25" y2="1544.7" stroke="#000" stroke-width="2.5" />
<g transform="translate(107.27,1554.63)"><text x="0" y="0" font-size="31.8" font-family="'Liberation Sans', Arial, sans-serif" >26</text></g>
<line x1="862.55" y1="2133.5" x2="873.8" y2="2133.5" stroke="#000" stroke-width="2.5" />
<g transform="translate(882.01,2143.43)"><text x="0" y="0" font-size="31.8" font-family="'Liberation Sans', Arial, sans-serif" >76</text></g>
<line x1="862.55" y1="2074.9" x2="868.8" y2="2074.9" stroke="#000" stroke-width="2.5" />
<line x1="862.55" y1="2016.3" x2="873.8" y2="2016.3" stroke="#000" stroke-width="2.5" />
<g transform="translate(882.01,2026.23)"><text x="0" y="0" font-size="31.8" font-family="'Liberation Sans', Arial, sans-serif" >78</text></g>
<line x1="862.55" y1="1957.7" x2="868.8" y2="1957.7" stroke="#000" stroke-width="2.5" />
<line x1="862.55" y1="1899.1" x2="873.8" y2="1899.1" stroke="#000" stroke-width="2.5" />
<g transform="translate(882.33,1909.03)"><text x="0" y="0" font-size="31.8" font-family="'Liberation Sans', Arial, sans-serif" >80</text></g>
<line x1="862.55" y1="1840.5" x2="868.8" y2="1840.5" stroke="#000" stroke-width="2.5" />
<line x1="862.55" y1="1781.9" x2="873.8" y2="1781.9" stroke="#000" stroke-width="2.5" />
<g transform="translate(882.33,1791.83)"><text x="0" y="0" font-size="31.8" font-family="'Liberation Sans', Arial, sans-serif" >82</text></g>
<line x1="862.55" y1="1723.3" x2="868.8" y2="1723.3" stroke="#000" stroke-width="2.5" />
<line x1="862.55" y1="1664.7" x2="873.8" y2="1664.7" stroke="#000" stroke-width="2.5" />
<g transform="translate(882.33,1674.63)"><text x="0" y="0" font-size="31.8" font-family="'Liberation Sans', Arial, sans-serif" >84</text></g>
<line x1="862.55" y1="1606.1" x2="868.8" y2="1606.1" stroke="#000" stroke-width="2.5" />
<line x1="862.55" y1="1547.5" x2="873.8" y2="1547.5" stroke="#000" stroke-width="2.5" />
<g transform="translate(882.33,1557.43)"><text x="0" y="0" font-size="31.8" font-family="'Liberation Sans', Arial, sans-serif" >86</text></g>
<g transform="translate(36.74,1482.02)"><text x="0" y="0" font-size="61.5" font-family="'Liberation Serif', 'Times New Roman', serif" >(e)</text></g>
<g transform="translate(362.62,2238.2)"><text x="0" y="0" font-size="44.09" font-family="'Liberation Sans', Arial, sans-serif" >Thickness (nm)</text></g>
<g transform="translate(91.9,1887.86) rotate(-90)"><text x="0" y="0" font-size="48" font-family="'Liberation Serif', 'Times New Roman', serif" >η</text></g>
<g transform="translate(91.9,1860.47) rotate(-90)"><text x="0" y="0" font-size="44.33" font-family="'Liberation Serif', 'Times New Roman', serif" >(%)</text></g>
<g transform="translate(963.5,1887.39) rotate(-90)"><text x="0" y="0" font-size="44.89" font-family="'Liberation Sans', Arial, sans-serif" >FF(%)</text></g>
<g transform="translate(168.14,1584.8)"><g transform="scale(1,1.03)"><text x="0" y="0" font-size="29.54" font-family="'Liberation Sans', Arial, sans-serif" >ITO/PEDOT:PSS/FA<tspan font-size="20.08" dy="6.94">0.7</tspan><tspan dy="-6.94">​</tspan>MA<tspan font-size="20.08" dy="6.94">0.3</tspan><tspan dy="-6.94">​</tspan>Pb<tspan font-size="20.08" dy="6.94">0.5</tspan><tspan dy="-6.94">​</tspan>Sn<tspan font-size="20.08" dy="6.94">0.5</tspan><tspan dy="-6.94">​</tspan>I<tspan font-size="20.08" dy="6.94">3</tspan><tspan dy="-6.94">​</tspan>/C<tspan font-size="20.08" dy="6.94">60</tspan><tspan dy="-6.94">​</tspan>/SnO<tspan font-size="20.08" dy="6.94">2</tspan><tspan dy="-6.94">​</tspan>/Cu</text></g></g>
<line x1="163" y1="1664.8" x2="829.2" y2="1664.8" stroke="#555" stroke-width="1.3" stroke-dasharray="1.4 2.75"/>
<line x1="829.2" y1="1662" x2="829.2" y2="2136.9" stroke="#555" stroke-width="1.3" stroke-dasharray="1.4 2.75"/>
<path d="M218.4,2023.96 C222.31,2018.16 234.03,2000.29 241.85,1989.15 C249.67,1978.01 257.48,1967.33 265.3,1957.11 C273.12,1946.89 280.93,1937.19 288.75,1927.83 C296.57,1918.47 304.38,1909.57 312.2,1900.93 C320.02,1892.29 327.83,1883.92 335.65,1876.01 C343.47,1868.1 351.28,1860.71 359.1,1853.46 C366.92,1846.21 374.73,1839.15 382.55,1832.49 C390.37,1825.83 398.18,1819.57 406,1813.5 C413.82,1807.44 421.63,1801.64 429.45,1796.1 C437.27,1790.56 445.08,1785.15 452.9,1780.27 C460.72,1775.39 468.53,1771.31 476.35,1766.82 C484.17,1762.34 491.98,1757.39 499.8,1753.37 C507.62,1749.35 515.43,1746.38 523.25,1742.69 C531.07,1739 538.88,1734.78 546.7,1731.22 C554.52,1727.66 562.33,1724.36 570.15,1721.33 C577.97,1718.3 585.78,1715.72 593.6,1713.02 C601.42,1710.32 609.23,1707.61 617.05,1705.11 C624.87,1702.6 632.68,1700.1 640.5,1697.99 C648.32,1695.88 656.13,1694.23 663.95,1692.45 C671.77,1690.67 679.58,1688.95 687.4,1687.31 C695.22,1685.66 703.03,1684.08 710.85,1682.56 C718.67,1681.04 726.48,1679.59 734.3,1678.21 C742.12,1676.82 749.93,1675.44 757.75,1674.25 C765.57,1673.06 773.38,1672.08 781.2,1671.09 C789.02,1670.1 796.83,1669.11 804.65,1668.32 C812.47,1667.53 824.19,1666.67 828.1,1666.34" fill="none" stroke="#00ff00" stroke-width="1.1" stroke-linejoin="round"/>
<path d="M218.4,1659.61 C222.31,1660.08 234.03,1660.8 241.85,1662.38 C249.67,1663.97 257.48,1666.67 265.3,1669.11 C273.12,1671.55 280.93,1674.05 288.75,1677.02 C296.57,1679.99 304.38,1683.42 312.2,1686.91 C320.02,1690.41 327.83,1694.16 335.65,1697.99 C343.47,1701.81 351.28,1705.64 359.1,1709.86 C366.92,1714.08 374.73,1718.82 382.55,1723.31 C390.37,1727.79 398.18,1732.14 406,1736.76 C413.82,1741.37 421.63,1746.25 429.45,1751 C437.27,1755.75 445.08,1759.17 452.9,1765.24 C460.72,1771.31 468.53,1781.13 476.35,1787.39 C484.17,1793.66 491.98,1797.68 499.8,1802.82 C507.62,1807.96 515.43,1813.11 523.25,1818.25 C531.07,1823.39 538.88,1828.47 546.7,1833.68 C554.52,1838.89 562.33,1844.29 570.15,1849.5 C577.97,1854.71 585.78,1859.59 593.6,1864.93 C601.42,1870.27 609.23,1876.01 617.05,1881.55 C624.87,1887.08 632.68,1891.63 640.5,1898.16 C648.32,1904.69 656.13,1914.12 663.95,1920.71 C671.77,1927.3 679.58,1931.99 687.4,1937.72 C695.22,1943.46 703.03,1949.26 710.85,1955.13 C718.67,1961 726.48,1967.06 734.3,1972.93 C742.12,1978.8 749.93,1984.53 757.75,1990.34 C765.57,1996.14 773.38,2002.01 781.2,2007.74 C789.02,2013.48 796.83,2019.02 804.65,2024.75 C812.47,2030.49 822.59,2038.07 828.1,2042.16 C833.61,2046.25 836.13,2048.12 837.74,2049.31" fill="none" stroke="#333" stroke-width="1.1" stroke-linejoin="round"/>
<rect x="212.55" y="2018.11" width="11.7" height="11.7" fill="#fff" stroke="#00ff00" stroke-width="3" stroke-linejoin="round"/>
<rect x="236" y="1983.3" width="11.7" height="11.7" fill="#fff" stroke="#00ff00" stroke-width="3" stroke-linejoin="round"/>
<rect x="259.45" y="1951.26" width="11.7" height="11.7" fill="#fff" stroke="#00ff00" stroke-width="3" stroke-linejoin="round"/>
<rect x="282.9" y="1921.98" width="11.7" height="11.7" fill="#fff" stroke="#00ff00" stroke-width="3" stroke-linejoin="round"/>
<rect x="306.35" y="1895.08" width="11.7" height="11.7" fill="#fff" stroke="#00ff00" stroke-width="3" stroke-linejoin="round"/>
<rect x="329.8" y="1870.16" width="11.7" height="11.7" fill="#fff" stroke="#00ff00" stroke-width="3" stroke-linejoin="round"/>
<rect x="353.25" y="1847.61" width="11.7" height="11.7" fill="#fff" stroke="#00ff00" stroke-width="3" stroke-linejoin="round"/>
<rect x="376.7" y="1826.64" width="11.7" height="11.7" fill="#fff" stroke="#00ff00" stroke-width="3" stroke-linejoin="round"/>
<rect x="400.15" y="1807.65" width="11.7" height="11.7" fill="#fff" stroke="#00ff00" stroke-width="3" stroke-linejoin="round"/>
<rect x="423.6" y="1790.25" width="11.7" height="11.7" fill="#fff" stroke="#00ff00" stroke-width="3" stroke-linejoin="round"/>
<rect x="447.05" y="1774.42" width="11.7" height="11.7" fill="#fff" stroke="#00ff00" stroke-width="3" stroke-linejoin="round"/>
<rect x="470.5" y="1760.97" width="11.7" height="11.7" fill="#fff" stroke="#00ff00" stroke-width="3" stroke-linejoin="round"/>
<rect x="493.95" y="1747.52" width="11.7" height="11.7" fill="#fff" stroke="#00ff00" stroke-width="3" stroke-linejoin="round"/>
<rect x="517.4" y="1736.84" width="11.7" height="11.7" fill="#fff" stroke="#00ff00" stroke-width="3" stroke-linejoin="round"/>
<rect x="540.85" y="1725.37" width="11.7" height="11.7" fill="#fff" stroke="#00ff00" stroke-width="3" stroke-linejoin="round"/>
<rect x="564.3" y="1715.48" width="11.7" height="11.7" fill="#fff" stroke="#00ff00" stroke-width="3" stroke-linejoin="round"/>
<rect x="587.75" y="1707.17" width="11.7" height="11.7" fill="#fff" stroke="#00ff00" stroke-width="3" stroke-linejoin="round"/>
<rect x="611.2" y="1699.26" width="11.7" height="11.7" fill="#fff" stroke="#00ff00" stroke-width="3" stroke-linejoin="round"/>
<rect x="634.65" y="1692.14" width="11.7" height="11.7" fill="#fff" stroke="#00ff00" stroke-width="3" stroke-linejoin="round"/>
<rect x="658.1" y="1686.6" width="11.7" height="11.7" fill="#fff" stroke="#00ff00" stroke-width="3" stroke-linejoin="round"/>
<rect x="681.55" y="1681.46" width="11.7" height="11.7" fill="#fff" stroke="#00ff00" stroke-width="3" stroke-linejoin="round"/>
<rect x="705" y="1676.71" width="11.7" height="11.7" fill="#fff" stroke="#00ff00" stroke-width="3" stroke-linejoin="round"/>
<rect x="728.45" y="1672.36" width="11.7" height="11.7" fill="#fff" stroke="#00ff00" stroke-width="3" stroke-linejoin="round"/>
<rect x="751.9" y="1668.4" width="11.7" height="11.7" fill="#fff" stroke="#00ff00" stroke-width="3" stroke-linejoin="round"/>
<rect x="775.35" y="1665.24" width="11.7" height="11.7" fill="#fff" stroke="#00ff00" stroke-width="3" stroke-linejoin="round"/>
<rect x="798.8" y="1662.47" width="11.7" height="11.7" fill="#fff" stroke="#00ff00" stroke-width="3" stroke-linejoin="round"/>
<rect x="822.25" y="1660.49" width="11.7" height="11.7" fill="#fff" stroke="#00ff00" stroke-width="3" stroke-linejoin="round"/>
<circle cx="218.4" cy="1659.61" r="6.9" fill="#fff" stroke="#ff00ff" stroke-width="3.2"/>
<circle cx="241.85" cy="1662.38" r="6.9" fill="#fff" stroke="#ff00ff" stroke-width="3.2"/>
<circle cx="265.3" cy="1669.11" r="6.9" fill="#fff" stroke="#ff00ff" stroke-width="3.2"/>
<circle cx="288.75" cy="1677.02" r="6.9" fill="#fff" stroke="#ff00ff" stroke-width="3.2"/>
<circle cx="312.2" cy="1686.91" r="6.9" fill="#fff" stroke="#ff00ff" stroke-width="3.2"/>
<circle cx="335.65" cy="1697.99" r="6.9" fill="#fff" stroke="#ff00ff" stroke-width="3.2"/>
<circle cx="359.1" cy="1709.86" r="6.9" fill="#fff" stroke="#ff00ff" stroke-width="3.2"/>
<circle cx="382.55" cy="1723.31" r="6.9" fill="#fff" stroke="#ff00ff" stroke-width="3.2"/>
<circle cx="406" cy="1736.76" r="6.9" fill="#fff" stroke="#ff00ff" stroke-width="3.2"/>
<circle cx="429.45" cy="1751" r="6.9" fill="#fff" stroke="#ff00ff" stroke-width="3.2"/>
<circle cx="452.9" cy="1765.24" r="6.9" fill="#fff" stroke="#ff00ff" stroke-width="3.2"/>
<circle cx="476.35" cy="1787.39" r="6.9" fill="#fff" stroke="#ff00ff" stroke-width="3.2"/>
<circle cx="499.8" cy="1802.82" r="6.9" fill="#fff" stroke="#ff00ff" stroke-width="3.2"/>
<circle cx="523.25" cy="1818.25" r="6.9" fill="#fff" stroke="#ff00ff" stroke-width="3.2"/>
<circle cx="546.7" cy="1833.68" r="6.9" fill="#fff" stroke="#ff00ff" stroke-width="3.2"/>
<circle cx="570.15" cy="1849.5" r="6.9" fill="#fff" stroke="#ff00ff" stroke-width="3.2"/>
<circle cx="593.6" cy="1864.93" r="6.9" fill="#fff" stroke="#ff00ff" stroke-width="3.2"/>
<circle cx="617.05" cy="1881.55" r="6.9" fill="#fff" stroke="#ff00ff" stroke-width="3.2"/>
<circle cx="640.5" cy="1898.16" r="6.9" fill="#fff" stroke="#ff00ff" stroke-width="3.2"/>
<circle cx="663.95" cy="1920.71" r="6.9" fill="#fff" stroke="#ff00ff" stroke-width="3.2"/>
<circle cx="687.4" cy="1937.72" r="6.9" fill="#fff" stroke="#ff00ff" stroke-width="3.2"/>
<circle cx="710.85" cy="1955.13" r="6.9" fill="#fff" stroke="#ff00ff" stroke-width="3.2"/>
<circle cx="734.3" cy="1972.93" r="6.9" fill="#fff" stroke="#ff00ff" stroke-width="3.2"/>
<circle cx="757.75" cy="1990.34" r="6.9" fill="#fff" stroke="#ff00ff" stroke-width="3.2"/>
<circle cx="781.2" cy="2007.74" r="6.9" fill="#fff" stroke="#ff00ff" stroke-width="3.2"/>
<circle cx="804.65" cy="2024.75" r="6.9" fill="#fff" stroke="#ff00ff" stroke-width="3.2"/>
<circle cx="828.1" cy="2042.16" r="6.9" fill="#fff" stroke="#ff00ff" stroke-width="3.2"/>
<circle cx="831.2" cy="1662.4" r="6.3" fill="#0000ff" stroke="#000" stroke-width="1.2"/>
<g transform="translate(702.22,1728.8)"><text x="0" y="0" font-size="31.69" font-family="'Liberation Sans', Arial, sans-serif" >21.52%</text></g>
<ellipse cx="326.8" cy="1701.2" rx="50.3" ry="49.5" fill="none" stroke="#000" stroke-width="4.2"/>
<ellipse cx="587.9" cy="1724.1" rx="51" ry="49.5" fill="none" stroke="#000" stroke-width="4.2"/>
<line x1="377.5" y1="1685.3" x2="442.5" y2="1685.3" stroke="#000" stroke-width="3.6" stroke-linecap="butt"/>
<polygon points="466.5,1685.3 441.5,1672.65 441.5,1697.95" fill="#000"/>
<line x1="535.7" y1="1738.7" x2="472.7" y2="1738.7" stroke="#000" stroke-width="3.6" stroke-linecap="butt"/>
<polygon points="448.7,1738.7 473.7,1726.05 473.7,1751.35" fill="#000"/>
<rect x="304.4" y="1952.9" width="361.2" height="48.1" fill="#fff" stroke="#444" stroke-width="1.3"/>
<g transform="translate(310.7,1989.9)"><text x="0" y="0" font-size="32.75" font-family="'Liberation Sans', Arial, sans-serif" ><tspan font-family="'Liberation Serif', 'Times New Roman', serif">χ</tspan>-PEDOT:PSS = 3.60eV</text></g>
<rect x="1173.7" y="1536.5" width="700.5" height="597.1" fill="none" stroke="#000" stroke-width="2.5"/>
<line x1="1173.7" y1="2132.35" x2="1173.7" y2="2143.6" stroke="#000" stroke-width="2.5" />
<g transform="translate(1164.74,2176.8)"><text x="0" y="0" font-size="32" font-family="'Liberation Sans', Arial, sans-serif" >0</text></g>
<line x1="1232.08" y1="2132.35" x2="1232.08" y2="2138.6" stroke="#000" stroke-width="2.5" />
<line x1="1290.45" y1="2132.35" x2="1290.45" y2="2143.6" stroke="#000" stroke-width="2.5" />
<g transform="translate(1263.57,2176.8)"><text x="0" y="0" font-size="32" font-family="'Liberation Sans', Arial, sans-serif" >200</text></g>
<line x1="1348.83" y1="2132.35" x2="1348.83" y2="2138.6" stroke="#000" stroke-width="2.5" />
<line x1="1407.2" y1="2132.35" x2="1407.2" y2="2143.6" stroke="#000" stroke-width="2.5" />
<g transform="translate(1380.8,2176.8)"><text x="0" y="0" font-size="32" font-family="'Liberation Sans', Arial, sans-serif" >400</text></g>
<line x1="1465.58" y1="2132.35" x2="1465.58" y2="2138.6" stroke="#000" stroke-width="2.5" />
<line x1="1523.95" y1="2132.35" x2="1523.95" y2="2143.6" stroke="#000" stroke-width="2.5" />
<g transform="translate(1497.07,2176.8)"><text x="0" y="0" font-size="32" font-family="'Liberation Sans', Arial, sans-serif" >600</text></g>
<line x1="1582.33" y1="2132.35" x2="1582.33" y2="2138.6" stroke="#000" stroke-width="2.5" />
<line x1="1640.7" y1="2132.35" x2="1640.7" y2="2143.6" stroke="#000" stroke-width="2.5" />
<g transform="translate(1613.98,2176.8)"><text x="0" y="0" font-size="32" font-family="'Liberation Sans', Arial, sans-serif" >800</text></g>
<line x1="1699.08" y1="2132.35" x2="1699.08" y2="2138.6" stroke="#000" stroke-width="2.5" />
<line x1="1757.45" y1="2132.35" x2="1757.45" y2="2143.6" stroke="#000" stroke-width="2.5" />
<g transform="translate(1721.29,2176.8)"><text x="0" y="0" font-size="32" font-family="'Liberation Sans', Arial, sans-serif" >1000</text></g>
<line x1="1815.83" y1="2132.35" x2="1815.83" y2="2138.6" stroke="#000" stroke-width="2.5" />
<line x1="1874.2" y1="2132.35" x2="1874.2" y2="2143.6" stroke="#000" stroke-width="2.5" />
<g transform="translate(1838.04,2176.8)"><text x="0" y="0" font-size="32" font-family="'Liberation Sans', Arial, sans-serif" >1200</text></g>
<line x1="1173.7" y1="1536.5" x2="1173.7" y2="1546.5" stroke="#000" stroke-width="2.5" />
<line x1="1243.75" y1="1536.5" x2="1243.75" y2="1541.5" stroke="#000" stroke-width="2.5" />
<line x1="1313.8" y1="1536.5" x2="1313.8" y2="1546.5" stroke="#000" stroke-width="2.5" />
<line x1="1383.85" y1="1536.5" x2="1383.85" y2="1541.5" stroke="#000" stroke-width="2.5" />
<line x1="1453.9" y1="1536.5" x2="1453.9" y2="1546.5" stroke="#000" stroke-width="2.5" />
<line x1="1523.95" y1="1536.5" x2="1523.95" y2="1541.5" stroke="#000" stroke-width="2.5" />
<line x1="1594" y1="1536.5" x2="1594" y2="1546.5" stroke="#000" stroke-width="2.5" />
<line x1="1664.05" y1="1536.5" x2="1664.05" y2="1541.5" stroke="#000" stroke-width="2.5" />
<line x1="1734.1" y1="1536.5" x2="1734.1" y2="1546.5" stroke="#000" stroke-width="2.5" />
<line x1="1804.15" y1="1536.5" x2="1804.15" y2="1541.5" stroke="#000" stroke-width="2.5" />
<line x1="1874.2" y1="1536.5" x2="1874.2" y2="1546.5" stroke="#000" stroke-width="2.5" />
<line x1="1163.7" y1="2133.6" x2="1174.95" y2="2133.6" stroke="#000" stroke-width="2.5" />
<g transform="translate(1093.7,2143.6)"><text x="0" y="0" font-size="32" font-family="'Liberation Sans', Arial, sans-serif" >0.83</text></g>
<line x1="1168.7" y1="2073.89" x2="1174.95" y2="2073.89" stroke="#000" stroke-width="2.5" />
<line x1="1163.7" y1="2014.18" x2="1174.95" y2="2014.18" stroke="#000" stroke-width="2.5" />
<g transform="translate(1093.06,2024.18)"><text x="0" y="0" font-size="32" font-family="'Liberation Sans', Arial, sans-serif" >0.84</text></g>
<line x1="1168.7" y1="1954.47" x2="1174.95" y2="1954.47" stroke="#000" stroke-width="2.5" />
<line x1="1163.7" y1="1894.76" x2="1174.95" y2="1894.76" stroke="#000" stroke-width="2.5" />
<g transform="translate(1093.7,1904.76)"><text x="0" y="0" font-size="32" font-family="'Liberation Sans', Arial, sans-serif" >0.85</text></g>
<line x1="1168.7" y1="1835.05" x2="1174.95" y2="1835.05" stroke="#000" stroke-width="2.5" />
<line x1="1163.7" y1="1775.34" x2="1174.95" y2="1775.34" stroke="#000" stroke-width="2.5" />
<g transform="translate(1093.7,1785.34)"><text x="0" y="0" font-size="32" font-family="'Liberation Sans', Arial, sans-serif" >0.86</text></g>
<line x1="1168.7" y1="1715.63" x2="1174.95" y2="1715.63" stroke="#000" stroke-width="2.5" />
<line x1="1163.7" y1="1655.92" x2="1174.95" y2="1655.92" stroke="#000" stroke-width="2.5" />
<g transform="translate(1093.7,1665.92)"><text x="0" y="0" font-size="32" font-family="'Liberation Sans', Arial, sans-serif" >0.87</text></g>
<line x1="1168.7" y1="1596.21" x2="1174.95" y2="1596.21" stroke="#000" stroke-width="2.5" />
<line x1="1163.7" y1="1536.5" x2="1174.95" y2="1536.5" stroke="#000" stroke-width="2.5" />
<g transform="translate(1093.7,1546.5)"><text x="0" y="0" font-size="32" font-family="'Liberation Sans', Arial, sans-serif" >0.88</text></g>
<line x1="1864.2" y1="2133.6" x2="1874.2" y2="2133.6" stroke="#000" stroke-width="2.5" />
<g transform="translate(1886.02,2143.6)"><text x="0" y="0" font-size="32" font-family="'Liberation Sans', Arial, sans-serif" >8</text></g>
<line x1="1869.2" y1="2090.95" x2="1874.2" y2="2090.95" stroke="#000" stroke-width="2.5" />
<line x1="1864.2" y1="2048.3" x2="1874.2" y2="2048.3" stroke="#000" stroke-width="2.5" />
<g transform="translate(1884.74,2058.3)"><text x="0" y="0" font-size="32" font-family="'Liberation Sans', Arial, sans-serif" >12</text></g>
<line x1="1869.2" y1="2005.65" x2="1874.2" y2="2005.65" stroke="#000" stroke-width="2.5" />
<line x1="1864.2" y1="1963" x2="1874.2" y2="1963" stroke="#000" stroke-width="2.5" />
<g transform="translate(1884.74,1973)"><text x="0" y="0" font-size="32" font-family="'Liberation Sans', Arial, sans-serif" >16</text></g>
<line x1="1869.2" y1="1920.35" x2="1874.2" y2="1920.35" stroke="#000" stroke-width="2.5" />
<line x1="1864.2" y1="1877.7" x2="1874.2" y2="1877.7" stroke="#000" stroke-width="2.5" />
<g transform="translate(1885.7,1887.7)"><text x="0" y="0" font-size="32" font-family="'Liberation Sans', Arial, sans-serif" >20</text></g>
<line x1="1869.2" y1="1835.05" x2="1874.2" y2="1835.05" stroke="#000" stroke-width="2.5" />
<line x1="1864.2" y1="1792.4" x2="1874.2" y2="1792.4" stroke="#000" stroke-width="2.5" />
<g transform="translate(1885.7,1802.4)"><text x="0" y="0" font-size="32" font-family="'Liberation Sans', Arial, sans-serif" >24</text></g>
<line x1="1869.2" y1="1749.75" x2="1874.2" y2="1749.75" stroke="#000" stroke-width="2.5" />
<line x1="1864.2" y1="1707.1" x2="1874.2" y2="1707.1" stroke="#000" stroke-width="2.5" />
<g transform="translate(1885.7,1717.1)"><text x="0" y="0" font-size="32" font-family="'Liberation Sans', Arial, sans-serif" >28</text></g>
<line x1="1869.2" y1="1664.45" x2="1874.2" y2="1664.45" stroke="#000" stroke-width="2.5" />
<line x1="1864.2" y1="1621.8" x2="1874.2" y2="1621.8" stroke="#000" stroke-width="2.5" />
<g transform="translate(1886.02,1631.8)"><text x="0" y="0" font-size="32" font-family="'Liberation Sans', Arial, sans-serif" >32</text></g>
<line x1="1869.2" y1="1579.15" x2="1874.2" y2="1579.15" stroke="#000" stroke-width="2.5" />
<line x1="1864.2" y1="1536.5" x2="1874.2" y2="1536.5" stroke="#000" stroke-width="2.5" />
<g transform="translate(1886.02,1546.5)"><text x="0" y="0" font-size="32" font-family="'Liberation Sans', Arial, sans-serif" >36</text></g>
<g transform="translate(1000.34,1473.92)"><text x="0" y="0" font-size="61.5" font-family="'Liberation Serif', 'Times New Roman', serif" >(f)</text></g>
<g transform="translate(1394.79,2234.3)"><text x="0" y="0" font-size="45.44" font-family="'Liberation Sans', Arial, sans-serif" >Thickness (nm)</text></g>
<g transform="translate(1071.9,1872.45) rotate(-90)"><text x="0" y="0" font-size="44.77" font-family="'Liberation Sans', Arial, sans-serif" >V</text></g>
<g transform="translate(1084.4,1842.13) rotate(-90)"><text x="0" y="0" font-size="32.55" font-family="'Liberation Sans', Arial, sans-serif" >OC</text></g>
<g transform="translate(1999.2,2111.94) rotate(-90)"><text x="0" y="0" font-size="44.78" font-family="'Liberation Sans', Arial, sans-serif" >Current density</text></g>
<g transform="translate(1999.2,1804.18) rotate(-90)"><text x="0" y="0" font-size="68" font-family="'Liberation Sans', Arial, sans-serif" >(</text></g>
<g transform="translate(1999.2,1780.3) rotate(-90)"><text x="0" y="0" font-size="45.72" font-family="'Liberation Sans', Arial, sans-serif" >mA cm</text></g>
<g transform="translate(1969.2,1639.06) rotate(-90)"><text x="0" y="0" font-size="44" font-family="'Liberation Sans', Arial, sans-serif" >-2</text></g>
<g transform="translate(1999.2,1591.28) rotate(-90)"><text x="0" y="0" font-size="68" font-family="'Liberation Sans', Arial, sans-serif" >)</text></g>
<g transform="translate(1175.94,1573.1)"><g transform="scale(1,1.03)"><text x="0" y="0" font-size="29.59" font-family="'Liberation Sans', Arial, sans-serif" >ITO/PEDOT:PSS/FA<tspan font-size="20.12" dy="6.95">0.7</tspan><tspan dy="-6.95">​</tspan>MA<tspan font-size="20.12" dy="6.95">0.3</tspan><tspan dy="-6.95">​</tspan>Pb<tspan font-size="20.12" dy="6.95">0.5</tspan><tspan dy="-6.95">​</tspan>Sn<tspan font-size="20.12" dy="6.95">0.5</tspan><tspan dy="-6.95">​</tspan>I<tspan font-size="20.12" dy="6.95">3</tspan><tspan dy="-6.95">​</tspan>/C<tspan font-size="20.12" dy="6.95">60</tspan><tspan dy="-6.95">​</tspan>/SnO<tspan font-size="20.12" dy="6.95">2</tspan><tspan dy="-6.95">​</tspan>/Cu</text></g></g>
<path d="M1231.7,2065 C1235.6,2058.67 1247.31,2039.15 1255.12,2027.02 C1262.93,2014.89 1270.73,2003.55 1278.54,1992.2 C1286.35,1980.86 1294.15,1969.59 1301.96,1958.97 C1309.77,1948.36 1317.57,1938.27 1325.38,1928.51 C1333.19,1918.75 1340.99,1909.52 1348.8,1900.43 C1356.61,1891.33 1364.41,1882.43 1372.22,1873.92 C1380.03,1865.41 1387.83,1857.3 1395.64,1849.39 C1403.45,1841.48 1411.25,1833.83 1419.06,1826.45 C1426.87,1819.06 1434.67,1812.01 1442.48,1805.09 C1450.29,1798.16 1458.09,1791.5 1465.9,1784.91 C1473.71,1778.32 1481.51,1771.46 1489.32,1765.53 C1497.13,1759.59 1504.93,1754.71 1512.74,1749.31 C1520.55,1743.9 1528.35,1738.29 1536.16,1733.09 C1543.97,1727.88 1551.77,1722.87 1559.58,1718.05 C1567.39,1713.24 1575.19,1708.62 1583,1704.21 C1590.81,1699.79 1598.61,1695.7 1606.42,1691.55 C1614.23,1687.39 1622.03,1683.24 1629.84,1679.28 C1637.65,1675.33 1645.45,1671.5 1653.26,1667.81 C1661.07,1664.12 1668.87,1660.56 1676.68,1657.13 C1684.49,1653.7 1692.29,1650.47 1700.1,1647.24 C1707.91,1644.01 1715.71,1640.71 1723.52,1637.75 C1731.33,1634.78 1739.13,1632.14 1746.94,1629.44 C1754.75,1626.74 1762.55,1624.1 1770.36,1621.53 C1778.17,1618.96 1785.97,1616.45 1793.78,1614.01 C1801.59,1611.57 1809.39,1609.2 1817.2,1606.89 C1825.01,1604.58 1834.79,1601.84 1840.62,1600.16 C1846.45,1598.49 1850.23,1597.4 1852.15,1596.85" fill="none" stroke="#00ff00" stroke-width="1.1" stroke-linejoin="round"/>
<path d="M1231.7,1664.65 C1235.6,1664.98 1247.31,1665.7 1255.12,1666.63 C1262.93,1667.55 1270.73,1668.47 1278.54,1670.19 C1286.35,1671.9 1294.15,1674.41 1301.96,1676.91 C1309.77,1679.42 1317.57,1682.19 1325.38,1685.22 C1333.19,1688.25 1340.99,1691.55 1348.8,1695.11 C1356.61,1698.67 1364.41,1702.56 1372.22,1706.58 C1380.03,1710.6 1387.83,1714.95 1395.64,1719.24 C1403.45,1723.53 1411.25,1727.75 1419.06,1732.29 C1426.87,1736.84 1434.67,1741.72 1442.48,1746.54 C1450.29,1751.35 1458.09,1756.29 1465.9,1761.17 C1473.71,1766.05 1481.51,1770.54 1489.32,1775.81 C1497.13,1781.09 1504.93,1787.15 1512.74,1792.82 C1520.55,1798.49 1528.35,1804.16 1536.16,1809.83 C1543.97,1815.5 1551.77,1821.17 1559.58,1826.84 C1567.39,1832.51 1575.19,1838.12 1583,1843.85 C1590.81,1849.59 1598.61,1855.59 1606.42,1861.26 C1614.23,1866.93 1622.03,1872.4 1629.84,1877.88 C1637.65,1883.35 1645.45,1888.62 1653.26,1894.1 C1661.07,1899.57 1668.87,1905.3 1676.68,1910.71 C1684.49,1916.12 1692.29,1921.26 1700.1,1926.53 C1707.91,1931.81 1715.71,1937.08 1723.52,1942.36 C1731.33,1947.63 1739.13,1952.91 1746.94,1958.18 C1754.75,1963.46 1762.55,1968.86 1770.36,1974.01 C1778.17,1979.15 1785.97,1983.96 1793.78,1989.04 C1801.59,1994.12 1809.39,1999.39 1817.2,2004.47 C1825.01,2009.55 1835.03,2015.92 1840.62,2019.5 C1846.21,2023.09 1849.04,2024.9 1850.72,2025.98" fill="none" stroke="#333" stroke-width="1.1" stroke-linejoin="round"/>
<rect x="1225.85" y="2059.15" width="11.7" height="11.7" fill="#fff" stroke="#00ff00" stroke-width="3" stroke-linejoin="round"/>
<rect x="1249.27" y="2021.17" width="11.7" height="11.7" fill="#fff" stroke="#00ff00" stroke-width="3" stroke-linejoin="round"/>
<rect x="1272.69" y="1986.35" width="11.7" height="11.7" fill="#fff" stroke="#00ff00" stroke-width="3" stroke-linejoin="round"/>
<rect x="1296.11" y="1953.12" width="11.7" height="11.7" fill="#fff" stroke="#00ff00" stroke-width="3" stroke-linejoin="round"/>
<rect x="1319.53" y="1922.66" width="11.7" height="11.7" fill="#fff" stroke="#00ff00" stroke-width="3" stroke-linejoin="round"/>
<rect x="1342.95" y="1894.58" width="11.7" height="11.7" fill="#fff" stroke="#00ff00" stroke-width="3" stroke-linejoin="round"/>
<rect x="1366.37" y="1868.07" width="11.7" height="11.7" fill="#fff" stroke="#00ff00" stroke-width="3" stroke-linejoin="round"/>
<rect x="1389.79" y="1843.54" width="11.7" height="11.7" fill="#fff" stroke="#00ff00" stroke-width="3" stroke-linejoin="round"/>
<rect x="1413.21" y="1820.6" width="11.7" height="11.7" fill="#fff" stroke="#00ff00" stroke-width="3" stroke-linejoin="round"/>
<rect x="1436.63" y="1799.24" width="11.7" height="11.7" fill="#fff" stroke="#00ff00" stroke-width="3" stroke-linejoin="round"/>
<rect x="1460.05" y="1779.06" width="11.7" height="11.7" fill="#fff" stroke="#00ff00" stroke-width="3" stroke-linejoin="round"/>
<rect x="1483.47" y="1759.68" width="11.7" height="11.7" fill="#fff" stroke="#00ff00" stroke-width="3" stroke-linejoin="round"/>
<rect x="1506.89" y="1743.46" width="11.7" height="11.7" fill="#fff" stroke="#00ff00" stroke-width="3" stroke-linejoin="round"/>
<rect x="1530.31" y="1727.24" width="11.7" height="11.7" fill="#fff" stroke="#00ff00" stroke-width="3" stroke-linejoin="round"/>
<rect x="1553.73" y="1712.2" width="11.7" height="11.7" fill="#fff" stroke="#00ff00" stroke-width="3" stroke-linejoin="round"/>
<rect x="1577.15" y="1698.36" width="11.7" height="11.7" fill="#fff" stroke="#00ff00" stroke-width="3" stroke-linejoin="round"/>
<rect x="1600.57" y="1685.7" width="11.7" height="11.7" fill="#fff" stroke="#00ff00" stroke-width="3" stroke-linejoin="round"/>
<rect x="1623.99" y="1673.43" width="11.7" height="11.7" fill="#fff" stroke="#00ff00" stroke-width="3" stroke-linejoin="round"/>
<rect x="1647.41" y="1661.96" width="11.7" height="11.7" fill="#fff" stroke="#00ff00" stroke-width="3" stroke-linejoin="round"/>
<rect x="1670.83" y="1651.28" width="11.7" height="11.7" fill="#fff" stroke="#00ff00" stroke-width="3" stroke-linejoin="round"/>
<rect x="1694.25" y="1641.39" width="11.7" height="11.7" fill="#fff" stroke="#00ff00" stroke-width="3" stroke-linejoin="round"/>
<rect x="1717.67" y="1631.9" width="11.7" height="11.7" fill="#fff" stroke="#00ff00" stroke-width="3" stroke-linejoin="round"/>
<rect x="1741.09" y="1623.59" width="11.7" height="11.7" fill="#fff" stroke="#00ff00" stroke-width="3" stroke-linejoin="round"/>
<rect x="1764.51" y="1615.68" width="11.7" height="11.7" fill="#fff" stroke="#00ff00" stroke-width="3" stroke-linejoin="round"/>
<rect x="1787.93" y="1608.16" width="11.7" height="11.7" fill="#fff" stroke="#00ff00" stroke-width="3" stroke-linejoin="round"/>
<rect x="1811.35" y="1601.04" width="11.7" height="11.7" fill="#fff" stroke="#00ff00" stroke-width="3" stroke-linejoin="round"/>
<rect x="1834.77" y="1594.31" width="11.7" height="11.7" fill="#fff" stroke="#00ff00" stroke-width="3" stroke-linejoin="round"/>
<circle cx="1231.7" cy="1664.65" r="6.9" fill="#fff" stroke="#ff00ff" stroke-width="3.2"/>
<circle cx="1255.12" cy="1666.63" r="6.9" fill="#fff" stroke="#ff00ff" stroke-width="3.2"/>
<circle cx="1278.54" cy="1670.19" r="6.9" fill="#fff" stroke="#ff00ff" stroke-width="3.2"/>
<circle cx="1301.96" cy="1676.91" r="6.9" fill="#fff" stroke="#ff00ff" stroke-width="3.2"/>
<circle cx="1325.38" cy="1685.22" r="6.9" fill="#fff" stroke="#ff00ff" stroke-width="3.2"/>
<circle cx="1348.8" cy="1695.11" r="6.9" fill="#fff" stroke="#ff00ff" stroke-width="3.2"/>
<circle cx="1372.22" cy="1706.58" r="6.9" fill="#fff" stroke="#ff00ff" stroke-width="3.2"/>
<circle cx="1395.64" cy="1719.24" r="6.9" fill="#fff" stroke="#ff00ff" stroke-width="3.2"/>
<circle cx="1419.06" cy="1732.29" r="6.9" fill="#fff" stroke="#ff00ff" stroke-width="3.2"/>
<circle cx="1442.48" cy="1746.54" r="6.9" fill="#fff" stroke="#ff00ff" stroke-width="3.2"/>
<circle cx="1465.9" cy="1761.17" r="6.9" fill="#fff" stroke="#ff00ff" stroke-width="3.2"/>
<circle cx="1489.32" cy="1775.81" r="6.9" fill="#fff" stroke="#ff00ff" stroke-width="3.2"/>
<circle cx="1512.74" cy="1792.82" r="6.9" fill="#fff" stroke="#ff00ff" stroke-width="3.2"/>
<circle cx="1536.16" cy="1809.83" r="6.9" fill="#fff" stroke="#ff00ff" stroke-width="3.2"/>
<circle cx="1559.58" cy="1826.84" r="6.9" fill="#fff" stroke="#ff00ff" stroke-width="3.2"/>
<circle cx="1583" cy="1843.85" r="6.9" fill="#fff" stroke="#ff00ff" stroke-width="3.2"/>
<circle cx="1606.42" cy="1861.26" r="6.9" fill="#fff" stroke="#ff00ff" stroke-width="3.2"/>
<circle cx="1629.84" cy="1877.88" r="6.9" fill="#fff" stroke="#ff00ff" stroke-width="3.2"/>
<circle cx="1653.26" cy="1894.1" r="6.9" fill="#fff" stroke="#ff00ff" stroke-width="3.2"/>
<circle cx="1676.68" cy="1910.71" r="6.9" fill="#fff" stroke="#ff00ff" stroke-width="3.2"/>
<circle cx="1700.1" cy="1926.53" r="6.9" fill="#fff" stroke="#ff00ff" stroke-width="3.2"/>
<circle cx="1723.52" cy="1942.36" r="6.9" fill="#fff" stroke="#ff00ff" stroke-width="3.2"/>
<circle cx="1746.94" cy="1958.18" r="6.9" fill="#fff" stroke="#ff00ff" stroke-width="3.2"/>
<circle cx="1770.36" cy="1974.01" r="6.9" fill="#fff" stroke="#ff00ff" stroke-width="3.2"/>
<circle cx="1793.78" cy="1989.04" r="6.9" fill="#fff" stroke="#ff00ff" stroke-width="3.2"/>
<circle cx="1817.2" cy="2004.47" r="6.9" fill="#fff" stroke="#ff00ff" stroke-width="3.2"/>
<circle cx="1840.62" cy="2019.5" r="6.9" fill="#fff" stroke="#ff00ff" stroke-width="3.2"/>
<ellipse cx="1395.6" cy="1890.1" rx="50" ry="50" fill="none" stroke="#000" stroke-width="4.2"/>
<ellipse cx="1614" cy="1870" rx="50.3" ry="49.5" fill="none" stroke="#000" stroke-width="4.2"/>
<line x1="1341" y1="1891" x2="1276.8" y2="1891" stroke="#000" stroke-width="3.6" stroke-linecap="butt"/>
<polygon points="1252.8,1891 1277.8,1878.35 1277.8,1903.65" fill="#000"/>
<line x1="1665.4" y1="1866" x2="1728.5" y2="1866" stroke="#000" stroke-width="3.6" stroke-linecap="butt"/>
<polygon points="1752.5,1866 1727.5,1853.35 1727.5,1878.65" fill="#000"/>
<rect x="1362.3" y="1970.4" width="367.5" height="48.4" fill="#fff" stroke="#444" stroke-width="1.3"/>
<g transform="translate(1368.6,2007.9)"><text x="0" y="0" font-size="33.21" font-family="'Liberation Sans', Arial, sans-serif" ><tspan font-family="'Liberation Serif', 'Times New Roman', serif">χ</tspan>-PEDOT:PSS = 3.60eV</text></g>
</svg>
</body></html>
